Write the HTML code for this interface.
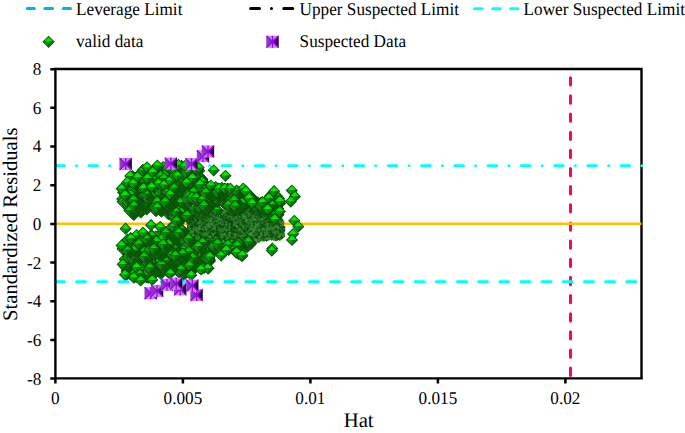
<!DOCTYPE html>
<html><head><meta charset="utf-8"><style>
html,body{margin:0;padding:0;background:#fff;}
svg{display:block;}
</style></head><body>
<svg width="685" height="433" viewBox="0 0 685 433" text-rendering="geometricPrecision">
<defs>
<radialGradient id="gt" gradientUnits="userSpaceOnUse" cx="0" cy="-0.8" r="5.4">
<stop offset="0" stop-color="#00FF00"/><stop offset="0.45" stop-color="#03D803"/><stop offset="1" stop-color="#0A9A0A"/>
</radialGradient>
<radialGradient id="gd" gradientUnits="userSpaceOnUse" cx="0" cy="-0.8" r="5.4">
<stop offset="0" stop-color="#00E400"/><stop offset="0.45" stop-color="#05BC05"/><stop offset="1" stop-color="#0A860A"/>
</radialGradient>
<g id="g">
<path d="M0-6.1L6.1 0L0 6.1L-6.1 0Z" fill="#0A4A0A"/>
<path d="M0-5L5 0H-5Z" fill="url(#gd)"/>
<path d="M-5 0H0V5Z" fill="#0C8A0C"/>
<path d="M5 0H0V5Z" fill="#0A6A0A"/>
<path d="M-5.1 0.3L-0.3 5.1" stroke="#4A884A" stroke-width="0.8"/>
</g>
<g id="gL">
<path d="M0-6.1L6.1 0L0 6.1L-6.1 0Z" fill="#0A4C0A"/>
<path d="M0-5L5 0H-5Z" fill="url(#gt)"/>
<path d="M-5 0H0V5Z" fill="#0E9A0E"/>
<path d="M5 0H0V5Z" fill="#0A760A"/>
</g>
<pattern id="hatch" patternUnits="userSpaceOnUse" width="3" height="3" patternTransform="rotate(60)">
<rect width="3" height="3" fill="#317431"/><rect width="1.5" height="3" fill="#0C4A0C"/>
</pattern>
<linearGradient id="pr" gradientUnits="userSpaceOnUse" x1="6" y1="0" x2="0" y2="0">
<stop offset="0" stop-color="#1A0424"/><stop offset="0.5" stop-color="#3A0E50"/><stop offset="1" stop-color="#7A2AA8"/>
</linearGradient>
<linearGradient id="pl" gradientUnits="userSpaceOnUse" x1="-6" y1="0" x2="0" y2="0">
<stop offset="0" stop-color="#8A48C0"/><stop offset="1" stop-color="#7030A8"/>
</linearGradient>
<g id="p">
<rect x="-6.1" y="-6" width="12.2" height="12" fill="#CC80FA"/>
<path d="M-6.1-6L0 0L-6.1 6Z" fill="url(#pl)"/>
<path d="M6.1-6L0 0L6.1 6Z" fill="url(#pr)"/>
<path d="M-6.1-6L6.1 6M6.1-6L-6.1 6M0-6V6" stroke="#A000F0" stroke-width="1.3"/>
</g>
</defs>
<g stroke-linecap="round" fill="none" stroke-width="3">
<path d="M27.3 8.4H34.3M44.9 8.4H52.6M63.3 8.4H70.5" stroke="#00B0F0"/>
<path d="M250.6 8.4H259.5M271.5 8.4H271.5M283.8 8.4H292.8" stroke="#000"/>
<path d="M474.5 8.8H482.2M492.6 8.8H500.3M510.6 8.8H518" stroke="#00FFFF"/>
</g>
<g font-family="Liberation Serif" font-size="17.2" fill="#000">
<text transform="translate(76 14.9) scale(1 1.04)" text-anchor="start">Leverage Limit</text>
<text transform="translate(299.6 14.9) scale(1 1.04)" text-anchor="start">Upper Suspected Limit</text>
<text transform="translate(523.6 14.9) scale(1 1.04)" text-anchor="start">Lower Suspected Limit</text>
<text transform="translate(76 47.4) scale(1 1.04)" text-anchor="start">valid data</text>
<text transform="translate(299.6 47.4) scale(1 1.04)" text-anchor="start">Suspected Data</text>
</g>
<g font-family="Liberation Serif" font-size="17.2" fill="#000" text-anchor="end">
<text transform="translate(41.3 384.5) scale(1 1.04)" text-anchor="end">-8</text>
<text transform="translate(41.3 345.8) scale(1 1.04)" text-anchor="end">-6</text>
<text transform="translate(41.3 307.2) scale(1 1.04)" text-anchor="end">-4</text>
<text transform="translate(41.3 268.5) scale(1 1.04)" text-anchor="end">-2</text>
<text transform="translate(41.3 229.8) scale(1 1.04)" text-anchor="end">0</text>
<text transform="translate(41.3 191.1) scale(1 1.04)" text-anchor="end">2</text>
<text transform="translate(41.3 152.4) scale(1 1.04)" text-anchor="end">4</text>
<text transform="translate(41.3 113.8) scale(1 1.04)" text-anchor="end">6</text>
<text transform="translate(41.3 75.1) scale(1 1.04)" text-anchor="end">8</text>
</g>
<g font-family="Liberation Serif" font-size="17.2" fill="#000" text-anchor="middle">
<text transform="translate(55.4 403.9) scale(1 1.04)" text-anchor="middle">0</text>
<text transform="translate(182.9 403.9) scale(1 1.04)" text-anchor="middle">0.005</text>
<text transform="translate(310.4 403.9) scale(1 1.04)" text-anchor="middle">0.01</text>
<text transform="translate(437.9 403.9) scale(1 1.04)" text-anchor="middle">0.015</text>
<text transform="translate(565.4 403.9) scale(1 1.04)" text-anchor="middle">0.02</text>
</g>
<text font-family="Liberation Serif" font-size="20.7" x="358.7" y="426.8" text-anchor="middle">Hat</text>
<text font-family="Liberation Serif" font-size="20.7" transform="translate(17.4,224.2) rotate(-90)" text-anchor="middle">Standardized Residuals</text>
<path d="M55.4 69.0H641.5V378.4" fill="none" stroke="#000" stroke-width="2.4"/>
<line x1="570.5" x2="570.5" y1="77.7" y2="378.4" stroke="#FF0066" stroke-width="3" stroke-linecap="round" stroke-dasharray="7.3 10.85"/>
<line x1="55.4" x2="641.5" y1="223.70" y2="223.70" stroke="#FFC000" stroke-width="2.5"/>
<line x1="55.74" x2="642.6" y1="165.68" y2="165.68" stroke="#00FFFF" stroke-width="3" stroke-linecap="round" stroke-dasharray="8.5 12.3 0 12.46"/>
<line x1="55.44" x2="641.5" y1="281.72" y2="281.72" stroke="#00FFFF" stroke-width="3" stroke-linecap="round" stroke-dasharray="8.9 12.26"/>
<use href="#gL" x="48.6" y="41.8"/><use href="#p" transform="translate(272.5 41.8)"/><path d="M192 213L205 211L240 210L262 211L276 213L283 219L285 236L281 240L270 240L255 242L240 244L228 246L215 245L195 242L187 234L187 220Z" fill="url(#hatch)"/><path d="M193.6 236.5l1.4 1.4l-1.4 1.4l-1.4 -1.4z" fill="#3A843A"/><path d="M239.8 226.6l1.0 1.0l-1.0 1.0l-1.0 -1.0z" fill="#0E520E"/><path d="M212.8 225.8l1.6 1.6l-1.6 1.6l-1.6 -1.6z" fill="#3F8A3F"/><path d="M266.4 222.1l1.0 1.0l-1.0 1.0l-1.0 -1.0z" fill="#0B480B"/><path d="M214.8 241.5l1.1 1.1l-1.1 1.1l-1.1 -1.1z" fill="#0E520E"/><path d="M231.2 242.5l0.9 0.9l-0.9 0.9l-0.9 -0.9z" fill="#1E8A1E"/><path d="M209.0 227.4l1.9 1.9l-1.9 1.9l-1.9 -1.9z" fill="#0E520E"/><path d="M199.3 226.6l1.7 1.7l-1.7 1.7l-1.7 -1.7z" fill="#3A843A"/><path d="M252.9 225.2l1.1 1.1l-1.1 1.1l-1.1 -1.1z" fill="#0B480B"/><path d="M235.1 221.4l1.4 1.4l-1.4 1.4l-1.4 -1.4z" fill="#1E8A1E"/><path d="M222.6 238.3l1.7 1.7l-1.7 1.7l-1.7 -1.7z" fill="#1A5E1A"/><path d="M217.4 229.0l1.2 1.2l-1.2 1.2l-1.2 -1.2z" fill="#0B480B"/><path d="M231.3 220.4l1.6 1.6l-1.6 1.6l-1.6 -1.6z" fill="#0E520E"/><path d="M223.0 224.3l1.7 1.7l-1.7 1.7l-1.7 -1.7z" fill="#3F8A3F"/><path d="M227.3 241.4l1.1 1.1l-1.1 1.1l-1.1 -1.1z" fill="#3F8A3F"/><path d="M260.1 223.3l1.4 1.4l-1.4 1.4l-1.4 -1.4z" fill="#0E520E"/><path d="M249.4 227.0l1.4 1.4l-1.4 1.4l-1.4 -1.4z" fill="#1A5E1A"/><path d="M256.9 226.7l1.7 1.7l-1.7 1.7l-1.7 -1.7z" fill="#0E520E"/><path d="M281.5 233.3l1.0 1.0l-1.0 1.0l-1.0 -1.0z" fill="#1E8A1E"/><path d="M216.9 229.8l1.2 1.2l-1.2 1.2l-1.2 -1.2z" fill="#3F8A3F"/><path d="M270.8 224.7l1.8 1.8l-1.8 1.8l-1.8 -1.8z" fill="#0B480B"/><path d="M199.1 219.0l1.4 1.4l-1.4 1.4l-1.4 -1.4z" fill="#0E520E"/><path d="M260.2 225.9l1.1 1.1l-1.1 1.1l-1.1 -1.1z" fill="#1A5E1A"/><path d="M220.4 219.8l1.2 1.2l-1.2 1.2l-1.2 -1.2z" fill="#0B480B"/><path d="M202.6 223.0l1.4 1.4l-1.4 1.4l-1.4 -1.4z" fill="#3F8A3F"/><path d="M263.5 237.0l1.5 1.5l-1.5 1.5l-1.5 -1.5z" fill="#0B480B"/><path d="M232.1 235.9l1.9 1.9l-1.9 1.9l-1.9 -1.9z" fill="#1A5E1A"/><path d="M253.5 236.7l1.9 1.9l-1.9 1.9l-1.9 -1.9z" fill="#0B480B"/><path d="M213.7 224.8l1.8 1.8l-1.8 1.8l-1.8 -1.8z" fill="#1E8A1E"/><path d="M257.7 212.8l1.6 1.6l-1.6 1.6l-1.6 -1.6z" fill="#0E520E"/><path d="M192.9 220.4l1.8 1.8l-1.8 1.8l-1.8 -1.8z" fill="#2A702A"/><path d="M228.8 229.5l1.7 1.7l-1.7 1.7l-1.7 -1.7z" fill="#3F8A3F"/><path d="M268.1 236.2l0.9 0.9l-0.9 0.9l-0.9 -0.9z" fill="#0E520E"/><path d="M228.0 225.2l1.0 1.0l-1.0 1.0l-1.0 -1.0z" fill="#1E8A1E"/><path d="M240.1 229.7l1.8 1.8l-1.8 1.8l-1.8 -1.8z" fill="#0E520E"/><path d="M209.0 232.3l1.0 1.0l-1.0 1.0l-1.0 -1.0z" fill="#2A702A"/><path d="M208.4 229.2l1.1 1.1l-1.1 1.1l-1.1 -1.1z" fill="#1E8A1E"/><path d="M264.2 239.8l0.9 0.9l-0.9 0.9l-0.9 -0.9z" fill="#0E520E"/><path d="M239.3 236.5l2.0 2.0l-2.0 2.0l-2.0 -2.0z" fill="#0E520E"/><path d="M213.4 213.4l1.9 1.9l-1.9 1.9l-1.9 -1.9z" fill="#1A5E1A"/><path d="M276.9 214.9l1.4 1.4l-1.4 1.4l-1.4 -1.4z" fill="#3A843A"/><path d="M257.9 239.2l1.1 1.1l-1.1 1.1l-1.1 -1.1z" fill="#0E520E"/><path d="M252.5 237.4l1.5 1.5l-1.5 1.5l-1.5 -1.5z" fill="#1E8A1E"/><path d="M214.2 237.9l0.9 0.9l-0.9 0.9l-0.9 -0.9z" fill="#0E520E"/><path d="M192.4 213.6l0.9 0.9l-0.9 0.9l-0.9 -0.9z" fill="#0B480B"/><path d="M238.5 233.4l1.4 1.4l-1.4 1.4l-1.4 -1.4z" fill="#1A5E1A"/><path d="M199.5 219.7l1.5 1.5l-1.5 1.5l-1.5 -1.5z" fill="#347E34"/><path d="M231.9 235.7l1.9 1.9l-1.9 1.9l-1.9 -1.9z" fill="#1E8A1E"/><path d="M247.0 240.4l0.9 0.9l-0.9 0.9l-0.9 -0.9z" fill="#3F8A3F"/><path d="M213.2 218.2l1.0 1.0l-1.0 1.0l-1.0 -1.0z" fill="#3A843A"/><path d="M253.3 210.3l1.3 1.3l-1.3 1.3l-1.3 -1.3z" fill="#347E34"/><path d="M227.8 214.2l1.5 1.5l-1.5 1.5l-1.5 -1.5z" fill="#347E34"/><path d="M239.5 219.0l1.7 1.7l-1.7 1.7l-1.7 -1.7z" fill="#3A843A"/><path d="M202.0 214.8l1.3 1.3l-1.3 1.3l-1.3 -1.3z" fill="#2A702A"/><path d="M223.8 214.7l1.9 1.9l-1.9 1.9l-1.9 -1.9z" fill="#1A5E1A"/><path d="M268.8 211.6l1.3 1.3l-1.3 1.3l-1.3 -1.3z" fill="#0E520E"/><path d="M209.3 224.5l1.2 1.2l-1.2 1.2l-1.2 -1.2z" fill="#1A5E1A"/><path d="M236.2 241.8l1.3 1.3l-1.3 1.3l-1.3 -1.3z" fill="#0E520E"/><path d="M251.0 229.3l1.7 1.7l-1.7 1.7l-1.7 -1.7z" fill="#2A702A"/><path d="M192.2 234.6l1.9 1.9l-1.9 1.9l-1.9 -1.9z" fill="#1E8A1E"/><path d="M246.4 218.0l1.6 1.6l-1.6 1.6l-1.6 -1.6z" fill="#347E34"/><path d="M257.2 232.2l1.1 1.1l-1.1 1.1l-1.1 -1.1z" fill="#3A843A"/><path d="M228.5 230.0l0.9 0.9l-0.9 0.9l-0.9 -0.9z" fill="#347E34"/><path d="M249.7 236.1l1.1 1.1l-1.1 1.1l-1.1 -1.1z" fill="#2A702A"/><path d="M216.8 216.6l1.6 1.6l-1.6 1.6l-1.6 -1.6z" fill="#0E520E"/><path d="M232.2 224.4l1.0 1.0l-1.0 1.0l-1.0 -1.0z" fill="#0E520E"/><path d="M254.5 237.6l1.6 1.6l-1.6 1.6l-1.6 -1.6z" fill="#1E8A1E"/><path d="M210.2 237.0l1.1 1.1l-1.1 1.1l-1.1 -1.1z" fill="#3F8A3F"/><path d="M268.7 229.3l1.2 1.2l-1.2 1.2l-1.2 -1.2z" fill="#0E520E"/><path d="M237.3 231.1l1.2 1.2l-1.2 1.2l-1.2 -1.2z" fill="#3A843A"/><path d="M270.7 222.7l1.9 1.9l-1.9 1.9l-1.9 -1.9z" fill="#0E520E"/><path d="M269.5 211.1l1.6 1.6l-1.6 1.6l-1.6 -1.6z" fill="#347E34"/><path d="M217.0 235.4l1.5 1.5l-1.5 1.5l-1.5 -1.5z" fill="#3F8A3F"/><path d="M231.8 241.2l1.0 1.0l-1.0 1.0l-1.0 -1.0z" fill="#0B480B"/><path d="M241.7 220.2l0.9 0.9l-0.9 0.9l-0.9 -0.9z" fill="#0E520E"/><path d="M261.4 227.9l1.9 1.9l-1.9 1.9l-1.9 -1.9z" fill="#1E8A1E"/><path d="M245.8 219.5l2.0 2.0l-2.0 2.0l-2.0 -2.0z" fill="#3A843A"/><path d="M259.3 221.4l1.3 1.3l-1.3 1.3l-1.3 -1.3z" fill="#3A843A"/><path d="M273.7 219.2l1.9 1.9l-1.9 1.9l-1.9 -1.9z" fill="#3A843A"/><path d="M250.4 220.2l1.0 1.0l-1.0 1.0l-1.0 -1.0z" fill="#347E34"/><path d="M226.5 213.7l1.2 1.2l-1.2 1.2l-1.2 -1.2z" fill="#347E34"/><path d="M276.0 213.3l1.8 1.8l-1.8 1.8l-1.8 -1.8z" fill="#0E520E"/><path d="M239.0 208.7l1.9 1.9l-1.9 1.9l-1.9 -1.9z" fill="#0E520E"/><path d="M221.8 234.6l1.5 1.5l-1.5 1.5l-1.5 -1.5z" fill="#2A702A"/><path d="M195.3 211.9l1.1 1.1l-1.1 1.1l-1.1 -1.1z" fill="#347E34"/><path d="M195.1 226.8l1.0 1.0l-1.0 1.0l-1.0 -1.0z" fill="#0E520E"/><path d="M207.5 235.3l1.9 1.9l-1.9 1.9l-1.9 -1.9z" fill="#0B480B"/><path d="M224.9 227.1l1.9 1.9l-1.9 1.9l-1.9 -1.9z" fill="#2A702A"/><path d="M268.3 230.2l1.3 1.3l-1.3 1.3l-1.3 -1.3z" fill="#347E34"/><path d="M273.2 234.5l1.0 1.0l-1.0 1.0l-1.0 -1.0z" fill="#2A702A"/><path d="M215.9 225.5l1.5 1.5l-1.5 1.5l-1.5 -1.5z" fill="#3F8A3F"/><path d="M269.3 216.2l1.6 1.6l-1.6 1.6l-1.6 -1.6z" fill="#3A843A"/><path d="M223.4 236.6l1.1 1.1l-1.1 1.1l-1.1 -1.1z" fill="#0B480B"/><path d="M233.7 211.7l1.1 1.1l-1.1 1.1l-1.1 -1.1z" fill="#347E34"/><path d="M279.5 218.8l1.9 1.9l-1.9 1.9l-1.9 -1.9z" fill="#3A843A"/><path d="M238.4 208.7l1.8 1.8l-1.8 1.8l-1.8 -1.8z" fill="#0E520E"/><path d="M202.6 219.7l1.9 1.9l-1.9 1.9l-1.9 -1.9z" fill="#0E520E"/><path d="M234.6 231.6l1.7 1.7l-1.7 1.7l-1.7 -1.7z" fill="#347E34"/><path d="M197.0 238.1l1.9 1.9l-1.9 1.9l-1.9 -1.9z" fill="#0B480B"/><path d="M201.5 228.0l1.2 1.2l-1.2 1.2l-1.2 -1.2z" fill="#1A5E1A"/><path d="M237.3 236.6l1.7 1.7l-1.7 1.7l-1.7 -1.7z" fill="#2A702A"/><path d="M196.8 238.7l1.2 1.2l-1.2 1.2l-1.2 -1.2z" fill="#0E520E"/><path d="M266.8 226.3l1.1 1.1l-1.1 1.1l-1.1 -1.1z" fill="#1A5E1A"/><path d="M259.4 237.2l1.7 1.7l-1.7 1.7l-1.7 -1.7z" fill="#3F8A3F"/><path d="M209.6 213.0l1.5 1.5l-1.5 1.5l-1.5 -1.5z" fill="#3F8A3F"/><path d="M225.9 220.8l1.4 1.4l-1.4 1.4l-1.4 -1.4z" fill="#347E34"/><path d="M233.2 217.8l1.4 1.4l-1.4 1.4l-1.4 -1.4z" fill="#0E520E"/><path d="M278.9 214.0l1.6 1.6l-1.6 1.6l-1.6 -1.6z" fill="#0E520E"/><path d="M250.4 218.0l1.4 1.4l-1.4 1.4l-1.4 -1.4z" fill="#347E34"/><path d="M283.0 220.0l1.7 1.7l-1.7 1.7l-1.7 -1.7z" fill="#3F8A3F"/><path d="M270.0 220.4l2.0 2.0l-2.0 2.0l-2.0 -2.0z" fill="#1E8A1E"/><path d="M248.6 225.9l1.7 1.7l-1.7 1.7l-1.7 -1.7z" fill="#2A702A"/><path d="M228.4 234.2l1.2 1.2l-1.2 1.2l-1.2 -1.2z" fill="#0E520E"/><path d="M278.7 227.9l1.2 1.2l-1.2 1.2l-1.2 -1.2z" fill="#3F8A3F"/><path d="M229.7 240.3l1.8 1.8l-1.8 1.8l-1.8 -1.8z" fill="#1E8A1E"/><path d="M234.4 220.7l1.3 1.3l-1.3 1.3l-1.3 -1.3z" fill="#2A702A"/><path d="M208.4 220.4l1.5 1.5l-1.5 1.5l-1.5 -1.5z" fill="#3F8A3F"/><path d="M205.2 225.5l1.5 1.5l-1.5 1.5l-1.5 -1.5z" fill="#3A843A"/><path d="M251.7 211.4l1.6 1.6l-1.6 1.6l-1.6 -1.6z" fill="#3F8A3F"/><path d="M277.6 217.8l1.3 1.3l-1.3 1.3l-1.3 -1.3z" fill="#1A5E1A"/><path d="M231.9 242.8l1.6 1.6l-1.6 1.6l-1.6 -1.6z" fill="#0E520E"/><path d="M221.3 220.9l1.9 1.9l-1.9 1.9l-1.9 -1.9z" fill="#0E520E"/><path d="M268.2 212.9l1.2 1.2l-1.2 1.2l-1.2 -1.2z" fill="#0E520E"/><path d="M223.2 215.5l1.5 1.5l-1.5 1.5l-1.5 -1.5z" fill="#0E520E"/><path d="M208.4 228.3l1.9 1.9l-1.9 1.9l-1.9 -1.9z" fill="#1A5E1A"/><path d="M270.9 211.5l1.1 1.1l-1.1 1.1l-1.1 -1.1z" fill="#1A5E1A"/><path d="M227.3 231.6l1.3 1.3l-1.3 1.3l-1.3 -1.3z" fill="#0B480B"/><path d="M211.2 220.6l1.1 1.1l-1.1 1.1l-1.1 -1.1z" fill="#347E34"/><path d="M272.2 233.4l1.4 1.4l-1.4 1.4l-1.4 -1.4z" fill="#0E520E"/><path d="M256.0 226.8l1.5 1.5l-1.5 1.5l-1.5 -1.5z" fill="#2A702A"/><path d="M222.7 225.1l2.0 2.0l-2.0 2.0l-2.0 -2.0z" fill="#2A702A"/><path d="M264.4 238.6l1.0 1.0l-1.0 1.0l-1.0 -1.0z" fill="#0B480B"/><path d="M236.4 221.6l1.0 1.0l-1.0 1.0l-1.0 -1.0z" fill="#0E520E"/><path d="M225.5 210.6l1.2 1.2l-1.2 1.2l-1.2 -1.2z" fill="#3F8A3F"/><path d="M265.9 232.7l1.7 1.7l-1.7 1.7l-1.7 -1.7z" fill="#1E8A1E"/><path d="M193.9 214.1l0.9 0.9l-0.9 0.9l-0.9 -0.9z" fill="#3A843A"/><path d="M195.8 210.8l2.0 2.0l-2.0 2.0l-2.0 -2.0z" fill="#3A843A"/><path d="M275.4 215.4l1.2 1.2l-1.2 1.2l-1.2 -1.2z" fill="#0E520E"/><path d="M282.1 228.8l1.3 1.3l-1.3 1.3l-1.3 -1.3z" fill="#1E8A1E"/><path d="M232.7 217.5l1.5 1.5l-1.5 1.5l-1.5 -1.5z" fill="#0B480B"/><path d="M258.5 226.3l1.8 1.8l-1.8 1.8l-1.8 -1.8z" fill="#347E34"/><path d="M197.3 229.3l2.0 2.0l-2.0 2.0l-2.0 -2.0z" fill="#1E8A1E"/><path d="M200.9 225.7l1.6 1.6l-1.6 1.6l-1.6 -1.6z" fill="#3F8A3F"/><path d="M219.8 243.3l1.4 1.4l-1.4 1.4l-1.4 -1.4z" fill="#3F8A3F"/><path d="M233.9 241.5l0.9 0.9l-0.9 0.9l-0.9 -0.9z" fill="#3F8A3F"/><path d="M272.9 212.5l1.3 1.3l-1.3 1.3l-1.3 -1.3z" fill="#3F8A3F"/><path d="M234.8 225.7l0.9 0.9l-0.9 0.9l-0.9 -0.9z" fill="#0E520E"/><path d="M217.7 220.2l2.0 2.0l-2.0 2.0l-2.0 -2.0z" fill="#347E34"/><path d="M277.7 228.7l1.9 1.9l-1.9 1.9l-1.9 -1.9z" fill="#3F8A3F"/><path d="M272.4 221.9l1.0 1.0l-1.0 1.0l-1.0 -1.0z" fill="#0B480B"/><path d="M246.7 220.0l0.9 0.9l-0.9 0.9l-0.9 -0.9z" fill="#1A5E1A"/><path d="M239.7 230.2l1.6 1.6l-1.6 1.6l-1.6 -1.6z" fill="#0E520E"/><path d="M278.7 224.8l1.5 1.5l-1.5 1.5l-1.5 -1.5z" fill="#1A5E1A"/><path d="M208.7 216.5l1.5 1.5l-1.5 1.5l-1.5 -1.5z" fill="#347E34"/><path d="M222.8 235.5l1.2 1.2l-1.2 1.2l-1.2 -1.2z" fill="#0E520E"/><path d="M272.3 233.4l1.6 1.6l-1.6 1.6l-1.6 -1.6z" fill="#0E520E"/><path d="M203.9 240.7l1.9 1.9l-1.9 1.9l-1.9 -1.9z" fill="#3A843A"/><path d="M193.8 236.7l0.9 0.9l-0.9 0.9l-0.9 -0.9z" fill="#0B480B"/><path d="M199.5 211.8l1.2 1.2l-1.2 1.2l-1.2 -1.2z" fill="#0E520E"/><path d="M224.8 241.3l1.4 1.4l-1.4 1.4l-1.4 -1.4z" fill="#0B480B"/><path d="M198.4 218.2l0.9 0.9l-0.9 0.9l-0.9 -0.9z" fill="#0E520E"/><path d="M188.8 223.5l1.5 1.5l-1.5 1.5l-1.5 -1.5z" fill="#1E8A1E"/><path d="M211.0 222.0l1.0 1.0l-1.0 1.0l-1.0 -1.0z" fill="#0E520E"/><path d="M251.9 222.4l1.1 1.1l-1.1 1.1l-1.1 -1.1z" fill="#3A843A"/><path d="M235.7 215.5l1.2 1.2l-1.2 1.2l-1.2 -1.2z" fill="#0B480B"/><path d="M198.4 236.7l1.2 1.2l-1.2 1.2l-1.2 -1.2z" fill="#0E520E"/><path d="M281.6 222.9l1.1 1.1l-1.1 1.1l-1.1 -1.1z" fill="#1A5E1A"/><path d="M256.5 234.3l1.9 1.9l-1.9 1.9l-1.9 -1.9z" fill="#3F8A3F"/><path d="M199.2 236.4l1.8 1.8l-1.8 1.8l-1.8 -1.8z" fill="#0E520E"/><path d="M216.5 224.2l1.6 1.6l-1.6 1.6l-1.6 -1.6z" fill="#2A702A"/><path d="M210.6 239.6l1.7 1.7l-1.7 1.7l-1.7 -1.7z" fill="#3A843A"/><path d="M271.7 224.2l1.5 1.5l-1.5 1.5l-1.5 -1.5z" fill="#3A843A"/><path d="M205.4 218.9l1.7 1.7l-1.7 1.7l-1.7 -1.7z" fill="#347E34"/><path d="M229.5 237.2l1.1 1.1l-1.1 1.1l-1.1 -1.1z" fill="#0E520E"/><path d="M233.7 226.2l1.8 1.8l-1.8 1.8l-1.8 -1.8z" fill="#0E520E"/><path d="M236.7 220.9l1.2 1.2l-1.2 1.2l-1.2 -1.2z" fill="#347E34"/><path d="M263.2 233.3l1.0 1.0l-1.0 1.0l-1.0 -1.0z" fill="#347E34"/><path d="M240.8 236.6l1.9 1.9l-1.9 1.9l-1.9 -1.9z" fill="#347E34"/><path d="M190.3 232.7l1.6 1.6l-1.6 1.6l-1.6 -1.6z" fill="#347E34"/><path d="M281.2 231.4l1.0 1.0l-1.0 1.0l-1.0 -1.0z" fill="#2A702A"/><path d="M253.0 216.6l1.8 1.8l-1.8 1.8l-1.8 -1.8z" fill="#0E520E"/><path d="M189.1 219.3l1.6 1.6l-1.6 1.6l-1.6 -1.6z" fill="#0E520E"/><path d="M201.6 231.2l1.7 1.7l-1.7 1.7l-1.7 -1.7z" fill="#0E520E"/><path d="M259.4 240.0l1.4 1.4l-1.4 1.4l-1.4 -1.4z" fill="#3A843A"/><path d="M200.2 217.3l1.3 1.3l-1.3 1.3l-1.3 -1.3z" fill="#2A702A"/><path d="M191.5 234.2l1.0 1.0l-1.0 1.0l-1.0 -1.0z" fill="#347E34"/><path d="M266.6 217.1l1.3 1.3l-1.3 1.3l-1.3 -1.3z" fill="#0E520E"/><path d="M268.6 230.7l1.2 1.2l-1.2 1.2l-1.2 -1.2z" fill="#1E8A1E"/><path d="M230.9 239.8l0.9 0.9l-0.9 0.9l-0.9 -0.9z" fill="#0B480B"/><path d="M204.2 237.6l1.0 1.0l-1.0 1.0l-1.0 -1.0z" fill="#1A5E1A"/><path d="M227.0 229.0l1.2 1.2l-1.2 1.2l-1.2 -1.2z" fill="#1E8A1E"/><path d="M274.5 233.7l1.1 1.1l-1.1 1.1l-1.1 -1.1z" fill="#3A843A"/><path d="M243.1 214.4l1.5 1.5l-1.5 1.5l-1.5 -1.5z" fill="#0E520E"/><path d="M197.6 219.9l1.4 1.4l-1.4 1.4l-1.4 -1.4z" fill="#1E8A1E"/><path d="M224.3 223.1l1.4 1.4l-1.4 1.4l-1.4 -1.4z" fill="#0B480B"/><path d="M261.7 219.0l1.3 1.3l-1.3 1.3l-1.3 -1.3z" fill="#1E8A1E"/><path d="M225.0 213.0l1.6 1.6l-1.6 1.6l-1.6 -1.6z" fill="#2A702A"/><path d="M226.0 241.1l1.8 1.8l-1.8 1.8l-1.8 -1.8z" fill="#0E520E"/><path d="M209.0 216.2l1.8 1.8l-1.8 1.8l-1.8 -1.8z" fill="#2A702A"/><path d="M249.0 221.8l1.8 1.8l-1.8 1.8l-1.8 -1.8z" fill="#1E8A1E"/><path d="M214.5 220.6l1.0 1.0l-1.0 1.0l-1.0 -1.0z" fill="#3A843A"/><path d="M272.7 213.2l1.5 1.5l-1.5 1.5l-1.5 -1.5z" fill="#0E520E"/><path d="M236.9 237.8l1.3 1.3l-1.3 1.3l-1.3 -1.3z" fill="#3A843A"/><path d="M200.3 222.2l1.0 1.0l-1.0 1.0l-1.0 -1.0z" fill="#1A5E1A"/><path d="M216.1 231.3l1.0 1.0l-1.0 1.0l-1.0 -1.0z" fill="#1E8A1E"/><path d="M216.0 238.8l1.1 1.1l-1.1 1.1l-1.1 -1.1z" fill="#1E8A1E"/><path d="M218.2 242.5l1.2 1.2l-1.2 1.2l-1.2 -1.2z" fill="#1E8A1E"/><path d="M259.3 210.5l1.5 1.5l-1.5 1.5l-1.5 -1.5z" fill="#3A843A"/><path d="M251.8 215.5l1.3 1.3l-1.3 1.3l-1.3 -1.3z" fill="#1A5E1A"/><path d="M241.1 229.8l1.1 1.1l-1.1 1.1l-1.1 -1.1z" fill="#1A5E1A"/><path d="M218.2 236.9l1.1 1.1l-1.1 1.1l-1.1 -1.1z" fill="#1A5E1A"/><path d="M232.1 226.6l1.6 1.6l-1.6 1.6l-1.6 -1.6z" fill="#3F8A3F"/><path d="M257.8 236.8l1.7 1.7l-1.7 1.7l-1.7 -1.7z" fill="#1A5E1A"/><path d="M218.6 238.1l1.5 1.5l-1.5 1.5l-1.5 -1.5z" fill="#1A5E1A"/><path d="M211.9 213.7l1.7 1.7l-1.7 1.7l-1.7 -1.7z" fill="#1E8A1E"/><path d="M249.7 210.1l1.5 1.5l-1.5 1.5l-1.5 -1.5z" fill="#347E34"/><path d="M190.5 221.9l1.5 1.5l-1.5 1.5l-1.5 -1.5z" fill="#3A843A"/><path d="M251.0 213.9l0.9 0.9l-0.9 0.9l-0.9 -0.9z" fill="#0B480B"/><path d="M243.6 237.5l1.8 1.8l-1.8 1.8l-1.8 -1.8z" fill="#0B480B"/><path d="M222.0 228.7l1.7 1.7l-1.7 1.7l-1.7 -1.7z" fill="#2A702A"/><path d="M273.3 225.3l1.9 1.9l-1.9 1.9l-1.9 -1.9z" fill="#347E34"/><path d="M217.8 215.9l1.2 1.2l-1.2 1.2l-1.2 -1.2z" fill="#2A702A"/><path d="M233.1 233.7l1.1 1.1l-1.1 1.1l-1.1 -1.1z" fill="#1A5E1A"/><path d="M236.7 223.7l1.4 1.4l-1.4 1.4l-1.4 -1.4z" fill="#3A843A"/><path d="M204.8 230.4l1.6 1.6l-1.6 1.6l-1.6 -1.6z" fill="#347E34"/><path d="M249.6 235.1l1.4 1.4l-1.4 1.4l-1.4 -1.4z" fill="#3A843A"/><path d="M271.3 228.3l1.9 1.9l-1.9 1.9l-1.9 -1.9z" fill="#3A843A"/><path d="M227.0 233.8l1.1 1.1l-1.1 1.1l-1.1 -1.1z" fill="#0E520E"/><path d="M223.1 209.1l1.6 1.6l-1.6 1.6l-1.6 -1.6z" fill="#1A5E1A"/><path d="M279.3 235.5l2.0 2.0l-2.0 2.0l-2.0 -2.0z" fill="#0E520E"/><path d="M279.5 224.7l1.2 1.2l-1.2 1.2l-1.2 -1.2z" fill="#1A5E1A"/><path d="M192.5 217.5l1.6 1.6l-1.6 1.6l-1.6 -1.6z" fill="#347E34"/><path d="M267.7 235.6l1.7 1.7l-1.7 1.7l-1.7 -1.7z" fill="#1A5E1A"/><path d="M259.7 231.4l1.3 1.3l-1.3 1.3l-1.3 -1.3z" fill="#3A843A"/><path d="M231.9 239.2l1.1 1.1l-1.1 1.1l-1.1 -1.1z" fill="#1A5E1A"/><path d="M253.2 216.4l1.3 1.3l-1.3 1.3l-1.3 -1.3z" fill="#347E34"/><path d="M273.2 222.8l1.9 1.9l-1.9 1.9l-1.9 -1.9z" fill="#0B480B"/><path d="M246.0 218.7l1.2 1.2l-1.2 1.2l-1.2 -1.2z" fill="#347E34"/><path d="M269.9 215.9l1.4 1.4l-1.4 1.4l-1.4 -1.4z" fill="#3A843A"/><path d="M279.8 238.1l1.4 1.4l-1.4 1.4l-1.4 -1.4z" fill="#0E520E"/><path d="M249.5 210.0l1.5 1.5l-1.5 1.5l-1.5 -1.5z" fill="#0E520E"/><path d="M262.0 216.6l1.0 1.0l-1.0 1.0l-1.0 -1.0z" fill="#3F8A3F"/><path d="M209.8 237.4l1.4 1.4l-1.4 1.4l-1.4 -1.4z" fill="#1A5E1A"/><path d="M239.6 219.4l1.2 1.2l-1.2 1.2l-1.2 -1.2z" fill="#347E34"/><path d="M241.3 235.5l1.1 1.1l-1.1 1.1l-1.1 -1.1z" fill="#0E520E"/><path d="M229.5 230.9l2.0 2.0l-2.0 2.0l-2.0 -2.0z" fill="#3F8A3F"/><path d="M212.9 222.0l1.5 1.5l-1.5 1.5l-1.5 -1.5z" fill="#3A843A"/><path d="M200.2 229.7l2.0 2.0l-2.0 2.0l-2.0 -2.0z" fill="#0E520E"/><path d="M213.3 225.8l1.0 1.0l-1.0 1.0l-1.0 -1.0z" fill="#3F8A3F"/><path d="M240.2 215.7l1.2 1.2l-1.2 1.2l-1.2 -1.2z" fill="#347E34"/><path d="M248.6 239.3l1.4 1.4l-1.4 1.4l-1.4 -1.4z" fill="#3F8A3F"/><path d="M235.0 237.9l1.0 1.0l-1.0 1.0l-1.0 -1.0z" fill="#0E520E"/><path d="M281.1 224.9l1.3 1.3l-1.3 1.3l-1.3 -1.3z" fill="#0E520E"/><path d="M263.9 217.4l1.1 1.1l-1.1 1.1l-1.1 -1.1z" fill="#0E520E"/><path d="M211.8 232.9l1.0 1.0l-1.0 1.0l-1.0 -1.0z" fill="#0E520E"/><path d="M231.1 216.2l1.5 1.5l-1.5 1.5l-1.5 -1.5z" fill="#0B480B"/><path d="M199.8 235.7l1.9 1.9l-1.9 1.9l-1.9 -1.9z" fill="#0E520E"/><path d="M217.9 220.6l1.6 1.6l-1.6 1.6l-1.6 -1.6z" fill="#347E34"/><path d="M259.9 209.5l1.6 1.6l-1.6 1.6l-1.6 -1.6z" fill="#0E520E"/><path d="M267.4 236.9l1.4 1.4l-1.4 1.4l-1.4 -1.4z" fill="#347E34"/><path d="M268.3 228.1l1.1 1.1l-1.1 1.1l-1.1 -1.1z" fill="#3A843A"/><path d="M214.6 229.4l1.5 1.5l-1.5 1.5l-1.5 -1.5z" fill="#0E520E"/><path d="M266.2 234.3l1.1 1.1l-1.1 1.1l-1.1 -1.1z" fill="#1E8A1E"/><path d="M225.7 236.4l1.4 1.4l-1.4 1.4l-1.4 -1.4z" fill="#1E8A1E"/><path d="M208.5 242.3l1.4 1.4l-1.4 1.4l-1.4 -1.4z" fill="#0E520E"/><path d="M216.9 226.7l1.2 1.2l-1.2 1.2l-1.2 -1.2z" fill="#0B480B"/><path d="M213.0 231.7l1.8 1.8l-1.8 1.8l-1.8 -1.8z" fill="#0B480B"/><path d="M226.9 213.5l1.4 1.4l-1.4 1.4l-1.4 -1.4z" fill="#0E520E"/><path d="M226.2 224.0l1.2 1.2l-1.2 1.2l-1.2 -1.2z" fill="#1E8A1E"/><path d="M263.0 215.5l0.9 0.9l-0.9 0.9l-0.9 -0.9z" fill="#0E520E"/><path d="M256.0 235.3l1.2 1.2l-1.2 1.2l-1.2 -1.2z" fill="#3F8A3F"/><path d="M203.3 228.6l1.9 1.9l-1.9 1.9l-1.9 -1.9z" fill="#1A5E1A"/><path d="M211.4 227.8l1.2 1.2l-1.2 1.2l-1.2 -1.2z" fill="#1A5E1A"/><path d="M260.2 225.0l1.3 1.3l-1.3 1.3l-1.3 -1.3z" fill="#0B480B"/><path d="M251.6 227.5l1.1 1.1l-1.1 1.1l-1.1 -1.1z" fill="#2A702A"/><path d="M227.6 242.6l1.8 1.8l-1.8 1.8l-1.8 -1.8z" fill="#1A5E1A"/><path d="M237.2 232.4l1.1 1.1l-1.1 1.1l-1.1 -1.1z" fill="#2A702A"/><path d="M227.3 241.0l1.1 1.1l-1.1 1.1l-1.1 -1.1z" fill="#1E8A1E"/><path d="M254.6 221.8l1.0 1.0l-1.0 1.0l-1.0 -1.0z" fill="#1A5E1A"/><path d="M215.5 235.1l1.4 1.4l-1.4 1.4l-1.4 -1.4z" fill="#3A843A"/><path d="M266.3 215.2l1.8 1.8l-1.8 1.8l-1.8 -1.8z" fill="#2A702A"/><path d="M272.0 234.6l1.1 1.1l-1.1 1.1l-1.1 -1.1z" fill="#1E8A1E"/><path d="M208.3 210.4l1.0 1.0l-1.0 1.0l-1.0 -1.0z" fill="#3F8A3F"/><path d="M259.9 225.4l1.7 1.7l-1.7 1.7l-1.7 -1.7z" fill="#0E520E"/><path d="M214.3 219.9l1.9 1.9l-1.9 1.9l-1.9 -1.9z" fill="#0B480B"/><path d="M263.9 228.7l0.9 0.9l-0.9 0.9l-0.9 -0.9z" fill="#3A843A"/><path d="M247.7 218.1l1.3 1.3l-1.3 1.3l-1.3 -1.3z" fill="#347E34"/><path d="M282.9 235.5l1.0 1.0l-1.0 1.0l-1.0 -1.0z" fill="#1E8A1E"/><path d="M274.6 229.5l1.6 1.6l-1.6 1.6l-1.6 -1.6z" fill="#3F8A3F"/><path d="M238.6 221.3l1.8 1.8l-1.8 1.8l-1.8 -1.8z" fill="#1E8A1E"/><path d="M214.4 222.8l1.0 1.0l-1.0 1.0l-1.0 -1.0z" fill="#0E520E"/><path d="M236.3 243.1l1.2 1.2l-1.2 1.2l-1.2 -1.2z" fill="#1E8A1E"/><path d="M265.1 213.2l1.9 1.9l-1.9 1.9l-1.9 -1.9z" fill="#0E520E"/><path d="M237.3 211.9l1.8 1.8l-1.8 1.8l-1.8 -1.8z" fill="#1E8A1E"/><path d="M274.8 213.3l1.0 1.0l-1.0 1.0l-1.0 -1.0z" fill="#1E8A1E"/><path d="M211.1 226.1l1.9 1.9l-1.9 1.9l-1.9 -1.9z" fill="#0B480B"/><path d="M272.1 220.1l0.9 0.9l-0.9 0.9l-0.9 -0.9z" fill="#347E34"/><path d="M245.6 229.1l1.2 1.2l-1.2 1.2l-1.2 -1.2z" fill="#0E520E"/><path d="M200.4 218.8l1.8 1.8l-1.8 1.8l-1.8 -1.8z" fill="#0B480B"/><path d="M201.9 212.7l1.1 1.1l-1.1 1.1l-1.1 -1.1z" fill="#0E520E"/><path d="M263.0 212.7l1.0 1.0l-1.0 1.0l-1.0 -1.0z" fill="#0E520E"/><path d="M248.7 235.6l1.7 1.7l-1.7 1.7l-1.7 -1.7z" fill="#0E520E"/><path d="M229.3 241.8l1.1 1.1l-1.1 1.1l-1.1 -1.1z" fill="#347E34"/><path d="M230.2 221.2l1.5 1.5l-1.5 1.5l-1.5 -1.5z" fill="#0E520E"/><path d="M205.3 212.5l2.0 2.0l-2.0 2.0l-2.0 -2.0z" fill="#1E8A1E"/><path d="M216.2 225.6l1.9 1.9l-1.9 1.9l-1.9 -1.9z" fill="#0B480B"/><path d="M216.3 221.0l1.5 1.5l-1.5 1.5l-1.5 -1.5z" fill="#3A843A"/><path d="M249.3 221.7l1.0 1.0l-1.0 1.0l-1.0 -1.0z" fill="#1E8A1E"/><path d="M214.7 232.9l1.7 1.7l-1.7 1.7l-1.7 -1.7z" fill="#1E8A1E"/><path d="M236.5 215.3l1.8 1.8l-1.8 1.8l-1.8 -1.8z" fill="#1E8A1E"/><path d="M206.8 235.9l1.1 1.1l-1.1 1.1l-1.1 -1.1z" fill="#347E34"/><path d="M279.5 236.2l1.5 1.5l-1.5 1.5l-1.5 -1.5z" fill="#0E520E"/><path d="M229.4 228.6l1.6 1.6l-1.6 1.6l-1.6 -1.6z" fill="#1E8A1E"/><path d="M241.8 233.7l1.0 1.0l-1.0 1.0l-1.0 -1.0z" fill="#0B480B"/><path d="M227.7 235.5l1.4 1.4l-1.4 1.4l-1.4 -1.4z" fill="#1A5E1A"/><path d="M283.1 227.5l1.2 1.2l-1.2 1.2l-1.2 -1.2z" fill="#1A5E1A"/><path d="M275.2 223.1l1.5 1.5l-1.5 1.5l-1.5 -1.5z" fill="#2A702A"/><path d="M250.1 239.5l1.1 1.1l-1.1 1.1l-1.1 -1.1z" fill="#0B480B"/><path d="M273.4 228.9l1.3 1.3l-1.3 1.3l-1.3 -1.3z" fill="#0E520E"/><path d="M219.5 243.4l1.9 1.9l-1.9 1.9l-1.9 -1.9z" fill="#1E8A1E"/><path d="M240.6 219.8l2.0 2.0l-2.0 2.0l-2.0 -2.0z" fill="#347E34"/><path d="M234.7 229.8l0.9 0.9l-0.9 0.9l-0.9 -0.9z" fill="#1E8A1E"/><path d="M204.7 211.0l1.2 1.2l-1.2 1.2l-1.2 -1.2z" fill="#0B480B"/><path d="M204.3 212.6l1.0 1.0l-1.0 1.0l-1.0 -1.0z" fill="#0E520E"/><path d="M223.1 212.0l1.8 1.8l-1.8 1.8l-1.8 -1.8z" fill="#347E34"/><path d="M226.3 211.7l1.6 1.6l-1.6 1.6l-1.6 -1.6z" fill="#3A843A"/><path d="M264.8 221.4l0.9 0.9l-0.9 0.9l-0.9 -0.9z" fill="#1E8A1E"/><path d="M251.0 235.0l1.9 1.9l-1.9 1.9l-1.9 -1.9z" fill="#1E8A1E"/><path d="M257.3 229.8l1.3 1.3l-1.3 1.3l-1.3 -1.3z" fill="#1A5E1A"/><path d="M210.4 209.6l1.8 1.8l-1.8 1.8l-1.8 -1.8z" fill="#2A702A"/><path d="M242.0 218.6l1.0 1.0l-1.0 1.0l-1.0 -1.0z" fill="#347E34"/><path d="M214.8 235.9l1.1 1.1l-1.1 1.1l-1.1 -1.1z" fill="#1E8A1E"/><path d="M191.2 221.8l1.3 1.3l-1.3 1.3l-1.3 -1.3z" fill="#1E8A1E"/><path d="M255.7 228.2l1.4 1.4l-1.4 1.4l-1.4 -1.4z" fill="#347E34"/><path d="M198.8 216.8l1.4 1.4l-1.4 1.4l-1.4 -1.4z" fill="#1E8A1E"/><path d="M193.2 235.3l1.7 1.7l-1.7 1.7l-1.7 -1.7z" fill="#1A5E1A"/><path d="M215.2 241.0l1.5 1.5l-1.5 1.5l-1.5 -1.5z" fill="#1E8A1E"/><path d="M208.4 230.4l1.6 1.6l-1.6 1.6l-1.6 -1.6z" fill="#2A702A"/><path d="M277.4 222.9l1.4 1.4l-1.4 1.4l-1.4 -1.4z" fill="#1E8A1E"/><path d="M188.3 223.4l1.1 1.1l-1.1 1.1l-1.1 -1.1z" fill="#1A5E1A"/><path d="M198.0 238.3l0.9 0.9l-0.9 0.9l-0.9 -0.9z" fill="#347E34"/><path d="M198.9 232.1l1.5 1.5l-1.5 1.5l-1.5 -1.5z" fill="#0E520E"/><path d="M228.9 237.7l1.2 1.2l-1.2 1.2l-1.2 -1.2z" fill="#3F8A3F"/><path d="M206.7 227.0l1.0 1.0l-1.0 1.0l-1.0 -1.0z" fill="#0E520E"/><path d="M193.3 222.8l1.9 1.9l-1.9 1.9l-1.9 -1.9z" fill="#3F8A3F"/><path d="M270.1 229.4l1.6 1.6l-1.6 1.6l-1.6 -1.6z" fill="#347E34"/><path d="M212.6 217.8l1.0 1.0l-1.0 1.0l-1.0 -1.0z" fill="#3A843A"/><path d="M276.2 217.7l2.0 2.0l-2.0 2.0l-2.0 -2.0z" fill="#0E520E"/><path d="M238.6 208.9l1.6 1.6l-1.6 1.6l-1.6 -1.6z" fill="#1A5E1A"/><path d="M256.2 233.2l1.7 1.7l-1.7 1.7l-1.7 -1.7z" fill="#3F8A3F"/><path d="M253.8 236.1l1.3 1.3l-1.3 1.3l-1.3 -1.3z" fill="#0E520E"/><path d="M281.8 225.7l1.2 1.2l-1.2 1.2l-1.2 -1.2z" fill="#1A5E1A"/><path d="M230.1 233.0l1.8 1.8l-1.8 1.8l-1.8 -1.8z" fill="#2A702A"/><path d="M243.8 229.2l1.7 1.7l-1.7 1.7l-1.7 -1.7z" fill="#0E520E"/><path d="M212.1 237.6l1.8 1.8l-1.8 1.8l-1.8 -1.8z" fill="#0E520E"/><path d="M272.2 235.3l1.6 1.6l-1.6 1.6l-1.6 -1.6z" fill="#3A843A"/><path d="M241.4 239.6l1.1 1.1l-1.1 1.1l-1.1 -1.1z" fill="#0E520E"/><path d="M252.5 236.6l1.8 1.8l-1.8 1.8l-1.8 -1.8z" fill="#2A702A"/><path d="M199.0 218.7l1.9 1.9l-1.9 1.9l-1.9 -1.9z" fill="#0E520E"/><path d="M263.5 213.3l1.4 1.4l-1.4 1.4l-1.4 -1.4z" fill="#347E34"/><path d="M238.0 211.6l1.1 1.1l-1.1 1.1l-1.1 -1.1z" fill="#1A5E1A"/><path d="M192.1 233.2l1.7 1.7l-1.7 1.7l-1.7 -1.7z" fill="#0E520E"/><path d="M230.3 240.5l1.1 1.1l-1.1 1.1l-1.1 -1.1z" fill="#3F8A3F"/><path d="M205.4 230.1l1.5 1.5l-1.5 1.5l-1.5 -1.5z" fill="#347E34"/><path d="M248.2 230.2l1.3 1.3l-1.3 1.3l-1.3 -1.3z" fill="#0E520E"/><path d="M246.6 210.4l1.2 1.2l-1.2 1.2l-1.2 -1.2z" fill="#1A5E1A"/><path d="M249.3 229.7l1.5 1.5l-1.5 1.5l-1.5 -1.5z" fill="#0E520E"/><path d="M191.3 218.9l2.0 2.0l-2.0 2.0l-2.0 -2.0z" fill="#3F8A3F"/><path d="M280.3 238.4l1.0 1.0l-1.0 1.0l-1.0 -1.0z" fill="#1E8A1E"/><path d="M193.3 215.1l1.8 1.8l-1.8 1.8l-1.8 -1.8z" fill="#3F8A3F"/><path d="M206.4 216.1l1.2 1.2l-1.2 1.2l-1.2 -1.2z" fill="#3A843A"/><path d="M259.3 226.7l1.8 1.8l-1.8 1.8l-1.8 -1.8z" fill="#3F8A3F"/><path d="M270.6 211.3l1.7 1.7l-1.7 1.7l-1.7 -1.7z" fill="#1A5E1A"/><path d="M246.5 215.5l1.2 1.2l-1.2 1.2l-1.2 -1.2z" fill="#3A843A"/><path d="M202.2 231.7l1.0 1.0l-1.0 1.0l-1.0 -1.0z" fill="#3A843A"/><path d="M192.9 213.6l1.5 1.5l-1.5 1.5l-1.5 -1.5z" fill="#0E520E"/><path d="M273.0 217.2l1.3 1.3l-1.3 1.3l-1.3 -1.3z" fill="#3A843A"/><path d="M242.9 231.4l1.7 1.7l-1.7 1.7l-1.7 -1.7z" fill="#0B480B"/><path d="M218.5 220.9l1.9 1.9l-1.9 1.9l-1.9 -1.9z" fill="#3A843A"/><path d="M276.6 222.4l2.0 2.0l-2.0 2.0l-2.0 -2.0z" fill="#1E8A1E"/><path d="M203.5 237.6l1.9 1.9l-1.9 1.9l-1.9 -1.9z" fill="#347E34"/><path d="M242.5 233.6l1.0 1.0l-1.0 1.0l-1.0 -1.0z" fill="#347E34"/><path d="M270.3 232.7l1.5 1.5l-1.5 1.5l-1.5 -1.5z" fill="#0B480B"/><path d="M244.1 213.1l1.8 1.8l-1.8 1.8l-1.8 -1.8z" fill="#3F8A3F"/><path d="M238.9 230.4l1.1 1.1l-1.1 1.1l-1.1 -1.1z" fill="#3A843A"/><path d="M248.8 216.1l1.7 1.7l-1.7 1.7l-1.7 -1.7z" fill="#1E8A1E"/><path d="M207.1 222.0l1.9 1.9l-1.9 1.9l-1.9 -1.9z" fill="#2A702A"/><path d="M189.6 221.8l1.2 1.2l-1.2 1.2l-1.2 -1.2z" fill="#1E8A1E"/><path d="M202.4 225.5l1.3 1.3l-1.3 1.3l-1.3 -1.3z" fill="#0E520E"/><path d="M212.2 230.5l1.2 1.2l-1.2 1.2l-1.2 -1.2z" fill="#0E520E"/><path d="M256.7 216.4l1.2 1.2l-1.2 1.2l-1.2 -1.2z" fill="#1A5E1A"/><path d="M240.0 222.7l1.1 1.1l-1.1 1.1l-1.1 -1.1z" fill="#0E520E"/><path d="M277.2 221.1l1.2 1.2l-1.2 1.2l-1.2 -1.2z" fill="#0E520E"/><path d="M255.5 239.5l1.2 1.2l-1.2 1.2l-1.2 -1.2z" fill="#2A702A"/><path d="M228.7 227.4l1.4 1.4l-1.4 1.4l-1.4 -1.4z" fill="#2A702A"/><path d="M268.8 223.1l1.7 1.7l-1.7 1.7l-1.7 -1.7z" fill="#0B480B"/><path d="M238.3 210.5l1.5 1.5l-1.5 1.5l-1.5 -1.5z" fill="#0E520E"/><path d="M271.6 227.3l1.3 1.3l-1.3 1.3l-1.3 -1.3z" fill="#2A702A"/><path d="M188.6 233.6l1.3 1.3l-1.3 1.3l-1.3 -1.3z" fill="#0E520E"/><path d="M218.3 221.3l1.4 1.4l-1.4 1.4l-1.4 -1.4z" fill="#3F8A3F"/><path d="M219.6 218.4l1.4 1.4l-1.4 1.4l-1.4 -1.4z" fill="#2A702A"/><path d="M190.7 216.0l1.4 1.4l-1.4 1.4l-1.4 -1.4z" fill="#3F8A3F"/><path d="M274.5 223.3l1.5 1.5l-1.5 1.5l-1.5 -1.5z" fill="#0E520E"/><path d="M275.4 237.1l1.7 1.7l-1.7 1.7l-1.7 -1.7z" fill="#1E8A1E"/><path d="M247.9 229.9l1.1 1.1l-1.1 1.1l-1.1 -1.1z" fill="#1E8A1E"/><path d="M195.4 230.2l1.6 1.6l-1.6 1.6l-1.6 -1.6z" fill="#347E34"/><path d="M230.2 227.9l1.0 1.0l-1.0 1.0l-1.0 -1.0z" fill="#3A843A"/><path d="M207.1 224.8l1.4 1.4l-1.4 1.4l-1.4 -1.4z" fill="#0E520E"/><path d="M239.3 242.7l0.9 0.9l-0.9 0.9l-0.9 -0.9z" fill="#2A702A"/><path d="M253.6 223.1l1.8 1.8l-1.8 1.8l-1.8 -1.8z" fill="#0B480B"/><path d="M252.8 237.2l1.8 1.8l-1.8 1.8l-1.8 -1.8z" fill="#0E520E"/><path d="M264.0 212.4l1.5 1.5l-1.5 1.5l-1.5 -1.5z" fill="#3F8A3F"/><path d="M263.3 235.7l1.9 1.9l-1.9 1.9l-1.9 -1.9z" fill="#0E520E"/><path d="M258.7 217.7l1.6 1.6l-1.6 1.6l-1.6 -1.6z" fill="#2A702A"/><path d="M190.9 220.6l1.6 1.6l-1.6 1.6l-1.6 -1.6z" fill="#0B480B"/><path d="M198.6 219.7l1.1 1.1l-1.1 1.1l-1.1 -1.1z" fill="#0E520E"/><path d="M275.1 236.0l1.6 1.6l-1.6 1.6l-1.6 -1.6z" fill="#2A702A"/><path d="M211.9 234.1l1.0 1.0l-1.0 1.0l-1.0 -1.0z" fill="#0E520E"/><path d="M248.2 215.3l0.9 0.9l-0.9 0.9l-0.9 -0.9z" fill="#1A5E1A"/><path d="M276.9 217.3l2.0 2.0l-2.0 2.0l-2.0 -2.0z" fill="#0E520E"/><path d="M254.0 232.2l1.6 1.6l-1.6 1.6l-1.6 -1.6z" fill="#2A702A"/><path d="M195.7 224.8l1.8 1.8l-1.8 1.8l-1.8 -1.8z" fill="#0E520E"/><path d="M213.7 234.0l1.6 1.6l-1.6 1.6l-1.6 -1.6z" fill="#347E34"/><path d="M255.1 212.9l1.7 1.7l-1.7 1.7l-1.7 -1.7z" fill="#0B480B"/><path d="M270.0 212.3l2.0 2.0l-2.0 2.0l-2.0 -2.0z" fill="#3A843A"/><path d="M281.2 218.8l2.0 2.0l-2.0 2.0l-2.0 -2.0z" fill="#1E8A1E"/><path d="M268.4 212.6l1.3 1.3l-1.3 1.3l-1.3 -1.3z" fill="#3F8A3F"/><path d="M242.4 221.4l1.3 1.3l-1.3 1.3l-1.3 -1.3z" fill="#2A702A"/><path d="M216.6 223.1l1.5 1.5l-1.5 1.5l-1.5 -1.5z" fill="#0E520E"/><path d="M220.7 239.4l1.8 1.8l-1.8 1.8l-1.8 -1.8z" fill="#0B480B"/><path d="M197.2 233.0l1.0 1.0l-1.0 1.0l-1.0 -1.0z" fill="#1E8A1E"/><path d="M280.6 217.1l1.6 1.6l-1.6 1.6l-1.6 -1.6z" fill="#1A5E1A"/><path d="M233.1 226.8l1.1 1.1l-1.1 1.1l-1.1 -1.1z" fill="#0E520E"/><path d="M221.9 217.9l1.6 1.6l-1.6 1.6l-1.6 -1.6z" fill="#0E520E"/><path d="M228.2 229.4l1.5 1.5l-1.5 1.5l-1.5 -1.5z" fill="#2A702A"/><path d="M239.4 227.6l1.6 1.6l-1.6 1.6l-1.6 -1.6z" fill="#0B480B"/><path d="M240.7 223.0l1.2 1.2l-1.2 1.2l-1.2 -1.2z" fill="#0E520E"/><path d="M239.6 216.5l1.6 1.6l-1.6 1.6l-1.6 -1.6z" fill="#1A5E1A"/><path d="M274.6 236.8l1.8 1.8l-1.8 1.8l-1.8 -1.8z" fill="#2A702A"/><path d="M206.4 229.1l1.0 1.0l-1.0 1.0l-1.0 -1.0z" fill="#2A702A"/><path d="M221.4 209.9l1.5 1.5l-1.5 1.5l-1.5 -1.5z" fill="#1E8A1E"/><path d="M255.7 225.0l1.0 1.0l-1.0 1.0l-1.0 -1.0z" fill="#1A5E1A"/><path d="M237.5 209.9l1.7 1.7l-1.7 1.7l-1.7 -1.7z" fill="#2A702A"/><path d="M243.1 238.1l1.6 1.6l-1.6 1.6l-1.6 -1.6z" fill="#347E34"/><path d="M231.7 209.0l1.8 1.8l-1.8 1.8l-1.8 -1.8z" fill="#1E8A1E"/><path d="M237.6 219.0l1.7 1.7l-1.7 1.7l-1.7 -1.7z" fill="#0E520E"/><path d="M207.5 226.6l1.5 1.5l-1.5 1.5l-1.5 -1.5z" fill="#2A702A"/><path d="M196.4 237.0l1.7 1.7l-1.7 1.7l-1.7 -1.7z" fill="#3A843A"/><path d="M205.9 223.7l1.2 1.2l-1.2 1.2l-1.2 -1.2z" fill="#0B480B"/><path d="M279.7 231.8l1.9 1.9l-1.9 1.9l-1.9 -1.9z" fill="#2A702A"/><path d="M262.7 237.0l1.2 1.2l-1.2 1.2l-1.2 -1.2z" fill="#0B480B"/><path d="M270.9 219.6l1.8 1.8l-1.8 1.8l-1.8 -1.8z" fill="#0B480B"/><path d="M257.0 226.8l1.1 1.1l-1.1 1.1l-1.1 -1.1z" fill="#0B480B"/><path d="M246.1 230.5l1.7 1.7l-1.7 1.7l-1.7 -1.7z" fill="#1E8A1E"/><path d="M192.6 216.7l1.5 1.5l-1.5 1.5l-1.5 -1.5z" fill="#1E8A1E"/><path d="M271.2 215.7l1.9 1.9l-1.9 1.9l-1.9 -1.9z" fill="#1A5E1A"/><path d="M258.4 222.7l1.1 1.1l-1.1 1.1l-1.1 -1.1z" fill="#1E8A1E"/><path d="M208.3 221.5l0.9 0.9l-0.9 0.9l-0.9 -0.9z" fill="#347E34"/><path d="M255.5 224.5l1.3 1.3l-1.3 1.3l-1.3 -1.3z" fill="#1A5E1A"/><path d="M231.8 218.9l1.6 1.6l-1.6 1.6l-1.6 -1.6z" fill="#347E34"/><path d="M226.6 240.8l1.2 1.2l-1.2 1.2l-1.2 -1.2z" fill="#0E520E"/><path d="M203.0 210.6l1.9 1.9l-1.9 1.9l-1.9 -1.9z" fill="#3F8A3F"/><path d="M254.0 228.6l1.9 1.9l-1.9 1.9l-1.9 -1.9z" fill="#347E34"/><path d="M247.8 234.1l1.1 1.1l-1.1 1.1l-1.1 -1.1z" fill="#1E8A1E"/><path d="M214.8 230.0l1.8 1.8l-1.8 1.8l-1.8 -1.8z" fill="#3F8A3F"/><path d="M214.2 224.6l1.2 1.2l-1.2 1.2l-1.2 -1.2z" fill="#1E8A1E"/><path d="M214.9 228.4l1.9 1.9l-1.9 1.9l-1.9 -1.9z" fill="#2A702A"/><path d="M283.6 229.0l0.9 0.9l-0.9 0.9l-0.9 -0.9z" fill="#1A5E1A"/><path d="M213.6 231.3l1.9 1.9l-1.9 1.9l-1.9 -1.9z" fill="#1A5E1A"/><path d="M200.6 237.8l1.9 1.9l-1.9 1.9l-1.9 -1.9z" fill="#3A843A"/><path d="M245.5 238.7l1.6 1.6l-1.6 1.6l-1.6 -1.6z" fill="#1A5E1A"/><path d="M253.9 239.6l1.7 1.7l-1.7 1.7l-1.7 -1.7z" fill="#0E520E"/><path d="M226.9 221.2l2.0 2.0l-2.0 2.0l-2.0 -2.0z" fill="#3F8A3F"/><path d="M212.4 221.9l1.1 1.1l-1.1 1.1l-1.1 -1.1z" fill="#3A843A"/><path d="M219.9 229.5l1.1 1.1l-1.1 1.1l-1.1 -1.1z" fill="#0B480B"/><path d="M228.6 230.2l1.3 1.3l-1.3 1.3l-1.3 -1.3z" fill="#0E520E"/><path d="M261.5 226.8l1.3 1.3l-1.3 1.3l-1.3 -1.3z" fill="#0B480B"/><path d="M258.5 228.1l1.4 1.4l-1.4 1.4l-1.4 -1.4z" fill="#0E520E"/><path d="M203.4 221.7l1.5 1.5l-1.5 1.5l-1.5 -1.5z" fill="#2A702A"/><path d="M279.3 219.1l1.0 1.0l-1.0 1.0l-1.0 -1.0z" fill="#3F8A3F"/><path d="M218.2 240.7l0.9 0.9l-0.9 0.9l-0.9 -0.9z" fill="#0E520E"/><path d="M254.0 240.5l1.2 1.2l-1.2 1.2l-1.2 -1.2z" fill="#0B480B"/><path d="M270.8 229.9l1.3 1.3l-1.3 1.3l-1.3 -1.3z" fill="#0E520E"/><path d="M190.3 232.2l1.3 1.3l-1.3 1.3l-1.3 -1.3z" fill="#3F8A3F"/><path d="M240.4 215.4l0.9 0.9l-0.9 0.9l-0.9 -0.9z" fill="#1E8A1E"/><path d="M195.7 231.7l1.0 1.0l-1.0 1.0l-1.0 -1.0z" fill="#2A702A"/><path d="M215.8 229.7l1.2 1.2l-1.2 1.2l-1.2 -1.2z" fill="#1A5E1A"/><path d="M233.3 222.5l1.8 1.8l-1.8 1.8l-1.8 -1.8z" fill="#2A702A"/><path d="M226.3 217.5l2.0 2.0l-2.0 2.0l-2.0 -2.0z" fill="#0B480B"/><path d="M203.3 231.1l1.6 1.6l-1.6 1.6l-1.6 -1.6z" fill="#347E34"/><path d="M221.0 234.8l1.7 1.7l-1.7 1.7l-1.7 -1.7z" fill="#0E520E"/><path d="M233.6 219.9l1.0 1.0l-1.0 1.0l-1.0 -1.0z" fill="#0E520E"/><path d="M214.0 219.2l1.6 1.6l-1.6 1.6l-1.6 -1.6z" fill="#2A702A"/><path d="M263.9 238.5l1.7 1.7l-1.7 1.7l-1.7 -1.7z" fill="#347E34"/><path d="M254.0 231.1l0.9 0.9l-0.9 0.9l-0.9 -0.9z" fill="#0B480B"/><path d="M235.0 234.0l1.2 1.2l-1.2 1.2l-1.2 -1.2z" fill="#2A702A"/><path d="M210.7 222.8l1.5 1.5l-1.5 1.5l-1.5 -1.5z" fill="#3A843A"/><path d="M256.9 216.1l1.2 1.2l-1.2 1.2l-1.2 -1.2z" fill="#3A843A"/><path d="M203.4 222.3l2.0 2.0l-2.0 2.0l-2.0 -2.0z" fill="#1E8A1E"/><path d="M225.1 242.2l1.1 1.1l-1.1 1.1l-1.1 -1.1z" fill="#3A843A"/><path d="M209.9 226.7l1.1 1.1l-1.1 1.1l-1.1 -1.1z" fill="#1A5E1A"/><path d="M197.3 232.5l1.3 1.3l-1.3 1.3l-1.3 -1.3z" fill="#0B480B"/><path d="M255.9 216.2l1.2 1.2l-1.2 1.2l-1.2 -1.2z" fill="#2A702A"/><path d="M275.3 229.4l1.0 1.0l-1.0 1.0l-1.0 -1.0z" fill="#1A5E1A"/><path d="M228.1 211.7l1.0 1.0l-1.0 1.0l-1.0 -1.0z" fill="#3A843A"/><path d="M242.4 212.0l1.1 1.1l-1.1 1.1l-1.1 -1.1z" fill="#0E520E"/><path d="M193.3 211.7l1.4 1.4l-1.4 1.4l-1.4 -1.4z" fill="#0B480B"/><path d="M202.6 219.3l1.4 1.4l-1.4 1.4l-1.4 -1.4z" fill="#3A843A"/><path d="M205.4 212.9l1.1 1.1l-1.1 1.1l-1.1 -1.1z" fill="#3F8A3F"/><path d="M280.1 220.5l1.4 1.4l-1.4 1.4l-1.4 -1.4z" fill="#0E520E"/><path d="M261.3 236.5l1.7 1.7l-1.7 1.7l-1.7 -1.7z" fill="#347E34"/><path d="M275.2 227.6l1.1 1.1l-1.1 1.1l-1.1 -1.1z" fill="#2A702A"/><path d="M247.2 223.9l1.8 1.8l-1.8 1.8l-1.8 -1.8z" fill="#1E8A1E"/><path d="M210.3 233.1l0.9 0.9l-0.9 0.9l-0.9 -0.9z" fill="#1A5E1A"/><path d="M224.3 220.8l1.0 1.0l-1.0 1.0l-1.0 -1.0z" fill="#1A5E1A"/><path d="M268.1 238.4l1.2 1.2l-1.2 1.2l-1.2 -1.2z" fill="#1E8A1E"/><path d="M244.0 221.0l1.7 1.7l-1.7 1.7l-1.7 -1.7z" fill="#0B480B"/><path d="M225.5 228.5l1.6 1.6l-1.6 1.6l-1.6 -1.6z" fill="#0E520E"/><path d="M215.3 232.0l1.5 1.5l-1.5 1.5l-1.5 -1.5z" fill="#2A702A"/><path d="M245.3 218.0l1.7 1.7l-1.7 1.7l-1.7 -1.7z" fill="#0E520E"/><path d="M200.9 225.3l1.5 1.5l-1.5 1.5l-1.5 -1.5z" fill="#0E520E"/><path d="M241.4 210.1l1.8 1.8l-1.8 1.8l-1.8 -1.8z" fill="#3F8A3F"/><path d="M254.2 225.9l1.8 1.8l-1.8 1.8l-1.8 -1.8z" fill="#0B480B"/><path d="M221.8 223.8l1.3 1.3l-1.3 1.3l-1.3 -1.3z" fill="#3F8A3F"/><path d="M218.6 242.4l1.5 1.5l-1.5 1.5l-1.5 -1.5z" fill="#0B480B"/><path d="M236.7 221.7l1.3 1.3l-1.3 1.3l-1.3 -1.3z" fill="#2A702A"/><path d="M259.3 225.2l1.6 1.6l-1.6 1.6l-1.6 -1.6z" fill="#2A702A"/><path d="M269.9 221.5l1.2 1.2l-1.2 1.2l-1.2 -1.2z" fill="#1A5E1A"/><path d="M233.7 224.2l1.8 1.8l-1.8 1.8l-1.8 -1.8z" fill="#0E520E"/><path d="M255.4 227.4l1.1 1.1l-1.1 1.1l-1.1 -1.1z" fill="#1E8A1E"/><path d="M238.6 235.0l1.9 1.9l-1.9 1.9l-1.9 -1.9z" fill="#0E520E"/><path d="M216.5 228.3l2.0 2.0l-2.0 2.0l-2.0 -2.0z" fill="#3F8A3F"/><path d="M208.3 212.6l1.9 1.9l-1.9 1.9l-1.9 -1.9z" fill="#3A843A"/><path d="M244.0 231.2l1.7 1.7l-1.7 1.7l-1.7 -1.7z" fill="#347E34"/><path d="M247.6 228.2l1.6 1.6l-1.6 1.6l-1.6 -1.6z" fill="#0E520E"/><path d="M248.0 211.3l1.1 1.1l-1.1 1.1l-1.1 -1.1z" fill="#2A702A"/><path d="M214.6 241.9l1.4 1.4l-1.4 1.4l-1.4 -1.4z" fill="#0E520E"/><path d="M196.0 214.9l1.2 1.2l-1.2 1.2l-1.2 -1.2z" fill="#0B480B"/><path d="M277.9 234.5l1.0 1.0l-1.0 1.0l-1.0 -1.0z" fill="#1E8A1E"/><path d="M193.1 213.4l1.9 1.9l-1.9 1.9l-1.9 -1.9z" fill="#3F8A3F"/><path d="M228.1 239.3l1.8 1.8l-1.8 1.8l-1.8 -1.8z" fill="#1E8A1E"/><path d="M282.6 227.9l1.2 1.2l-1.2 1.2l-1.2 -1.2z" fill="#0E520E"/><path d="M237.4 240.1l1.9 1.9l-1.9 1.9l-1.9 -1.9z" fill="#1E8A1E"/><path d="M225.8 225.2l1.8 1.8l-1.8 1.8l-1.8 -1.8z" fill="#1E8A1E"/><path d="M225.7 216.7l1.2 1.2l-1.2 1.2l-1.2 -1.2z" fill="#0B480B"/><path d="M234.0 216.1l1.7 1.7l-1.7 1.7l-1.7 -1.7z" fill="#1A5E1A"/><path d="M260.7 224.7l1.1 1.1l-1.1 1.1l-1.1 -1.1z" fill="#0E520E"/><path d="M209.5 240.2l1.6 1.6l-1.6 1.6l-1.6 -1.6z" fill="#0B480B"/><path d="M196.7 225.8l1.7 1.7l-1.7 1.7l-1.7 -1.7z" fill="#0B480B"/><path d="M266.5 238.2l1.9 1.9l-1.9 1.9l-1.9 -1.9z" fill="#0E520E"/><path d="M234.2 232.7l1.0 1.0l-1.0 1.0l-1.0 -1.0z" fill="#3A843A"/><path d="M252.2 226.9l1.1 1.1l-1.1 1.1l-1.1 -1.1z" fill="#0E520E"/><path d="M211.3 234.0l1.1 1.1l-1.1 1.1l-1.1 -1.1z" fill="#3F8A3F"/><path d="M220.3 221.2l1.7 1.7l-1.7 1.7l-1.7 -1.7z" fill="#347E34"/><path d="M205.3 210.8l1.1 1.1l-1.1 1.1l-1.1 -1.1z" fill="#1E8A1E"/><path d="M257.3 209.4l1.5 1.5l-1.5 1.5l-1.5 -1.5z" fill="#0B480B"/><path d="M236.4 221.6l1.3 1.3l-1.3 1.3l-1.3 -1.3z" fill="#0B480B"/><path d="M239.9 210.0l1.3 1.3l-1.3 1.3l-1.3 -1.3z" fill="#1E8A1E"/><path d="M227.6 212.8l1.5 1.5l-1.5 1.5l-1.5 -1.5z" fill="#1A5E1A"/><path d="M216.9 210.4l1.0 1.0l-1.0 1.0l-1.0 -1.0z" fill="#347E34"/><path d="M218.8 231.7l1.8 1.8l-1.8 1.8l-1.8 -1.8z" fill="#2A702A"/><path d="M234.6 209.2l1.6 1.6l-1.6 1.6l-1.6 -1.6z" fill="#0B480B"/><path d="M243.7 210.9l1.9 1.9l-1.9 1.9l-1.9 -1.9z" fill="#347E34"/><path d="M226.7 230.7l1.3 1.3l-1.3 1.3l-1.3 -1.3z" fill="#0E520E"/><path d="M272.7 217.8l1.2 1.2l-1.2 1.2l-1.2 -1.2z" fill="#1E8A1E"/><path d="M222.0 214.6l1.2 1.2l-1.2 1.2l-1.2 -1.2z" fill="#1E8A1E"/><path d="M273.6 217.6l1.8 1.8l-1.8 1.8l-1.8 -1.8z" fill="#0E520E"/><path d="M189.8 228.2l1.8 1.8l-1.8 1.8l-1.8 -1.8z" fill="#1E8A1E"/><path d="M207.7 213.2l1.8 1.8l-1.8 1.8l-1.8 -1.8z" fill="#0E520E"/><path d="M201.9 213.5l1.0 1.0l-1.0 1.0l-1.0 -1.0z" fill="#347E34"/><path d="M218.4 209.2l1.6 1.6l-1.6 1.6l-1.6 -1.6z" fill="#2A702A"/><path d="M194.6 224.3l1.5 1.5l-1.5 1.5l-1.5 -1.5z" fill="#0E520E"/><path d="M194.6 232.6l2.0 2.0l-2.0 2.0l-2.0 -2.0z" fill="#2A702A"/><path d="M224.9 226.8l1.3 1.3l-1.3 1.3l-1.3 -1.3z" fill="#1A5E1A"/><path d="M282.9 222.0l1.2 1.2l-1.2 1.2l-1.2 -1.2z" fill="#1A5E1A"/><path d="M281.6 229.2l1.4 1.4l-1.4 1.4l-1.4 -1.4z" fill="#1A5E1A"/><path d="M189.9 231.4l1.6 1.6l-1.6 1.6l-1.6 -1.6z" fill="#347E34"/><path d="M259.1 234.9l1.6 1.6l-1.6 1.6l-1.6 -1.6z" fill="#347E34"/><path d="M241.3 223.3l1.8 1.8l-1.8 1.8l-1.8 -1.8z" fill="#3F8A3F"/><path d="M199.3 217.7l1.8 1.8l-1.8 1.8l-1.8 -1.8z" fill="#0E520E"/><path d="M274.9 232.5l1.0 1.0l-1.0 1.0l-1.0 -1.0z" fill="#347E34"/><path d="M232.0 222.2l1.3 1.3l-1.3 1.3l-1.3 -1.3z" fill="#2A702A"/><path d="M246.7 214.2l1.0 1.0l-1.0 1.0l-1.0 -1.0z" fill="#0B480B"/><path d="M237.5 219.2l0.9 0.9l-0.9 0.9l-0.9 -0.9z" fill="#1A5E1A"/><path d="M256.3 235.9l1.9 1.9l-1.9 1.9l-1.9 -1.9z" fill="#0E520E"/><path d="M187.5 233.1l1.2 1.2l-1.2 1.2l-1.2 -1.2z" fill="#0E520E"/><path d="M278.3 225.7l1.4 1.4l-1.4 1.4l-1.4 -1.4z" fill="#3A843A"/><path d="M228.1 218.8l1.5 1.5l-1.5 1.5l-1.5 -1.5z" fill="#2A702A"/><path d="M280.6 232.4l1.9 1.9l-1.9 1.9l-1.9 -1.9z" fill="#2A702A"/><path d="M259.8 225.6l0.9 0.9l-0.9 0.9l-0.9 -0.9z" fill="#0E520E"/><path d="M237.5 227.3l1.7 1.7l-1.7 1.7l-1.7 -1.7z" fill="#0B480B"/><path d="M272.9 231.3l1.0 1.0l-1.0 1.0l-1.0 -1.0z" fill="#347E34"/><path d="M195.2 239.4l1.9 1.9l-1.9 1.9l-1.9 -1.9z" fill="#0B480B"/><path d="M226.1 210.5l1.0 1.0l-1.0 1.0l-1.0 -1.0z" fill="#347E34"/><path d="M226.6 224.4l1.8 1.8l-1.8 1.8l-1.8 -1.8z" fill="#2A702A"/><path d="M210.3 227.2l1.5 1.5l-1.5 1.5l-1.5 -1.5z" fill="#0E520E"/><path d="M227.5 212.1l1.4 1.4l-1.4 1.4l-1.4 -1.4z" fill="#1A5E1A"/><path d="M197.2 219.4l1.3 1.3l-1.3 1.3l-1.3 -1.3z" fill="#347E34"/><path d="M279.2 218.6l1.1 1.1l-1.1 1.1l-1.1 -1.1z" fill="#2A702A"/><path d="M253.7 239.8l1.3 1.3l-1.3 1.3l-1.3 -1.3z" fill="#1E8A1E"/><path d="M245.2 218.9l1.1 1.1l-1.1 1.1l-1.1 -1.1z" fill="#2A702A"/><path d="M189.4 216.5l1.2 1.2l-1.2 1.2l-1.2 -1.2z" fill="#347E34"/><path d="M260.7 226.4l1.8 1.8l-1.8 1.8l-1.8 -1.8z" fill="#347E34"/><path d="M214.6 215.3l1.5 1.5l-1.5 1.5l-1.5 -1.5z" fill="#347E34"/><path d="M213.1 235.6l1.3 1.3l-1.3 1.3l-1.3 -1.3z" fill="#0E520E"/><path d="M214.1 235.8l1.1 1.1l-1.1 1.1l-1.1 -1.1z" fill="#1E8A1E"/><path d="M258.5 222.4l1.0 1.0l-1.0 1.0l-1.0 -1.0z" fill="#1A5E1A"/><path d="M248.8 230.5l1.0 1.0l-1.0 1.0l-1.0 -1.0z" fill="#2A702A"/><path d="M232.0 224.4l1.7 1.7l-1.7 1.7l-1.7 -1.7z" fill="#0E520E"/><path d="M205.7 227.7l2.0 2.0l-2.0 2.0l-2.0 -2.0z" fill="#347E34"/><path d="M221.0 225.7l1.2 1.2l-1.2 1.2l-1.2 -1.2z" fill="#0B480B"/><path d="M232.0 225.4l1.9 1.9l-1.9 1.9l-1.9 -1.9z" fill="#2A702A"/><path d="M282.8 221.8l1.8 1.8l-1.8 1.8l-1.8 -1.8z" fill="#347E34"/><path d="M275.0 211.6l1.7 1.7l-1.7 1.7l-1.7 -1.7z" fill="#0E520E"/><path d="M243.7 214.8l1.6 1.6l-1.6 1.6l-1.6 -1.6z" fill="#1E8A1E"/><path d="M254.8 232.3l0.9 0.9l-0.9 0.9l-0.9 -0.9z" fill="#347E34"/><path d="M278.5 220.2l1.8 1.8l-1.8 1.8l-1.8 -1.8z" fill="#2A702A"/><path d="M201.4 230.3l1.0 1.0l-1.0 1.0l-1.0 -1.0z" fill="#3F8A3F"/><path d="M241.7 231.6l1.3 1.3l-1.3 1.3l-1.3 -1.3z" fill="#1A5E1A"/><path d="M257.8 225.6l1.0 1.0l-1.0 1.0l-1.0 -1.0z" fill="#1A5E1A"/><path d="M219.9 242.1l1.3 1.3l-1.3 1.3l-1.3 -1.3z" fill="#0E520E"/><path d="M267.5 231.2l1.7 1.7l-1.7 1.7l-1.7 -1.7z" fill="#0E520E"/><path d="M251.6 214.6l1.9 1.9l-1.9 1.9l-1.9 -1.9z" fill="#0E520E"/><path d="M227.8 242.7l0.9 0.9l-0.9 0.9l-0.9 -0.9z" fill="#1E8A1E"/><path d="M197.5 212.3l1.7 1.7l-1.7 1.7l-1.7 -1.7z" fill="#2A702A"/><path d="M196.7 223.5l1.5 1.5l-1.5 1.5l-1.5 -1.5z" fill="#3A843A"/><path d="M237.4 218.0l1.9 1.9l-1.9 1.9l-1.9 -1.9z" fill="#0E520E"/><path d="M231.2 214.0l1.5 1.5l-1.5 1.5l-1.5 -1.5z" fill="#1E8A1E"/><path d="M197.3 232.7l1.1 1.1l-1.1 1.1l-1.1 -1.1z" fill="#2A702A"/><path d="M217.0 215.5l1.5 1.5l-1.5 1.5l-1.5 -1.5z" fill="#0E520E"/><path d="M226.5 224.3l1.4 1.4l-1.4 1.4l-1.4 -1.4z" fill="#3A843A"/><path d="M247.2 217.4l1.3 1.3l-1.3 1.3l-1.3 -1.3z" fill="#1A5E1A"/><path d="M211.8 212.8l1.6 1.6l-1.6 1.6l-1.6 -1.6z" fill="#347E34"/><path d="M257.7 210.0l1.8 1.8l-1.8 1.8l-1.8 -1.8z" fill="#347E34"/><path d="M270.4 224.7l2.0 2.0l-2.0 2.0l-2.0 -2.0z" fill="#3F8A3F"/><path d="M232.3 227.8l1.3 1.3l-1.3 1.3l-1.3 -1.3z" fill="#0B480B"/><path d="M267.9 228.4l1.5 1.5l-1.5 1.5l-1.5 -1.5z" fill="#0E520E"/><path d="M228.5 235.9l1.0 1.0l-1.0 1.0l-1.0 -1.0z" fill="#0B480B"/><path d="M249.2 210.6l1.1 1.1l-1.1 1.1l-1.1 -1.1z" fill="#347E34"/><path d="M189.3 226.3l1.9 1.9l-1.9 1.9l-1.9 -1.9z" fill="#347E34"/><path d="M207.3 211.7l1.5 1.5l-1.5 1.5l-1.5 -1.5z" fill="#3F8A3F"/><path d="M188.1 220.6l1.4 1.4l-1.4 1.4l-1.4 -1.4z" fill="#2A702A"/><path d="M224.4 229.7l1.0 1.0l-1.0 1.0l-1.0 -1.0z" fill="#0E520E"/><path d="M232.6 211.2l1.1 1.1l-1.1 1.1l-1.1 -1.1z" fill="#3F8A3F"/><path d="M199.6 222.3l1.0 1.0l-1.0 1.0l-1.0 -1.0z" fill="#3A843A"/><path d="M232.7 228.8l1.1 1.1l-1.1 1.1l-1.1 -1.1z" fill="#3F8A3F"/><path d="M262.8 210.3l1.5 1.5l-1.5 1.5l-1.5 -1.5z" fill="#3A843A"/><path d="M267.0 230.8l0.9 0.9l-0.9 0.9l-0.9 -0.9z" fill="#0E520E"/><path d="M198.9 226.5l2.0 2.0l-2.0 2.0l-2.0 -2.0z" fill="#3A843A"/><path d="M222.9 237.0l1.2 1.2l-1.2 1.2l-1.2 -1.2z" fill="#0B480B"/><path d="M283.3 222.0l1.1 1.1l-1.1 1.1l-1.1 -1.1z" fill="#3A843A"/><path d="M205.1 212.2l1.0 1.0l-1.0 1.0l-1.0 -1.0z" fill="#3A843A"/><path d="M278.7 234.7l1.1 1.1l-1.1 1.1l-1.1 -1.1z" fill="#3F8A3F"/><path d="M246.2 225.2l1.0 1.0l-1.0 1.0l-1.0 -1.0z" fill="#0E520E"/><path d="M243.3 220.9l1.4 1.4l-1.4 1.4l-1.4 -1.4z" fill="#1A5E1A"/><path d="M209.8 233.6l1.4 1.4l-1.4 1.4l-1.4 -1.4z" fill="#0B480B"/><path d="M209.8 228.5l1.2 1.2l-1.2 1.2l-1.2 -1.2z" fill="#2A702A"/><path d="M267.2 218.9l1.0 1.0l-1.0 1.0l-1.0 -1.0z" fill="#2A702A"/><path d="M272.3 213.6l1.7 1.7l-1.7 1.7l-1.7 -1.7z" fill="#3A843A"/><path d="M272.9 234.0l1.9 1.9l-1.9 1.9l-1.9 -1.9z" fill="#0E520E"/><path d="M213.1 221.2l1.6 1.6l-1.6 1.6l-1.6 -1.6z" fill="#3F8A3F"/><path d="M252.0 232.6l1.5 1.5l-1.5 1.5l-1.5 -1.5z" fill="#3F8A3F"/><path d="M236.5 215.2l1.0 1.0l-1.0 1.0l-1.0 -1.0z" fill="#0E520E"/><path d="M248.4 213.8l1.9 1.9l-1.9 1.9l-1.9 -1.9z" fill="#3A843A"/><path d="M196.9 219.0l1.8 1.8l-1.8 1.8l-1.8 -1.8z" fill="#3F8A3F"/><path d="M248.1 222.6l1.7 1.7l-1.7 1.7l-1.7 -1.7z" fill="#2A702A"/><path d="M226.1 212.8l2.0 2.0l-2.0 2.0l-2.0 -2.0z" fill="#0B480B"/><path d="M273.2 235.1l1.2 1.2l-1.2 1.2l-1.2 -1.2z" fill="#2A702A"/><path d="M236.7 211.3l0.9 0.9l-0.9 0.9l-0.9 -0.9z" fill="#0E520E"/><path d="M280.6 223.3l1.1 1.1l-1.1 1.1l-1.1 -1.1z" fill="#0B480B"/><path d="M264.9 226.8l1.6 1.6l-1.6 1.6l-1.6 -1.6z" fill="#2A702A"/><path d="M196.8 224.1l1.3 1.3l-1.3 1.3l-1.3 -1.3z" fill="#0E520E"/><path d="M215.4 213.7l1.9 1.9l-1.9 1.9l-1.9 -1.9z" fill="#1A5E1A"/><path d="M260.2 228.7l1.2 1.2l-1.2 1.2l-1.2 -1.2z" fill="#2A702A"/><path d="M249.4 223.3l0.9 0.9l-0.9 0.9l-0.9 -0.9z" fill="#3F8A3F"/><path d="M248.3 231.7l2.0 2.0l-2.0 2.0l-2.0 -2.0z" fill="#1E8A1E"/><path d="M192.8 225.1l1.1 1.1l-1.1 1.1l-1.1 -1.1z" fill="#3A843A"/><path d="M192.1 230.3l1.9 1.9l-1.9 1.9l-1.9 -1.9z" fill="#1A5E1A"/><path d="M228.1 242.5l1.1 1.1l-1.1 1.1l-1.1 -1.1z" fill="#3A843A"/><path d="M259.1 225.9l1.5 1.5l-1.5 1.5l-1.5 -1.5z" fill="#3F8A3F"/><path d="M269.3 219.3l1.3 1.3l-1.3 1.3l-1.3 -1.3z" fill="#0B480B"/><path d="M259.8 213.2l1.0 1.0l-1.0 1.0l-1.0 -1.0z" fill="#3F8A3F"/><path d="M227.0 222.3l1.2 1.2l-1.2 1.2l-1.2 -1.2z" fill="#1E8A1E"/><path d="M211.4 240.2l1.4 1.4l-1.4 1.4l-1.4 -1.4z" fill="#1E8A1E"/><path d="M216.9 236.3l1.8 1.8l-1.8 1.8l-1.8 -1.8z" fill="#1A5E1A"/><path d="M198.3 223.8l1.8 1.8l-1.8 1.8l-1.8 -1.8z" fill="#0E520E"/><path d="M260.4 215.5l1.3 1.3l-1.3 1.3l-1.3 -1.3z" fill="#0B480B"/><path d="M261.1 236.5l1.0 1.0l-1.0 1.0l-1.0 -1.0z" fill="#3F8A3F"/><path d="M242.9 229.2l1.2 1.2l-1.2 1.2l-1.2 -1.2z" fill="#347E34"/><path d="M231.1 218.0l1.1 1.1l-1.1 1.1l-1.1 -1.1z" fill="#0E520E"/><path d="M214.5 228.2l1.5 1.5l-1.5 1.5l-1.5 -1.5z" fill="#2A702A"/><path d="M238.4 220.3l1.4 1.4l-1.4 1.4l-1.4 -1.4z" fill="#347E34"/><path d="M275.7 216.1l1.6 1.6l-1.6 1.6l-1.6 -1.6z" fill="#0B480B"/><path d="M262.8 219.7l1.4 1.4l-1.4 1.4l-1.4 -1.4z" fill="#1E8A1E"/><path d="M271.6 233.3l1.7 1.7l-1.7 1.7l-1.7 -1.7z" fill="#0E520E"/><path d="M254.9 229.1l1.1 1.1l-1.1 1.1l-1.1 -1.1z" fill="#0E520E"/><path d="M248.3 220.8l1.6 1.6l-1.6 1.6l-1.6 -1.6z" fill="#347E34"/><path d="M201.3 232.0l1.0 1.0l-1.0 1.0l-1.0 -1.0z" fill="#3F8A3F"/><path d="M275.6 217.6l0.9 0.9l-0.9 0.9l-0.9 -0.9z" fill="#3A843A"/><path d="M266.1 219.5l1.4 1.4l-1.4 1.4l-1.4 -1.4z" fill="#2A702A"/><path d="M200.4 215.2l1.3 1.3l-1.3 1.3l-1.3 -1.3z" fill="#2A702A"/><path d="M215.1 226.5l1.2 1.2l-1.2 1.2l-1.2 -1.2z" fill="#2A702A"/><path d="M236.3 229.3l1.9 1.9l-1.9 1.9l-1.9 -1.9z" fill="#2A702A"/><path d="M257.6 210.6l1.3 1.3l-1.3 1.3l-1.3 -1.3z" fill="#3F8A3F"/><path d="M261.9 234.6l1.0 1.0l-1.0 1.0l-1.0 -1.0z" fill="#1A5E1A"/><path d="M188.8 226.0l1.4 1.4l-1.4 1.4l-1.4 -1.4z" fill="#2A702A"/><path d="M199.7 217.5l1.3 1.3l-1.3 1.3l-1.3 -1.3z" fill="#347E34"/><path d="M264.7 216.8l1.8 1.8l-1.8 1.8l-1.8 -1.8z" fill="#1E8A1E"/><path d="M270.0 216.3l1.8 1.8l-1.8 1.8l-1.8 -1.8z" fill="#3F8A3F"/><path d="M194.1 222.1l1.0 1.0l-1.0 1.0l-1.0 -1.0z" fill="#0E520E"/><path d="M218.3 217.7l1.7 1.7l-1.7 1.7l-1.7 -1.7z" fill="#0E520E"/><path d="M269.2 220.1l1.3 1.3l-1.3 1.3l-1.3 -1.3z" fill="#0E520E"/><path d="M233.3 229.3l1.6 1.6l-1.6 1.6l-1.6 -1.6z" fill="#0E520E"/><path d="M201.4 219.7l1.1 1.1l-1.1 1.1l-1.1 -1.1z" fill="#1A5E1A"/><path d="M261.7 234.1l1.8 1.8l-1.8 1.8l-1.8 -1.8z" fill="#1E8A1E"/><path d="M225.5 232.8l1.9 1.9l-1.9 1.9l-1.9 -1.9z" fill="#347E34"/><path d="M240.8 210.4l1.9 1.9l-1.9 1.9l-1.9 -1.9z" fill="#1E8A1E"/><path d="M195.8 215.4l1.1 1.1l-1.1 1.1l-1.1 -1.1z" fill="#1A5E1A"/><path d="M274.6 222.3l1.8 1.8l-1.8 1.8l-1.8 -1.8z" fill="#347E34"/><path d="M241.7 224.9l1.8 1.8l-1.8 1.8l-1.8 -1.8z" fill="#3A843A"/><path d="M207.1 217.1l1.9 1.9l-1.9 1.9l-1.9 -1.9z" fill="#347E34"/><path d="M246.4 221.5l1.6 1.6l-1.6 1.6l-1.6 -1.6z" fill="#3F8A3F"/><path d="M260.9 233.9l1.5 1.5l-1.5 1.5l-1.5 -1.5z" fill="#0E520E"/><path d="M248.4 216.3l1.4 1.4l-1.4 1.4l-1.4 -1.4z" fill="#1E8A1E"/><path d="M188.2 217.2l1.2 1.2l-1.2 1.2l-1.2 -1.2z" fill="#1A5E1A"/><path d="M218.7 219.0l1.2 1.2l-1.2 1.2l-1.2 -1.2z" fill="#1A5E1A"/><path d="M233.3 216.2l1.7 1.7l-1.7 1.7l-1.7 -1.7z" fill="#0E520E"/><path d="M204.8 240.4l1.6 1.6l-1.6 1.6l-1.6 -1.6z" fill="#0E520E"/><path d="M274.4 223.8l1.3 1.3l-1.3 1.3l-1.3 -1.3z" fill="#3A843A"/><path d="M247.0 214.9l1.4 1.4l-1.4 1.4l-1.4 -1.4z" fill="#1E8A1E"/><path d="M240.2 211.8l1.8 1.8l-1.8 1.8l-1.8 -1.8z" fill="#0E520E"/><path d="M231.8 227.0l1.6 1.6l-1.6 1.6l-1.6 -1.6z" fill="#3A843A"/><path d="M275.8 213.0l1.1 1.1l-1.1 1.1l-1.1 -1.1z" fill="#1A5E1A"/><path d="M229.1 234.5l1.1 1.1l-1.1 1.1l-1.1 -1.1z" fill="#3A843A"/><path d="M272.4 221.8l1.6 1.6l-1.6 1.6l-1.6 -1.6z" fill="#2A702A"/><path d="M245.9 215.1l1.4 1.4l-1.4 1.4l-1.4 -1.4z" fill="#1A5E1A"/><path d="M231.5 217.9l1.3 1.3l-1.3 1.3l-1.3 -1.3z" fill="#0B480B"/><path d="M226.8 213.6l1.3 1.3l-1.3 1.3l-1.3 -1.3z" fill="#3F8A3F"/><path d="M253.7 227.7l2.0 2.0l-2.0 2.0l-2.0 -2.0z" fill="#3F8A3F"/><path d="M260.9 238.6l1.1 1.1l-1.1 1.1l-1.1 -1.1z" fill="#3F8A3F"/><path d="M238.0 216.9l1.2 1.2l-1.2 1.2l-1.2 -1.2z" fill="#1E8A1E"/><path d="M218.9 228.7l1.4 1.4l-1.4 1.4l-1.4 -1.4z" fill="#1A5E1A"/><path d="M225.8 220.5l2.0 2.0l-2.0 2.0l-2.0 -2.0z" fill="#3F8A3F"/><path d="M228.2 241.0l2.0 2.0l-2.0 2.0l-2.0 -2.0z" fill="#2A702A"/><path d="M257.5 216.1l1.1 1.1l-1.1 1.1l-1.1 -1.1z" fill="#3A843A"/><path d="M191.3 215.5l1.5 1.5l-1.5 1.5l-1.5 -1.5z" fill="#0B480B"/><path d="M229.7 235.7l1.2 1.2l-1.2 1.2l-1.2 -1.2z" fill="#347E34"/><path d="M248.1 221.2l1.1 1.1l-1.1 1.1l-1.1 -1.1z" fill="#2A702A"/><path d="M263.6 218.4l1.5 1.5l-1.5 1.5l-1.5 -1.5z" fill="#3A843A"/><path d="M211.1 231.9l1.1 1.1l-1.1 1.1l-1.1 -1.1z" fill="#0E520E"/><path d="M192.3 230.7l1.4 1.4l-1.4 1.4l-1.4 -1.4z" fill="#1E8A1E"/><path d="M251.1 210.1l1.8 1.8l-1.8 1.8l-1.8 -1.8z" fill="#1E8A1E"/><path d="M279.9 237.4l1.2 1.2l-1.2 1.2l-1.2 -1.2z" fill="#1A5E1A"/><path d="M257.7 232.5l0.9 0.9l-0.9 0.9l-0.9 -0.9z" fill="#0E520E"/><path d="M189.6 230.8l1.4 1.4l-1.4 1.4l-1.4 -1.4z" fill="#2A702A"/><path d="M235.0 214.9l1.2 1.2l-1.2 1.2l-1.2 -1.2z" fill="#1A5E1A"/><path d="M275.0 220.5l2.0 2.0l-2.0 2.0l-2.0 -2.0z" fill="#3F8A3F"/><path d="M202.7 227.1l1.6 1.6l-1.6 1.6l-1.6 -1.6z" fill="#3F8A3F"/><path d="M254.6 237.1l1.7 1.7l-1.7 1.7l-1.7 -1.7z" fill="#347E34"/><path d="M194.1 212.8l1.1 1.1l-1.1 1.1l-1.1 -1.1z" fill="#3F8A3F"/><path d="M257.8 227.2l1.7 1.7l-1.7 1.7l-1.7 -1.7z" fill="#2A702A"/><path d="M245.9 228.6l1.1 1.1l-1.1 1.1l-1.1 -1.1z" fill="#0B480B"/><path d="M272.0 235.9l1.7 1.7l-1.7 1.7l-1.7 -1.7z" fill="#0E520E"/><path d="M279.2 222.3l1.4 1.4l-1.4 1.4l-1.4 -1.4z" fill="#0B480B"/><path d="M233.1 220.5l1.5 1.5l-1.5 1.5l-1.5 -1.5z" fill="#3F8A3F"/><path d="M248.6 229.6l1.1 1.1l-1.1 1.1l-1.1 -1.1z" fill="#347E34"/><path d="M258.5 210.5l1.1 1.1l-1.1 1.1l-1.1 -1.1z" fill="#347E34"/><path d="M225.7 238.4l1.2 1.2l-1.2 1.2l-1.2 -1.2z" fill="#0B480B"/><path d="M268.7 228.8l1.7 1.7l-1.7 1.7l-1.7 -1.7z" fill="#0E520E"/><path d="M215.6 243.3l1.6 1.6l-1.6 1.6l-1.6 -1.6z" fill="#3F8A3F"/><path d="M194.0 237.4l1.4 1.4l-1.4 1.4l-1.4 -1.4z" fill="#1E8A1E"/><path d="M269.5 233.0l2.0 2.0l-2.0 2.0l-2.0 -2.0z" fill="#347E34"/><path d="M276.9 231.9l1.7 1.7l-1.7 1.7l-1.7 -1.7z" fill="#347E34"/><path d="M192.0 236.7l1.7 1.7l-1.7 1.7l-1.7 -1.7z" fill="#1A5E1A"/><path d="M280.3 235.4l1.6 1.6l-1.6 1.6l-1.6 -1.6z" fill="#0E520E"/><path d="M263.8 229.9l1.4 1.4l-1.4 1.4l-1.4 -1.4z" fill="#1A5E1A"/><path d="M222.9 224.4l1.5 1.5l-1.5 1.5l-1.5 -1.5z" fill="#0E520E"/><path d="M193.0 227.4l2.0 2.0l-2.0 2.0l-2.0 -2.0z" fill="#0E520E"/><path d="M261.2 233.6l1.5 1.5l-1.5 1.5l-1.5 -1.5z" fill="#1E8A1E"/><path d="M263.7 234.1l1.3 1.3l-1.3 1.3l-1.3 -1.3z" fill="#0E520E"/><path d="M235.1 213.7l0.9 0.9l-0.9 0.9l-0.9 -0.9z" fill="#347E34"/><path d="M219.6 220.0l1.5 1.5l-1.5 1.5l-1.5 -1.5z" fill="#0E520E"/><path d="M220.6 240.8l1.1 1.1l-1.1 1.1l-1.1 -1.1z" fill="#1E8A1E"/><path d="M268.4 228.0l1.1 1.1l-1.1 1.1l-1.1 -1.1z" fill="#0B480B"/><path d="M273.6 228.5l1.0 1.0l-1.0 1.0l-1.0 -1.0z" fill="#0B480B"/><path d="M272.7 217.6l1.5 1.5l-1.5 1.5l-1.5 -1.5z" fill="#0E520E"/><path d="M253.9 234.8l1.7 1.7l-1.7 1.7l-1.7 -1.7z" fill="#1A5E1A"/><path d="M269.2 236.4l1.1 1.1l-1.1 1.1l-1.1 -1.1z" fill="#0B480B"/><path d="M241.7 226.2l1.0 1.0l-1.0 1.0l-1.0 -1.0z" fill="#2A702A"/><path d="M229.3 236.3l1.4 1.4l-1.4 1.4l-1.4 -1.4z" fill="#0E520E"/><path d="M225.2 225.1l1.5 1.5l-1.5 1.5l-1.5 -1.5z" fill="#2A702A"/><path d="M262.5 239.4l1.2 1.2l-1.2 1.2l-1.2 -1.2z" fill="#1E8A1E"/><path d="M212.4 218.8l1.9 1.9l-1.9 1.9l-1.9 -1.9z" fill="#3F8A3F"/><path d="M276.1 219.8l1.8 1.8l-1.8 1.8l-1.8 -1.8z" fill="#0E520E"/><path d="M243.0 240.9l1.5 1.5l-1.5 1.5l-1.5 -1.5z" fill="#0E520E"/><path d="M220.9 239.1l1.3 1.3l-1.3 1.3l-1.3 -1.3z" fill="#0E520E"/><path d="M264.9 227.4l1.3 1.3l-1.3 1.3l-1.3 -1.3z" fill="#2A702A"/><path d="M233.6 241.3l1.2 1.2l-1.2 1.2l-1.2 -1.2z" fill="#1E8A1E"/><path d="M197.8 216.1l1.4 1.4l-1.4 1.4l-1.4 -1.4z" fill="#1A5E1A"/><path d="M204.7 215.6l2.0 2.0l-2.0 2.0l-2.0 -2.0z" fill="#3F8A3F"/><path d="M242.3 239.6l1.3 1.3l-1.3 1.3l-1.3 -1.3z" fill="#2A702A"/><path d="M215.0 240.2l1.1 1.1l-1.1 1.1l-1.1 -1.1z" fill="#1A5E1A"/><path d="M212.5 221.4l1.3 1.3l-1.3 1.3l-1.3 -1.3z" fill="#0B480B"/><path d="M202.6 218.6l1.1 1.1l-1.1 1.1l-1.1 -1.1z" fill="#0B480B"/><path d="M239.3 233.2l1.5 1.5l-1.5 1.5l-1.5 -1.5z" fill="#1E8A1E"/><path d="M193.1 229.2l1.7 1.7l-1.7 1.7l-1.7 -1.7z" fill="#2A702A"/><path d="M203.7 225.0l2.0 2.0l-2.0 2.0l-2.0 -2.0z" fill="#347E34"/><path d="M268.7 224.7l1.2 1.2l-1.2 1.2l-1.2 -1.2z" fill="#2A702A"/><path d="M209.4 225.6l1.4 1.4l-1.4 1.4l-1.4 -1.4z" fill="#3A843A"/><path d="M203.3 224.4l1.4 1.4l-1.4 1.4l-1.4 -1.4z" fill="#1A5E1A"/><path d="M281.7 225.2l1.8 1.8l-1.8 1.8l-1.8 -1.8z" fill="#347E34"/><path d="M248.0 211.8l1.0 1.0l-1.0 1.0l-1.0 -1.0z" fill="#1E8A1E"/><path d="M246.5 232.6l1.6 1.6l-1.6 1.6l-1.6 -1.6z" fill="#1A5E1A"/><path d="M234.4 229.3l1.6 1.6l-1.6 1.6l-1.6 -1.6z" fill="#1E8A1E"/><path d="M256.4 212.9l1.4 1.4l-1.4 1.4l-1.4 -1.4z" fill="#1A5E1A"/><path d="M219.1 225.6l1.3 1.3l-1.3 1.3l-1.3 -1.3z" fill="#0B480B"/><path d="M193.3 236.8l1.5 1.5l-1.5 1.5l-1.5 -1.5z" fill="#3F8A3F"/><path d="M195.6 211.8l1.9 1.9l-1.9 1.9l-1.9 -1.9z" fill="#2A702A"/><path d="M236.7 235.8l1.0 1.0l-1.0 1.0l-1.0 -1.0z" fill="#0B480B"/><path d="M260.6 210.0l1.9 1.9l-1.9 1.9l-1.9 -1.9z" fill="#0B480B"/><path d="M249.5 230.2l1.1 1.1l-1.1 1.1l-1.1 -1.1z" fill="#1A5E1A"/><path d="M249.2 235.3l1.6 1.6l-1.6 1.6l-1.6 -1.6z" fill="#347E34"/><path d="M254.9 240.0l1.7 1.7l-1.7 1.7l-1.7 -1.7z" fill="#3F8A3F"/><path d="M250.3 227.1l1.4 1.4l-1.4 1.4l-1.4 -1.4z" fill="#0E520E"/><path d="M257.3 237.9l1.7 1.7l-1.7 1.7l-1.7 -1.7z" fill="#2A702A"/><path d="M196.0 216.9l1.6 1.6l-1.6 1.6l-1.6 -1.6z" fill="#1A5E1A"/><path d="M242.7 241.0l2.0 2.0l-2.0 2.0l-2.0 -2.0z" fill="#3F8A3F"/><path d="M275.6 229.7l1.7 1.7l-1.7 1.7l-1.7 -1.7z" fill="#3A843A"/><path d="M270.9 213.2l1.2 1.2l-1.2 1.2l-1.2 -1.2z" fill="#1A5E1A"/><path d="M188.5 230.2l1.9 1.9l-1.9 1.9l-1.9 -1.9z" fill="#347E34"/><path d="M206.0 236.5l1.3 1.3l-1.3 1.3l-1.3 -1.3z" fill="#0B480B"/><path d="M205.8 221.6l1.2 1.2l-1.2 1.2l-1.2 -1.2z" fill="#3A843A"/><path d="M211.0 228.3l1.6 1.6l-1.6 1.6l-1.6 -1.6z" fill="#3F8A3F"/><path d="M210.9 228.4l0.9 0.9l-0.9 0.9l-0.9 -0.9z" fill="#3A843A"/><path d="M218.2 217.9l1.7 1.7l-1.7 1.7l-1.7 -1.7z" fill="#3F8A3F"/><path d="M232.6 217.3l1.5 1.5l-1.5 1.5l-1.5 -1.5z" fill="#1A5E1A"/><path d="M268.7 232.6l1.2 1.2l-1.2 1.2l-1.2 -1.2z" fill="#0B480B"/><path d="M205.7 231.7l1.4 1.4l-1.4 1.4l-1.4 -1.4z" fill="#2A702A"/><path d="M252.3 212.9l1.2 1.2l-1.2 1.2l-1.2 -1.2z" fill="#1E8A1E"/><path d="M220.8 238.7l1.3 1.3l-1.3 1.3l-1.3 -1.3z" fill="#0E520E"/><path d="M219.7 235.4l1.1 1.1l-1.1 1.1l-1.1 -1.1z" fill="#1A5E1A"/><path d="M218.0 228.1l1.3 1.3l-1.3 1.3l-1.3 -1.3z" fill="#347E34"/><path d="M245.8 230.2l1.1 1.1l-1.1 1.1l-1.1 -1.1z" fill="#1A5E1A"/><path d="M199.3 236.7l1.4 1.4l-1.4 1.4l-1.4 -1.4z" fill="#2A702A"/><path d="M200.9 210.5l1.4 1.4l-1.4 1.4l-1.4 -1.4z" fill="#1A5E1A"/><path d="M270.2 214.6l2.0 2.0l-2.0 2.0l-2.0 -2.0z" fill="#1A5E1A"/><path d="M188.1 229.3l1.7 1.7l-1.7 1.7l-1.7 -1.7z" fill="#347E34"/><path d="M239.2 217.3l1.2 1.2l-1.2 1.2l-1.2 -1.2z" fill="#1A5E1A"/><path d="M241.4 240.8l1.4 1.4l-1.4 1.4l-1.4 -1.4z" fill="#2A702A"/><path d="M220.5 221.8l2.0 2.0l-2.0 2.0l-2.0 -2.0z" fill="#2A702A"/><path d="M212.6 213.5l1.9 1.9l-1.9 1.9l-1.9 -1.9z" fill="#0E520E"/><path d="M198.5 238.5l1.6 1.6l-1.6 1.6l-1.6 -1.6z" fill="#347E34"/><path d="M281.8 218.9l1.8 1.8l-1.8 1.8l-1.8 -1.8z" fill="#0E520E"/><path d="M194.7 236.7l1.3 1.3l-1.3 1.3l-1.3 -1.3z" fill="#1A5E1A"/><path d="M232.1 236.9l1.6 1.6l-1.6 1.6l-1.6 -1.6z" fill="#347E34"/><path d="M231.8 218.1l1.7 1.7l-1.7 1.7l-1.7 -1.7z" fill="#3F8A3F"/><path d="M232.6 216.7l1.3 1.3l-1.3 1.3l-1.3 -1.3z" fill="#0B480B"/><path d="M218.2 234.3l1.6 1.6l-1.6 1.6l-1.6 -1.6z" fill="#0E520E"/><path d="M229.9 213.8l1.0 1.0l-1.0 1.0l-1.0 -1.0z" fill="#3F8A3F"/><path d="M226.1 233.3l1.2 1.2l-1.2 1.2l-1.2 -1.2z" fill="#0B480B"/><path d="M276.2 230.5l1.4 1.4l-1.4 1.4l-1.4 -1.4z" fill="#1A5E1A"/><path d="M261.5 218.2l1.9 1.9l-1.9 1.9l-1.9 -1.9z" fill="#0B480B"/><path d="M283.9 225.5l1.9 1.9l-1.9 1.9l-1.9 -1.9z" fill="#0E520E"/><path d="M196.9 215.0l1.4 1.4l-1.4 1.4l-1.4 -1.4z" fill="#3F8A3F"/><path d="M239.8 235.7l1.3 1.3l-1.3 1.3l-1.3 -1.3z" fill="#0B480B"/><path d="M230.5 242.1l1.5 1.5l-1.5 1.5l-1.5 -1.5z" fill="#0B480B"/><path d="M255.0 232.0l1.9 1.9l-1.9 1.9l-1.9 -1.9z" fill="#0E520E"/><path d="M220.1 228.1l1.1 1.1l-1.1 1.1l-1.1 -1.1z" fill="#3F8A3F"/><path d="M219.3 237.4l2.0 2.0l-2.0 2.0l-2.0 -2.0z" fill="#347E34"/><path d="M218.8 235.7l1.5 1.5l-1.5 1.5l-1.5 -1.5z" fill="#3A843A"/><path d="M255.3 221.3l1.3 1.3l-1.3 1.3l-1.3 -1.3z" fill="#0E520E"/><path d="M206.6 226.6l1.0 1.0l-1.0 1.0l-1.0 -1.0z" fill="#0E520E"/><path d="M272.0 216.4l1.6 1.6l-1.6 1.6l-1.6 -1.6z" fill="#0E520E"/><path d="M236.6 219.9l1.9 1.9l-1.9 1.9l-1.9 -1.9z" fill="#3A843A"/><path d="M270.9 235.2l1.0 1.0l-1.0 1.0l-1.0 -1.0z" fill="#1A5E1A"/><path d="M232.2 232.1l1.0 1.0l-1.0 1.0l-1.0 -1.0z" fill="#0E520E"/><path d="M255.6 237.3l1.9 1.9l-1.9 1.9l-1.9 -1.9z" fill="#1E8A1E"/><path d="M206.8 237.7l1.1 1.1l-1.1 1.1l-1.1 -1.1z" fill="#347E34"/><path d="M248.2 231.8l1.4 1.4l-1.4 1.4l-1.4 -1.4z" fill="#0B480B"/><path d="M264.5 212.0l1.6 1.6l-1.6 1.6l-1.6 -1.6z" fill="#2A702A"/><path d="M224.0 239.4l1.3 1.3l-1.3 1.3l-1.3 -1.3z" fill="#3F8A3F"/><path d="M204.9 220.3l1.5 1.5l-1.5 1.5l-1.5 -1.5z" fill="#3A843A"/><path d="M194.0 239.3l1.6 1.6l-1.6 1.6l-1.6 -1.6z" fill="#3A843A"/><path d="M217.3 229.5l2.0 2.0l-2.0 2.0l-2.0 -2.0z" fill="#347E34"/><path d="M246.3 222.4l1.6 1.6l-1.6 1.6l-1.6 -1.6z" fill="#0E520E"/><path d="M261.6 233.3l1.1 1.1l-1.1 1.1l-1.1 -1.1z" fill="#0E520E"/><path d="M188.1 219.3l1.4 1.4l-1.4 1.4l-1.4 -1.4z" fill="#0B480B"/><path d="M269.1 210.4l1.8 1.8l-1.8 1.8l-1.8 -1.8z" fill="#0E520E"/><path d="M191.9 219.3l1.3 1.3l-1.3 1.3l-1.3 -1.3z" fill="#2A702A"/><path d="M190.1 214.9l1.4 1.4l-1.4 1.4l-1.4 -1.4z" fill="#0E520E"/><path d="M213.2 242.7l1.6 1.6l-1.6 1.6l-1.6 -1.6z" fill="#3A843A"/><path d="M218.7 229.5l1.6 1.6l-1.6 1.6l-1.6 -1.6z" fill="#3F8A3F"/><path d="M228.1 235.1l2.0 2.0l-2.0 2.0l-2.0 -2.0z" fill="#0E520E"/><path d="M239.4 234.6l1.4 1.4l-1.4 1.4l-1.4 -1.4z" fill="#1E8A1E"/><path d="M224.3 215.5l1.0 1.0l-1.0 1.0l-1.0 -1.0z" fill="#1A5E1A"/><path d="M218.4 220.6l1.5 1.5l-1.5 1.5l-1.5 -1.5z" fill="#3F8A3F"/><path d="M253.1 233.6l1.7 1.7l-1.7 1.7l-1.7 -1.7z" fill="#3A843A"/><path d="M243.2 226.4l1.6 1.6l-1.6 1.6l-1.6 -1.6z" fill="#2A702A"/><path d="M256.3 239.1l1.2 1.2l-1.2 1.2l-1.2 -1.2z" fill="#3F8A3F"/><path d="M271.9 215.4l0.9 0.9l-0.9 0.9l-0.9 -0.9z" fill="#0E520E"/><path d="M265.7 215.7l1.8 1.8l-1.8 1.8l-1.8 -1.8z" fill="#0B480B"/><path d="M221.7 220.2l1.9 1.9l-1.9 1.9l-1.9 -1.9z" fill="#347E34"/><path d="M261.9 209.2l1.9 1.9l-1.9 1.9l-1.9 -1.9z" fill="#1A5E1A"/><path d="M206.8 231.7l1.9 1.9l-1.9 1.9l-1.9 -1.9z" fill="#3A843A"/><path d="M270.2 225.1l1.9 1.9l-1.9 1.9l-1.9 -1.9z" fill="#1E8A1E"/><path d="M254.6 216.3l2.0 2.0l-2.0 2.0l-2.0 -2.0z" fill="#347E34"/><path d="M242.7 219.5l1.4 1.4l-1.4 1.4l-1.4 -1.4z" fill="#1A5E1A"/><path d="M205.4 228.7l1.5 1.5l-1.5 1.5l-1.5 -1.5z" fill="#3A843A"/><path d="M202.0 223.2l1.2 1.2l-1.2 1.2l-1.2 -1.2z" fill="#3A843A"/><path d="M275.6 214.6l1.6 1.6l-1.6 1.6l-1.6 -1.6z" fill="#347E34"/><path d="M250.0 230.0l1.3 1.3l-1.3 1.3l-1.3 -1.3z" fill="#0B480B"/><path d="M206.5 237.9l1.2 1.2l-1.2 1.2l-1.2 -1.2z" fill="#3F8A3F"/><path d="M239.4 219.0l1.0 1.0l-1.0 1.0l-1.0 -1.0z" fill="#1A5E1A"/><path d="M228.1 244.4l1.3 1.3l-1.3 1.3l-1.3 -1.3z" fill="#3F8A3F"/><path d="M219.4 228.9l1.3 1.3l-1.3 1.3l-1.3 -1.3z" fill="#0B480B"/><path d="M209.6 221.2l1.9 1.9l-1.9 1.9l-1.9 -1.9z" fill="#3F8A3F"/><path d="M200.3 212.1l1.7 1.7l-1.7 1.7l-1.7 -1.7z" fill="#0B480B"/><path d="M204.8 212.7l1.2 1.2l-1.2 1.2l-1.2 -1.2z" fill="#347E34"/><path d="M279.3 218.7l1.9 1.9l-1.9 1.9l-1.9 -1.9z" fill="#0E520E"/><path d="M192.3 225.3l1.5 1.5l-1.5 1.5l-1.5 -1.5z" fill="#0B480B"/><path d="M230.9 243.5l1.7 1.7l-1.7 1.7l-1.7 -1.7z" fill="#2A702A"/><path d="M233.7 234.4l1.7 1.7l-1.7 1.7l-1.7 -1.7z" fill="#1A5E1A"/><path d="M197.2 219.7l1.3 1.3l-1.3 1.3l-1.3 -1.3z" fill="#0E520E"/><path d="M193.3 220.2l1.1 1.1l-1.1 1.1l-1.1 -1.1z" fill="#3A843A"/><path d="M238.1 240.7l1.8 1.8l-1.8 1.8l-1.8 -1.8z" fill="#3A843A"/><path d="M189.7 216.4l1.8 1.8l-1.8 1.8l-1.8 -1.8z" fill="#2A702A"/><path d="M214.0 237.7l1.6 1.6l-1.6 1.6l-1.6 -1.6z" fill="#3A843A"/><path d="M255.7 233.9l1.5 1.5l-1.5 1.5l-1.5 -1.5z" fill="#0B480B"/><path d="M204.4 237.5l1.5 1.5l-1.5 1.5l-1.5 -1.5z" fill="#2A702A"/><path d="M204.2 228.1l1.8 1.8l-1.8 1.8l-1.8 -1.8z" fill="#3A843A"/><path d="M222.1 235.9l0.9 0.9l-0.9 0.9l-0.9 -0.9z" fill="#2A702A"/><path d="M190.5 232.5l2.0 2.0l-2.0 2.0l-2.0 -2.0z" fill="#2A702A"/><path d="M217.6 220.2l1.3 1.3l-1.3 1.3l-1.3 -1.3z" fill="#0B480B"/><path d="M244.0 222.3l1.3 1.3l-1.3 1.3l-1.3 -1.3z" fill="#0E520E"/><path d="M273.1 234.5l2.0 2.0l-2.0 2.0l-2.0 -2.0z" fill="#0B480B"/><path d="M270.1 237.1l1.2 1.2l-1.2 1.2l-1.2 -1.2z" fill="#1A5E1A"/><path d="M264.1 229.8l1.3 1.3l-1.3 1.3l-1.3 -1.3z" fill="#0E520E"/><path d="M267.0 225.1l2.0 2.0l-2.0 2.0l-2.0 -2.0z" fill="#347E34"/><path d="M258.2 239.7l1.9 1.9l-1.9 1.9l-1.9 -1.9z" fill="#347E34"/><path d="M244.5 240.5l1.6 1.6l-1.6 1.6l-1.6 -1.6z" fill="#3F8A3F"/><path d="M255.6 232.6l2.0 2.0l-2.0 2.0l-2.0 -2.0z" fill="#2A702A"/><path d="M253.6 230.6l1.7 1.7l-1.7 1.7l-1.7 -1.7z" fill="#3F8A3F"/><path d="M283.5 234.3l2.0 2.0l-2.0 2.0l-2.0 -2.0z" fill="#347E34"/><path d="M229.5 216.6l1.5 1.5l-1.5 1.5l-1.5 -1.5z" fill="#0E520E"/><path d="M253.0 222.7l1.2 1.2l-1.2 1.2l-1.2 -1.2z" fill="#347E34"/><path d="M188.5 223.0l1.5 1.5l-1.5 1.5l-1.5 -1.5z" fill="#0E520E"/><path d="M284.2 228.5l1.5 1.5l-1.5 1.5l-1.5 -1.5z" fill="#0B480B"/><path d="M214.7 231.6l1.7 1.7l-1.7 1.7l-1.7 -1.7z" fill="#2A702A"/><path d="M281.0 225.2l1.7 1.7l-1.7 1.7l-1.7 -1.7z" fill="#0E520E"/><path d="M265.7 236.0l1.0 1.0l-1.0 1.0l-1.0 -1.0z" fill="#1A5E1A"/><path d="M275.0 235.2l1.6 1.6l-1.6 1.6l-1.6 -1.6z" fill="#3A843A"/><path d="M254.0 214.5l1.5 1.5l-1.5 1.5l-1.5 -1.5z" fill="#3A843A"/><path d="M257.2 234.8l1.5 1.5l-1.5 1.5l-1.5 -1.5z" fill="#347E34"/><path d="M201.0 220.1l1.0 1.0l-1.0 1.0l-1.0 -1.0z" fill="#3A843A"/><path d="M208.7 209.8l1.6 1.6l-1.6 1.6l-1.6 -1.6z" fill="#0E520E"/><path d="M263.8 226.5l1.6 1.6l-1.6 1.6l-1.6 -1.6z" fill="#1E8A1E"/><path d="M201.0 241.0l1.6 1.6l-1.6 1.6l-1.6 -1.6z" fill="#1A5E1A"/><path d="M198.5 227.4l1.4 1.4l-1.4 1.4l-1.4 -1.4z" fill="#3F8A3F"/><path d="M272.8 235.7l1.0 1.0l-1.0 1.0l-1.0 -1.0z" fill="#0E520E"/><path d="M250.8 209.5l1.4 1.4l-1.4 1.4l-1.4 -1.4z" fill="#1A5E1A"/><path d="M269.6 214.4l1.6 1.6l-1.6 1.6l-1.6 -1.6z" fill="#3F8A3F"/><path d="M226.6 211.4l1.9 1.9l-1.9 1.9l-1.9 -1.9z" fill="#0E520E"/><path d="M258.0 217.8l1.1 1.1l-1.1 1.1l-1.1 -1.1z" fill="#0B480B"/><path d="M221.7 233.5l1.9 1.9l-1.9 1.9l-1.9 -1.9z" fill="#347E34"/><path d="M264.3 213.7l1.5 1.5l-1.5 1.5l-1.5 -1.5z" fill="#1E8A1E"/><path d="M188.9 219.3l1.6 1.6l-1.6 1.6l-1.6 -1.6z" fill="#1E8A1E"/><path d="M203.6 216.4l1.2 1.2l-1.2 1.2l-1.2 -1.2z" fill="#3A843A"/><path d="M221.9 237.1l1.0 1.0l-1.0 1.0l-1.0 -1.0z" fill="#0E520E"/><path d="M209.0 225.2l1.8 1.8l-1.8 1.8l-1.8 -1.8z" fill="#3F8A3F"/><path d="M263.1 211.5l1.5 1.5l-1.5 1.5l-1.5 -1.5z" fill="#0E520E"/><path d="M250.9 223.3l1.8 1.8l-1.8 1.8l-1.8 -1.8z" fill="#0E520E"/><path d="M197.0 228.1l1.7 1.7l-1.7 1.7l-1.7 -1.7z" fill="#2A702A"/><path d="M258.4 219.9l1.7 1.7l-1.7 1.7l-1.7 -1.7z" fill="#0E520E"/><path d="M238.7 236.8l1.1 1.1l-1.1 1.1l-1.1 -1.1z" fill="#1A5E1A"/><path d="M277.5 221.6l1.8 1.8l-1.8 1.8l-1.8 -1.8z" fill="#0E520E"/><path d="M215.3 212.7l1.3 1.3l-1.3 1.3l-1.3 -1.3z" fill="#3F8A3F"/><path d="M235.7 219.4l1.9 1.9l-1.9 1.9l-1.9 -1.9z" fill="#347E34"/><path d="M260.0 224.1l1.6 1.6l-1.6 1.6l-1.6 -1.6z" fill="#347E34"/><path d="M211.5 226.1l1.3 1.3l-1.3 1.3l-1.3 -1.3z" fill="#0E520E"/><path d="M210.6 211.1l1.2 1.2l-1.2 1.2l-1.2 -1.2z" fill="#1A5E1A"/><path d="M265.9 235.7l1.4 1.4l-1.4 1.4l-1.4 -1.4z" fill="#0E520E"/><path d="M274.1 213.1l1.7 1.7l-1.7 1.7l-1.7 -1.7z" fill="#3F8A3F"/><path d="M262.3 209.6l1.9 1.9l-1.9 1.9l-1.9 -1.9z" fill="#347E34"/><path d="M263.4 224.7l1.4 1.4l-1.4 1.4l-1.4 -1.4z" fill="#1A5E1A"/><path d="M244.4 225.7l1.0 1.0l-1.0 1.0l-1.0 -1.0z" fill="#1E8A1E"/><path d="M229.1 239.5l1.5 1.5l-1.5 1.5l-1.5 -1.5z" fill="#0E520E"/><path d="M210.5 241.2l1.4 1.4l-1.4 1.4l-1.4 -1.4z" fill="#2A702A"/><path d="M204.4 229.9l1.1 1.1l-1.1 1.1l-1.1 -1.1z" fill="#2A702A"/><path d="M248.4 233.0l1.1 1.1l-1.1 1.1l-1.1 -1.1z" fill="#2A702A"/><path d="M217.5 229.6l1.1 1.1l-1.1 1.1l-1.1 -1.1z" fill="#2A702A"/><path d="M268.2 235.0l1.1 1.1l-1.1 1.1l-1.1 -1.1z" fill="#3A843A"/><path d="M244.9 228.9l1.3 1.3l-1.3 1.3l-1.3 -1.3z" fill="#2A702A"/><path d="M251.7 223.5l1.4 1.4l-1.4 1.4l-1.4 -1.4z" fill="#2A702A"/><path d="M225.4 229.3l0.9 0.9l-0.9 0.9l-0.9 -0.9z" fill="#1A5E1A"/><path d="M246.1 212.3l1.1 1.1l-1.1 1.1l-1.1 -1.1z" fill="#347E34"/><path d="M267.3 215.8l1.6 1.6l-1.6 1.6l-1.6 -1.6z" fill="#1A5E1A"/><path d="M206.4 221.8l1.1 1.1l-1.1 1.1l-1.1 -1.1z" fill="#0E520E"/><path d="M208.9 227.0l1.5 1.5l-1.5 1.5l-1.5 -1.5z" fill="#1A5E1A"/><path d="M231.2 214.9l1.5 1.5l-1.5 1.5l-1.5 -1.5z" fill="#1A5E1A"/><path d="M280.7 220.7l1.7 1.7l-1.7 1.7l-1.7 -1.7z" fill="#0E520E"/><path d="M209.1 235.3l1.5 1.5l-1.5 1.5l-1.5 -1.5z" fill="#2A702A"/><path d="M251.7 223.3l1.3 1.3l-1.3 1.3l-1.3 -1.3z" fill="#1A5E1A"/><path d="M219.3 241.2l1.2 1.2l-1.2 1.2l-1.2 -1.2z" fill="#3A843A"/><path d="M255.0 226.9l1.3 1.3l-1.3 1.3l-1.3 -1.3z" fill="#0E520E"/><path d="M229.6 231.9l1.5 1.5l-1.5 1.5l-1.5 -1.5z" fill="#3F8A3F"/><path d="M275.4 219.2l1.8 1.8l-1.8 1.8l-1.8 -1.8z" fill="#2A702A"/><path d="M216.1 213.3l1.0 1.0l-1.0 1.0l-1.0 -1.0z" fill="#1A5E1A"/><path d="M212.6 241.2l1.8 1.8l-1.8 1.8l-1.8 -1.8z" fill="#1E8A1E"/><path d="M259.5 219.2l1.1 1.1l-1.1 1.1l-1.1 -1.1z" fill="#1E8A1E"/><path d="M222.2 232.6l1.1 1.1l-1.1 1.1l-1.1 -1.1z" fill="#1A5E1A"/><path d="M238.8 220.9l1.7 1.7l-1.7 1.7l-1.7 -1.7z" fill="#0E520E"/><path d="M250.4 213.3l1.2 1.2l-1.2 1.2l-1.2 -1.2z" fill="#347E34"/><path d="M237.1 238.5l1.1 1.1l-1.1 1.1l-1.1 -1.1z" fill="#0B480B"/><path d="M226.6 231.9l0.9 0.9l-0.9 0.9l-0.9 -0.9z" fill="#0E520E"/><path d="M239.0 239.4l1.1 1.1l-1.1 1.1l-1.1 -1.1z" fill="#0B480B"/><path d="M187.2 231.3l1.6 1.6l-1.6 1.6l-1.6 -1.6z" fill="#347E34"/><path d="M210.3 219.8l1.3 1.3l-1.3 1.3l-1.3 -1.3z" fill="#1A5E1A"/><path d="M194.3 235.4l1.1 1.1l-1.1 1.1l-1.1 -1.1z" fill="#347E34"/><path d="M263.2 232.1l1.0 1.0l-1.0 1.0l-1.0 -1.0z" fill="#3A843A"/><path d="M260.8 212.7l1.6 1.6l-1.6 1.6l-1.6 -1.6z" fill="#0B480B"/><path d="M193.8 229.1l1.4 1.4l-1.4 1.4l-1.4 -1.4z" fill="#2A702A"/><path d="M238.4 235.0l1.7 1.7l-1.7 1.7l-1.7 -1.7z" fill="#1A5E1A"/><path d="M190.5 213.1l2.0 2.0l-2.0 2.0l-2.0 -2.0z" fill="#0E520E"/><path d="M229.9 237.9l1.5 1.5l-1.5 1.5l-1.5 -1.5z" fill="#0B480B"/><path d="M263.3 210.2l1.5 1.5l-1.5 1.5l-1.5 -1.5z" fill="#1A5E1A"/><path d="M261.2 222.7l1.7 1.7l-1.7 1.7l-1.7 -1.7z" fill="#1A5E1A"/><path d="M269.1 238.0l1.1 1.1l-1.1 1.1l-1.1 -1.1z" fill="#0E520E"/><path d="M276.7 229.4l1.1 1.1l-1.1 1.1l-1.1 -1.1z" fill="#3A843A"/><path d="M265.3 217.1l1.3 1.3l-1.3 1.3l-1.3 -1.3z" fill="#1E8A1E"/><path d="M227.6 226.6l1.1 1.1l-1.1 1.1l-1.1 -1.1z" fill="#0E520E"/><path d="M271.0 238.1l1.2 1.2l-1.2 1.2l-1.2 -1.2z" fill="#347E34"/><path d="M198.2 236.2l1.2 1.2l-1.2 1.2l-1.2 -1.2z" fill="#2A702A"/><path d="M218.9 210.2l1.6 1.6l-1.6 1.6l-1.6 -1.6z" fill="#0B480B"/><path d="M274.6 228.6l1.3 1.3l-1.3 1.3l-1.3 -1.3z" fill="#0E520E"/><path d="M187.8 226.2l1.3 1.3l-1.3 1.3l-1.3 -1.3z" fill="#3A843A"/><path d="M262.9 228.9l1.9 1.9l-1.9 1.9l-1.9 -1.9z" fill="#1A5E1A"/><path d="M281.2 234.5l1.4 1.4l-1.4 1.4l-1.4 -1.4z" fill="#0B480B"/><path d="M239.4 241.3l1.7 1.7l-1.7 1.7l-1.7 -1.7z" fill="#3A843A"/><path d="M223.3 238.0l1.7 1.7l-1.7 1.7l-1.7 -1.7z" fill="#3A843A"/><path d="M224.4 235.9l1.0 1.0l-1.0 1.0l-1.0 -1.0z" fill="#0E520E"/><path d="M225.0 215.5l1.9 1.9l-1.9 1.9l-1.9 -1.9z" fill="#0B480B"/><path d="M212.0 231.1l1.8 1.8l-1.8 1.8l-1.8 -1.8z" fill="#1A5E1A"/><path d="M231.3 243.1l1.3 1.3l-1.3 1.3l-1.3 -1.3z" fill="#2A702A"/><path d="M263.7 215.5l1.4 1.4l-1.4 1.4l-1.4 -1.4z" fill="#0B480B"/><path d="M255.9 216.5l1.8 1.8l-1.8 1.8l-1.8 -1.8z" fill="#1A5E1A"/><path d="M280.0 218.3l1.4 1.4l-1.4 1.4l-1.4 -1.4z" fill="#0B480B"/><path d="M187.7 222.4l1.6 1.6l-1.6 1.6l-1.6 -1.6z" fill="#3A843A"/><path d="M203.5 226.8l0.9 0.9l-0.9 0.9l-0.9 -0.9z" fill="#3F8A3F"/><path d="M215.8 237.4l1.3 1.3l-1.3 1.3l-1.3 -1.3z" fill="#3A843A"/><path d="M271.7 237.9l1.4 1.4l-1.4 1.4l-1.4 -1.4z" fill="#0E520E"/><path d="M201.6 237.0l1.9 1.9l-1.9 1.9l-1.9 -1.9z" fill="#2A702A"/><path d="M210.4 209.9l1.8 1.8l-1.8 1.8l-1.8 -1.8z" fill="#0E520E"/><path d="M246.8 217.5l1.1 1.1l-1.1 1.1l-1.1 -1.1z" fill="#1A5E1A"/><path d="M235.7 242.2l1.1 1.1l-1.1 1.1l-1.1 -1.1z" fill="#0B480B"/><path d="M258.2 216.8l1.6 1.6l-1.6 1.6l-1.6 -1.6z" fill="#347E34"/><path d="M230.5 228.9l1.0 1.0l-1.0 1.0l-1.0 -1.0z" fill="#1E8A1E"/><path d="M235.7 222.1l1.8 1.8l-1.8 1.8l-1.8 -1.8z" fill="#347E34"/><path d="M202.8 209.9l1.7 1.7l-1.7 1.7l-1.7 -1.7z" fill="#0E520E"/><path d="M240.6 231.4l0.9 0.9l-0.9 0.9l-0.9 -0.9z" fill="#3F8A3F"/><path d="M272.3 232.7l1.0 1.0l-1.0 1.0l-1.0 -1.0z" fill="#0E520E"/><path d="M211.7 242.0l2.0 2.0l-2.0 2.0l-2.0 -2.0z" fill="#3F8A3F"/><path d="M270.2 225.7l1.4 1.4l-1.4 1.4l-1.4 -1.4z" fill="#1E8A1E"/><path d="M222.2 237.0l1.1 1.1l-1.1 1.1l-1.1 -1.1z" fill="#0E520E"/><path d="M239.3 227.3l1.9 1.9l-1.9 1.9l-1.9 -1.9z" fill="#1E8A1E"/><path d="M276.9 225.3l1.6 1.6l-1.6 1.6l-1.6 -1.6z" fill="#0E520E"/><path d="M256.7 227.9l1.2 1.2l-1.2 1.2l-1.2 -1.2z" fill="#0E520E"/><path d="M201.9 228.4l1.4 1.4l-1.4 1.4l-1.4 -1.4z" fill="#3F8A3F"/><path d="M213.0 220.8l0.9 0.9l-0.9 0.9l-0.9 -0.9z" fill="#2A702A"/><path d="M241.5 210.8l1.0 1.0l-1.0 1.0l-1.0 -1.0z" fill="#3F8A3F"/><path d="M263.2 211.4l1.7 1.7l-1.7 1.7l-1.7 -1.7z" fill="#2A702A"/><path d="M235.0 216.5l1.5 1.5l-1.5 1.5l-1.5 -1.5z" fill="#2A702A"/><path d="M238.2 240.7l2.0 2.0l-2.0 2.0l-2.0 -2.0z" fill="#3F8A3F"/><path d="M232.5 221.0l1.5 1.5l-1.5 1.5l-1.5 -1.5z" fill="#0B480B"/><path d="M197.2 227.5l1.0 1.0l-1.0 1.0l-1.0 -1.0z" fill="#2A702A"/><path d="M213.5 235.3l1.7 1.7l-1.7 1.7l-1.7 -1.7z" fill="#3A843A"/><path d="M233.7 243.6l1.1 1.1l-1.1 1.1l-1.1 -1.1z" fill="#3F8A3F"/><path d="M217.3 229.5l1.4 1.4l-1.4 1.4l-1.4 -1.4z" fill="#3F8A3F"/><path d="M250.8 210.6l1.7 1.7l-1.7 1.7l-1.7 -1.7z" fill="#0B480B"/><path d="M202.3 217.9l1.1 1.1l-1.1 1.1l-1.1 -1.1z" fill="#3A843A"/><path d="M209.3 219.6l1.4 1.4l-1.4 1.4l-1.4 -1.4z" fill="#1A5E1A"/><path d="M209.0 235.5l1.7 1.7l-1.7 1.7l-1.7 -1.7z" fill="#3F8A3F"/><path d="M248.9 240.8l1.7 1.7l-1.7 1.7l-1.7 -1.7z" fill="#3F8A3F"/><path d="M202.0 217.4l1.4 1.4l-1.4 1.4l-1.4 -1.4z" fill="#1A5E1A"/><path d="M216.9 222.2l1.4 1.4l-1.4 1.4l-1.4 -1.4z" fill="#0B480B"/><path d="M264.4 227.3l1.8 1.8l-1.8 1.8l-1.8 -1.8z" fill="#3F8A3F"/><path d="M238.5 232.9l1.2 1.2l-1.2 1.2l-1.2 -1.2z" fill="#0E520E"/><path d="M280.9 237.0l1.1 1.1l-1.1 1.1l-1.1 -1.1z" fill="#3F8A3F"/><path d="M243.8 216.3l2.0 2.0l-2.0 2.0l-2.0 -2.0z" fill="#0E520E"/><path d="M197.5 237.6l1.3 1.3l-1.3 1.3l-1.3 -1.3z" fill="#0E520E"/><path d="M244.7 216.2l1.3 1.3l-1.3 1.3l-1.3 -1.3z" fill="#3F8A3F"/><path d="M201.0 212.5l1.5 1.5l-1.5 1.5l-1.5 -1.5z" fill="#3A843A"/><path d="M239.9 215.3l1.2 1.2l-1.2 1.2l-1.2 -1.2z" fill="#347E34"/><path d="M234.7 214.0l0.9 0.9l-0.9 0.9l-0.9 -0.9z" fill="#0E520E"/><path d="M247.2 216.2l1.7 1.7l-1.7 1.7l-1.7 -1.7z" fill="#0E520E"/><path d="M209.1 221.0l1.6 1.6l-1.6 1.6l-1.6 -1.6z" fill="#0B480B"/><path d="M255.1 220.0l1.7 1.7l-1.7 1.7l-1.7 -1.7z" fill="#0B480B"/><path d="M242.3 237.4l1.7 1.7l-1.7 1.7l-1.7 -1.7z" fill="#1E8A1E"/><path d="M268.2 217.8l1.0 1.0l-1.0 1.0l-1.0 -1.0z" fill="#0E520E"/><path d="M227.4 217.7l1.1 1.1l-1.1 1.1l-1.1 -1.1z" fill="#3F8A3F"/><path d="M228.7 219.4l0.9 0.9l-0.9 0.9l-0.9 -0.9z" fill="#0E520E"/><path d="M269.7 227.1l1.1 1.1l-1.1 1.1l-1.1 -1.1z" fill="#3A843A"/><path d="M219.0 229.3l1.0 1.0l-1.0 1.0l-1.0 -1.0z" fill="#1E8A1E"/><path d="M238.0 235.2l1.1 1.1l-1.1 1.1l-1.1 -1.1z" fill="#0E520E"/><path d="M236.9 240.5l1.7 1.7l-1.7 1.7l-1.7 -1.7z" fill="#0E520E"/><path d="M264.4 215.9l1.5 1.5l-1.5 1.5l-1.5 -1.5z" fill="#3A843A"/><path d="M266.4 226.7l2.0 2.0l-2.0 2.0l-2.0 -2.0z" fill="#2A702A"/><path d="M206.6 216.8l1.6 1.6l-1.6 1.6l-1.6 -1.6z" fill="#0E520E"/><path d="M235.0 234.5l1.6 1.6l-1.6 1.6l-1.6 -1.6z" fill="#1E8A1E"/><path d="M222.1 241.2l1.2 1.2l-1.2 1.2l-1.2 -1.2z" fill="#0E520E"/><path d="M237.2 222.9l1.7 1.7l-1.7 1.7l-1.7 -1.7z" fill="#0E520E"/><path d="M256.7 224.4l1.3 1.3l-1.3 1.3l-1.3 -1.3z" fill="#0E520E"/><path d="M221.3 243.2l1.6 1.6l-1.6 1.6l-1.6 -1.6z" fill="#3F8A3F"/><path d="M227.4 241.9l2.0 2.0l-2.0 2.0l-2.0 -2.0z" fill="#347E34"/><path d="M263.7 218.4l1.9 1.9l-1.9 1.9l-1.9 -1.9z" fill="#1A5E1A"/><path d="M265.1 231.6l1.4 1.4l-1.4 1.4l-1.4 -1.4z" fill="#2A702A"/><path d="M212.9 218.5l1.5 1.5l-1.5 1.5l-1.5 -1.5z" fill="#0E520E"/><path d="M236.5 224.0l1.8 1.8l-1.8 1.8l-1.8 -1.8z" fill="#0B480B"/><path d="M210.9 212.5l1.1 1.1l-1.1 1.1l-1.1 -1.1z" fill="#347E34"/><path d="M217.2 214.4l0.9 0.9l-0.9 0.9l-0.9 -0.9z" fill="#3A843A"/><path d="M280.3 220.6l1.9 1.9l-1.9 1.9l-1.9 -1.9z" fill="#0B480B"/><path d="M234.2 243.8l1.1 1.1l-1.1 1.1l-1.1 -1.1z" fill="#3F8A3F"/><path d="M223.1 216.5l1.7 1.7l-1.7 1.7l-1.7 -1.7z" fill="#0E520E"/><path d="M210.3 228.6l1.1 1.1l-1.1 1.1l-1.1 -1.1z" fill="#0E520E"/><path d="M263.2 236.4l2.0 2.0l-2.0 2.0l-2.0 -2.0z" fill="#1A5E1A"/><path d="M214.3 222.4l1.9 1.9l-1.9 1.9l-1.9 -1.9z" fill="#3F8A3F"/><path d="M192.6 214.2l1.2 1.2l-1.2 1.2l-1.2 -1.2z" fill="#1A5E1A"/><path d="M230.5 240.6l1.8 1.8l-1.8 1.8l-1.8 -1.8z" fill="#347E34"/><path d="M234.1 219.7l1.9 1.9l-1.9 1.9l-1.9 -1.9z" fill="#0E520E"/><path d="M214.3 237.3l0.9 0.9l-0.9 0.9l-0.9 -0.9z" fill="#1A5E1A"/><path d="M277.5 238.1l1.5 1.5l-1.5 1.5l-1.5 -1.5z" fill="#0B480B"/><path d="M269.2 236.8l1.8 1.8l-1.8 1.8l-1.8 -1.8z" fill="#3F8A3F"/><path d="M243.7 233.4l1.4 1.4l-1.4 1.4l-1.4 -1.4z" fill="#1E8A1E"/><path d="M259.7 216.3l1.6 1.6l-1.6 1.6l-1.6 -1.6z" fill="#0E520E"/><path d="M203.6 220.0l1.7 1.7l-1.7 1.7l-1.7 -1.7z" fill="#3F8A3F"/><path d="M226.9 232.0l1.6 1.6l-1.6 1.6l-1.6 -1.6z" fill="#3A843A"/><path d="M197.4 233.5l1.2 1.2l-1.2 1.2l-1.2 -1.2z" fill="#0E520E"/><path d="M228.5 226.7l1.3 1.3l-1.3 1.3l-1.3 -1.3z" fill="#0E520E"/><path d="M212.4 213.4l1.6 1.6l-1.6 1.6l-1.6 -1.6z" fill="#1A5E1A"/><path d="M261.5 214.5l1.6 1.6l-1.6 1.6l-1.6 -1.6z" fill="#1A5E1A"/><path d="M199.1 231.6l1.2 1.2l-1.2 1.2l-1.2 -1.2z" fill="#0B480B"/><path d="M221.8 232.4l1.4 1.4l-1.4 1.4l-1.4 -1.4z" fill="#1E8A1E"/><path d="M230.9 218.4l1.8 1.8l-1.8 1.8l-1.8 -1.8z" fill="#0B480B"/><path d="M216.4 232.0l1.0 1.0l-1.0 1.0l-1.0 -1.0z" fill="#3A843A"/><path d="M204.3 224.3l1.0 1.0l-1.0 1.0l-1.0 -1.0z" fill="#0E520E"/><path d="M227.4 239.6l1.6 1.6l-1.6 1.6l-1.6 -1.6z" fill="#3F8A3F"/><path d="M241.7 210.4l1.3 1.3l-1.3 1.3l-1.3 -1.3z" fill="#347E34"/><path d="M200.6 240.3l1.3 1.3l-1.3 1.3l-1.3 -1.3z" fill="#1E8A1E"/><path d="M236.0 238.6l1.5 1.5l-1.5 1.5l-1.5 -1.5z" fill="#2A702A"/><path d="M203.4 232.4l1.6 1.6l-1.6 1.6l-1.6 -1.6z" fill="#3F8A3F"/><path d="M221.8 219.6l1.0 1.0l-1.0 1.0l-1.0 -1.0z" fill="#2A702A"/><path d="M193.0 230.7l1.8 1.8l-1.8 1.8l-1.8 -1.8z" fill="#1A5E1A"/><path d="M236.2 233.1l1.4 1.4l-1.4 1.4l-1.4 -1.4z" fill="#3F8A3F"/><path d="M259.4 234.8l1.6 1.6l-1.6 1.6l-1.6 -1.6z" fill="#3F8A3F"/><path d="M206.2 234.6l1.4 1.4l-1.4 1.4l-1.4 -1.4z" fill="#3A843A"/><path d="M280.1 235.1l1.9 1.9l-1.9 1.9l-1.9 -1.9z" fill="#347E34"/><path d="M197.8 211.1l1.4 1.4l-1.4 1.4l-1.4 -1.4z" fill="#1E8A1E"/><path d="M258.0 237.0l1.8 1.8l-1.8 1.8l-1.8 -1.8z" fill="#347E34"/><path d="M199.2 232.8l1.5 1.5l-1.5 1.5l-1.5 -1.5z" fill="#0E520E"/><path d="M202.7 224.8l1.8 1.8l-1.8 1.8l-1.8 -1.8z" fill="#0B480B"/><path d="M202.5 241.0l1.1 1.1l-1.1 1.1l-1.1 -1.1z" fill="#0B480B"/><path d="M194.2 220.7l1.8 1.8l-1.8 1.8l-1.8 -1.8z" fill="#347E34"/><path d="M204.0 215.9l1.1 1.1l-1.1 1.1l-1.1 -1.1z" fill="#347E34"/><path d="M206.7 222.6l2.0 2.0l-2.0 2.0l-2.0 -2.0z" fill="#1A5E1A"/><path d="M253.7 219.6l2.0 2.0l-2.0 2.0l-2.0 -2.0z" fill="#347E34"/><path d="M242.2 209.5l1.0 1.0l-1.0 1.0l-1.0 -1.0z" fill="#347E34"/><path d="M241.4 215.0l1.2 1.2l-1.2 1.2l-1.2 -1.2z" fill="#0E520E"/><path d="M223.3 229.1l1.9 1.9l-1.9 1.9l-1.9 -1.9z" fill="#347E34"/><path d="M229.0 219.3l1.2 1.2l-1.2 1.2l-1.2 -1.2z" fill="#3F8A3F"/><path d="M221.7 223.2l1.3 1.3l-1.3 1.3l-1.3 -1.3z" fill="#0E520E"/><path d="M270.7 220.4l1.2 1.2l-1.2 1.2l-1.2 -1.2z" fill="#0E520E"/><path d="M279.2 236.9l0.9 0.9l-0.9 0.9l-0.9 -0.9z" fill="#0E520E"/><path d="M241.6 231.1l1.1 1.1l-1.1 1.1l-1.1 -1.1z" fill="#3A843A"/><path d="M219.3 214.7l1.0 1.0l-1.0 1.0l-1.0 -1.0z" fill="#3F8A3F"/><path d="M237.2 210.3l1.4 1.4l-1.4 1.4l-1.4 -1.4z" fill="#3A843A"/><path d="M233.8 229.2l1.8 1.8l-1.8 1.8l-1.8 -1.8z" fill="#0E520E"/><path d="M252.8 223.7l1.1 1.1l-1.1 1.1l-1.1 -1.1z" fill="#347E34"/><path d="M205.0 214.0l1.9 1.9l-1.9 1.9l-1.9 -1.9z" fill="#1E8A1E"/><path d="M224.1 228.8l1.5 1.5l-1.5 1.5l-1.5 -1.5z" fill="#1E8A1E"/><path d="M261.5 225.5l1.3 1.3l-1.3 1.3l-1.3 -1.3z" fill="#0B480B"/><path d="M257.4 220.0l1.0 1.0l-1.0 1.0l-1.0 -1.0z" fill="#0B480B"/><path d="M231.7 233.9l1.8 1.8l-1.8 1.8l-1.8 -1.8z" fill="#0E520E"/><path d="M224.1 214.6l1.1 1.1l-1.1 1.1l-1.1 -1.1z" fill="#0E520E"/><path d="M230.9 243.8l1.4 1.4l-1.4 1.4l-1.4 -1.4z" fill="#3A843A"/><path d="M231.3 217.4l1.5 1.5l-1.5 1.5l-1.5 -1.5z" fill="#1E8A1E"/><path d="M225.1 239.1l1.9 1.9l-1.9 1.9l-1.9 -1.9z" fill="#0E520E"/><path d="M257.3 223.9l1.3 1.3l-1.3 1.3l-1.3 -1.3z" fill="#0B480B"/><path d="M283.1 232.6l1.6 1.6l-1.6 1.6l-1.6 -1.6z" fill="#1E8A1E"/><path d="M219.8 226.5l1.1 1.1l-1.1 1.1l-1.1 -1.1z" fill="#3F8A3F"/><path d="M225.6 236.5l2.0 2.0l-2.0 2.0l-2.0 -2.0z" fill="#0E520E"/><path d="M273.1 211.8l1.0 1.0l-1.0 1.0l-1.0 -1.0z" fill="#0B480B"/><path d="M220.5 225.9l1.2 1.2l-1.2 1.2l-1.2 -1.2z" fill="#0E520E"/><path d="M201.8 215.6l2.0 2.0l-2.0 2.0l-2.0 -2.0z" fill="#0E520E"/><path d="M267.0 213.4l1.4 1.4l-1.4 1.4l-1.4 -1.4z" fill="#1A5E1A"/><path d="M270.4 217.6l1.5 1.5l-1.5 1.5l-1.5 -1.5z" fill="#0E520E"/><path d="M214.9 241.9l1.5 1.5l-1.5 1.5l-1.5 -1.5z" fill="#347E34"/><path d="M216.8 235.1l1.2 1.2l-1.2 1.2l-1.2 -1.2z" fill="#2A702A"/><path d="M211.6 241.4l1.9 1.9l-1.9 1.9l-1.9 -1.9z" fill="#0E520E"/><path d="M203.5 210.8l1.9 1.9l-1.9 1.9l-1.9 -1.9z" fill="#1A5E1A"/><path d="M229.2 236.2l1.3 1.3l-1.3 1.3l-1.3 -1.3z" fill="#0E520E"/><path d="M192.2 212.2l1.4 1.4l-1.4 1.4l-1.4 -1.4z" fill="#3A843A"/><path d="M217.1 222.9l1.7 1.7l-1.7 1.7l-1.7 -1.7z" fill="#2A702A"/><path d="M255.1 236.2l1.7 1.7l-1.7 1.7l-1.7 -1.7z" fill="#0E520E"/><path d="M238.8 235.6l1.4 1.4l-1.4 1.4l-1.4 -1.4z" fill="#3A843A"/><path d="M264.0 225.0l1.0 1.0l-1.0 1.0l-1.0 -1.0z" fill="#2A702A"/><path d="M267.0 213.4l1.5 1.5l-1.5 1.5l-1.5 -1.5z" fill="#347E34"/><path d="M259.3 230.8l1.5 1.5l-1.5 1.5l-1.5 -1.5z" fill="#0E520E"/><path d="M236.1 234.5l2.0 2.0l-2.0 2.0l-2.0 -2.0z" fill="#2A702A"/><path d="M266.8 231.5l1.4 1.4l-1.4 1.4l-1.4 -1.4z" fill="#1E8A1E"/><path d="M223.3 223.1l1.5 1.5l-1.5 1.5l-1.5 -1.5z" fill="#347E34"/><path d="M224.6 224.3l1.2 1.2l-1.2 1.2l-1.2 -1.2z" fill="#1A5E1A"/><path d="M269.5 223.6l1.9 1.9l-1.9 1.9l-1.9 -1.9z" fill="#2A702A"/><path d="M268.1 226.3l1.1 1.1l-1.1 1.1l-1.1 -1.1z" fill="#1E8A1E"/><path d="M267.1 227.8l1.7 1.7l-1.7 1.7l-1.7 -1.7z" fill="#1A5E1A"/><path d="M195.9 234.9l2.0 2.0l-2.0 2.0l-2.0 -2.0z" fill="#3A843A"/><path d="M271.4 221.9l1.3 1.3l-1.3 1.3l-1.3 -1.3z" fill="#3A843A"/><path d="M243.9 211.2l1.5 1.5l-1.5 1.5l-1.5 -1.5z" fill="#0B480B"/><path d="M269.8 219.9l1.5 1.5l-1.5 1.5l-1.5 -1.5z" fill="#1A5E1A"/><path d="M252.6 210.4l1.2 1.2l-1.2 1.2l-1.2 -1.2z" fill="#0E520E"/><path d="M222.7 241.2l1.7 1.7l-1.7 1.7l-1.7 -1.7z" fill="#3F8A3F"/><path d="M248.3 216.0l1.8 1.8l-1.8 1.8l-1.8 -1.8z" fill="#0E520E"/><path d="M208.6 236.3l1.2 1.2l-1.2 1.2l-1.2 -1.2z" fill="#2A702A"/><path d="M197.2 241.0l1.1 1.1l-1.1 1.1l-1.1 -1.1z" fill="#3A843A"/><path d="M244.6 220.8l1.5 1.5l-1.5 1.5l-1.5 -1.5z" fill="#3F8A3F"/><path d="M247.4 225.1l1.4 1.4l-1.4 1.4l-1.4 -1.4z" fill="#0E520E"/><path d="M259.7 214.1l1.7 1.7l-1.7 1.7l-1.7 -1.7z" fill="#2A702A"/><path d="M226.6 233.2l1.1 1.1l-1.1 1.1l-1.1 -1.1z" fill="#0E520E"/><path d="M273.6 237.5l1.7 1.7l-1.7 1.7l-1.7 -1.7z" fill="#1E8A1E"/><path d="M188.1 225.2l1.1 1.1l-1.1 1.1l-1.1 -1.1z" fill="#0B480B"/><path d="M193.4 232.8l2.0 2.0l-2.0 2.0l-2.0 -2.0z" fill="#3A843A"/><path d="M283.3 222.4l1.2 1.2l-1.2 1.2l-1.2 -1.2z" fill="#347E34"/><path d="M246.3 212.2l1.8 1.8l-1.8 1.8l-1.8 -1.8z" fill="#1E8A1E"/><path d="M275.6 229.8l1.9 1.9l-1.9 1.9l-1.9 -1.9z" fill="#1E8A1E"/><path d="M206.2 240.2l1.3 1.3l-1.3 1.3l-1.3 -1.3z" fill="#0E520E"/><path d="M237.2 241.7l1.5 1.5l-1.5 1.5l-1.5 -1.5z" fill="#2A702A"/><path d="M266.1 216.0l1.0 1.0l-1.0 1.0l-1.0 -1.0z" fill="#1E8A1E"/><path d="M264.4 226.2l1.2 1.2l-1.2 1.2l-1.2 -1.2z" fill="#3F8A3F"/><path d="M275.6 216.3l1.6 1.6l-1.6 1.6l-1.6 -1.6z" fill="#3A843A"/><path d="M236.5 225.8l1.4 1.4l-1.4 1.4l-1.4 -1.4z" fill="#2A702A"/><path d="M237.3 210.3l1.1 1.1l-1.1 1.1l-1.1 -1.1z" fill="#3F8A3F"/><path d="M209.6 222.5l1.3 1.3l-1.3 1.3l-1.3 -1.3z" fill="#3A843A"/><path d="M255.8 221.2l1.5 1.5l-1.5 1.5l-1.5 -1.5z" fill="#0E520E"/><path d="M233.9 220.8l1.8 1.8l-1.8 1.8l-1.8 -1.8z" fill="#3A843A"/><path d="M263.3 234.1l1.3 1.3l-1.3 1.3l-1.3 -1.3z" fill="#3A843A"/><path d="M226.4 220.7l1.7 1.7l-1.7 1.7l-1.7 -1.7z" fill="#0E520E"/><path d="M259.6 237.4l1.5 1.5l-1.5 1.5l-1.5 -1.5z" fill="#347E34"/><path d="M215.7 237.1l1.6 1.6l-1.6 1.6l-1.6 -1.6z" fill="#1A5E1A"/><path d="M282.3 221.7l1.1 1.1l-1.1 1.1l-1.1 -1.1z" fill="#0E520E"/><path d="M202.0 229.9l1.7 1.7l-1.7 1.7l-1.7 -1.7z" fill="#0B480B"/><path d="M241.4 235.8l2.0 2.0l-2.0 2.0l-2.0 -2.0z" fill="#2A702A"/><path d="M217.0 218.7l1.7 1.7l-1.7 1.7l-1.7 -1.7z" fill="#1E8A1E"/><path d="M264.6 218.6l1.0 1.0l-1.0 1.0l-1.0 -1.0z" fill="#2A702A"/><path d="M211.1 216.8l1.5 1.5l-1.5 1.5l-1.5 -1.5z" fill="#2A702A"/><path d="M205.3 209.8l2.0 2.0l-2.0 2.0l-2.0 -2.0z" fill="#3A843A"/><path d="M257.5 214.4l1.3 1.3l-1.3 1.3l-1.3 -1.3z" fill="#0B480B"/><path d="M240.9 234.1l2.0 2.0l-2.0 2.0l-2.0 -2.0z" fill="#0B480B"/><path d="M206.0 220.1l1.1 1.1l-1.1 1.1l-1.1 -1.1z" fill="#1A5E1A"/><path d="M228.2 222.9l1.9 1.9l-1.9 1.9l-1.9 -1.9z" fill="#0E520E"/><path d="M281.0 223.9l1.3 1.3l-1.3 1.3l-1.3 -1.3z" fill="#2A702A"/><path d="M274.4 233.1l1.9 1.9l-1.9 1.9l-1.9 -1.9z" fill="#3F8A3F"/><path d="M215.9 214.9l1.6 1.6l-1.6 1.6l-1.6 -1.6z" fill="#3F8A3F"/><path d="M245.0 211.3l1.8 1.8l-1.8 1.8l-1.8 -1.8z" fill="#1E8A1E"/><path d="M254.1 222.9l1.4 1.4l-1.4 1.4l-1.4 -1.4z" fill="#3A843A"/><path d="M232.7 232.8l1.4 1.4l-1.4 1.4l-1.4 -1.4z" fill="#0B480B"/><path d="M276.1 230.9l1.3 1.3l-1.3 1.3l-1.3 -1.3z" fill="#0E520E"/><path d="M263.7 229.3l1.1 1.1l-1.1 1.1l-1.1 -1.1z" fill="#347E34"/><path d="M252.4 240.8l1.4 1.4l-1.4 1.4l-1.4 -1.4z" fill="#1A5E1A"/><path d="M243.9 210.8l1.0 1.0l-1.0 1.0l-1.0 -1.0z" fill="#0B480B"/><path d="M211.6 243.1l1.0 1.0l-1.0 1.0l-1.0 -1.0z" fill="#0B480B"/><path d="M217.8 231.5l1.9 1.9l-1.9 1.9l-1.9 -1.9z" fill="#0B480B"/><path d="M281.9 231.8l0.9 0.9l-0.9 0.9l-0.9 -0.9z" fill="#0B480B"/><path d="M230.0 241.0l1.2 1.2l-1.2 1.2l-1.2 -1.2z" fill="#3A843A"/><path d="M275.1 234.9l1.1 1.1l-1.1 1.1l-1.1 -1.1z" fill="#2A702A"/><path d="M257.8 212.5l1.2 1.2l-1.2 1.2l-1.2 -1.2z" fill="#0E520E"/><path d="M274.7 235.0l1.6 1.6l-1.6 1.6l-1.6 -1.6z" fill="#1E8A1E"/><path d="M246.2 216.1l1.0 1.0l-1.0 1.0l-1.0 -1.0z" fill="#3A843A"/><path d="M211.3 239.3l1.5 1.5l-1.5 1.5l-1.5 -1.5z" fill="#1E8A1E"/><path d="M193.0 218.1l1.4 1.4l-1.4 1.4l-1.4 -1.4z" fill="#1A5E1A"/><path d="M203.6 211.5l1.4 1.4l-1.4 1.4l-1.4 -1.4z" fill="#3F8A3F"/><path d="M273.6 216.2l1.4 1.4l-1.4 1.4l-1.4 -1.4z" fill="#2A702A"/><path d="M265.8 228.3l1.6 1.6l-1.6 1.6l-1.6 -1.6z" fill="#0E520E"/><path d="M257.5 238.2l1.0 1.0l-1.0 1.0l-1.0 -1.0z" fill="#1A5E1A"/><path d="M243.1 211.1l1.1 1.1l-1.1 1.1l-1.1 -1.1z" fill="#3A843A"/><path d="M191.1 213.6l1.9 1.9l-1.9 1.9l-1.9 -1.9z" fill="#347E34"/><path d="M211.4 236.0l1.5 1.5l-1.5 1.5l-1.5 -1.5z" fill="#0E520E"/><path d="M240.4 232.2l1.2 1.2l-1.2 1.2l-1.2 -1.2z" fill="#0E520E"/><path d="M264.9 226.0l1.2 1.2l-1.2 1.2l-1.2 -1.2z" fill="#0B480B"/><path d="M264.7 228.1l1.5 1.5l-1.5 1.5l-1.5 -1.5z" fill="#1A5E1A"/><path d="M194.3 231.3l1.6 1.6l-1.6 1.6l-1.6 -1.6z" fill="#0E520E"/><path d="M274.9 230.1l1.7 1.7l-1.7 1.7l-1.7 -1.7z" fill="#347E34"/><path d="M242.5 222.5l1.4 1.4l-1.4 1.4l-1.4 -1.4z" fill="#0E520E"/><path d="M274.3 229.1l1.1 1.1l-1.1 1.1l-1.1 -1.1z" fill="#0E520E"/><path d="M196.3 220.4l1.8 1.8l-1.8 1.8l-1.8 -1.8z" fill="#0E520E"/><path d="M206.6 237.3l1.2 1.2l-1.2 1.2l-1.2 -1.2z" fill="#2A702A"/><path d="M264.5 234.1l1.2 1.2l-1.2 1.2l-1.2 -1.2z" fill="#3F8A3F"/><path d="M219.7 220.9l1.5 1.5l-1.5 1.5l-1.5 -1.5z" fill="#2A702A"/><path d="M276.7 227.9l1.4 1.4l-1.4 1.4l-1.4 -1.4z" fill="#0B480B"/><path d="M225.1 213.9l1.6 1.6l-1.6 1.6l-1.6 -1.6z" fill="#0B480B"/><path d="M235.6 240.7l1.5 1.5l-1.5 1.5l-1.5 -1.5z" fill="#1E8A1E"/><path d="M281.6 223.8l1.5 1.5l-1.5 1.5l-1.5 -1.5z" fill="#3A843A"/><path d="M204.2 237.3l0.9 0.9l-0.9 0.9l-0.9 -0.9z" fill="#347E34"/><path d="M203.9 218.8l1.8 1.8l-1.8 1.8l-1.8 -1.8z" fill="#1E8A1E"/><path d="M247.1 218.5l1.9 1.9l-1.9 1.9l-1.9 -1.9z" fill="#347E34"/><path d="M210.2 232.9l1.9 1.9l-1.9 1.9l-1.9 -1.9z" fill="#1A5E1A"/><path d="M230.1 209.7l1.6 1.6l-1.6 1.6l-1.6 -1.6z" fill="#0E520E"/><path d="M277.6 223.0l1.5 1.5l-1.5 1.5l-1.5 -1.5z" fill="#0B480B"/><path d="M224.8 214.0l1.0 1.0l-1.0 1.0l-1.0 -1.0z" fill="#0B480B"/><path d="M222.5 212.2l1.8 1.8l-1.8 1.8l-1.8 -1.8z" fill="#0B480B"/><path d="M212.2 235.8l1.6 1.6l-1.6 1.6l-1.6 -1.6z" fill="#1E8A1E"/><path d="M217.0 226.6l1.3 1.3l-1.3 1.3l-1.3 -1.3z" fill="#0B480B"/><path d="M198.5 215.8l1.5 1.5l-1.5 1.5l-1.5 -1.5z" fill="#3F8A3F"/><path d="M264.0 211.3l1.1 1.1l-1.1 1.1l-1.1 -1.1z" fill="#0E520E"/><path d="M196.7 222.1l1.0 1.0l-1.0 1.0l-1.0 -1.0z" fill="#1A5E1A"/><path d="M236.1 230.9l1.5 1.5l-1.5 1.5l-1.5 -1.5z" fill="#0E520E"/><path d="M253.8 215.1l1.9 1.9l-1.9 1.9l-1.9 -1.9z" fill="#0B480B"/><path d="M262.8 214.6l1.4 1.4l-1.4 1.4l-1.4 -1.4z" fill="#0E520E"/><path d="M275.6 227.1l1.3 1.3l-1.3 1.3l-1.3 -1.3z" fill="#0B480B"/><path d="M265.9 221.2l1.0 1.0l-1.0 1.0l-1.0 -1.0z" fill="#1E8A1E"/><path d="M252.4 222.0l2.0 2.0l-2.0 2.0l-2.0 -2.0z" fill="#1A5E1A"/><path d="M237.4 211.5l1.8 1.8l-1.8 1.8l-1.8 -1.8z" fill="#0E520E"/><path d="M218.1 225.3l1.7 1.7l-1.7 1.7l-1.7 -1.7z" fill="#3F8A3F"/><path d="M256.3 230.2l1.9 1.9l-1.9 1.9l-1.9 -1.9z" fill="#1A5E1A"/><path d="M253.5 236.2l1.8 1.8l-1.8 1.8l-1.8 -1.8z" fill="#1E8A1E"/><path d="M191.0 231.4l1.1 1.1l-1.1 1.1l-1.1 -1.1z" fill="#1E8A1E"/><path d="M211.8 237.9l1.5 1.5l-1.5 1.5l-1.5 -1.5z" fill="#3F8A3F"/><path d="M216.1 214.7l1.4 1.4l-1.4 1.4l-1.4 -1.4z" fill="#0E520E"/><path d="M196.6 221.4l1.8 1.8l-1.8 1.8l-1.8 -1.8z" fill="#1E8A1E"/><path d="M223.1 226.2l1.9 1.9l-1.9 1.9l-1.9 -1.9z" fill="#2A702A"/><path d="M222.3 217.9l1.4 1.4l-1.4 1.4l-1.4 -1.4z" fill="#0E520E"/><path d="M224.9 243.6l0.9 0.9l-0.9 0.9l-0.9 -0.9z" fill="#2A702A"/><path d="M201.1 237.1l0.9 0.9l-0.9 0.9l-0.9 -0.9z" fill="#0B480B"/><path d="M229.7 233.8l1.0 1.0l-1.0 1.0l-1.0 -1.0z" fill="#347E34"/><path d="M217.8 217.9l1.5 1.5l-1.5 1.5l-1.5 -1.5z" fill="#1E8A1E"/><path d="M248.3 236.2l1.0 1.0l-1.0 1.0l-1.0 -1.0z" fill="#0B480B"/><path d="M210.3 235.2l1.9 1.9l-1.9 1.9l-1.9 -1.9z" fill="#3F8A3F"/><path d="M218.4 210.1l1.1 1.1l-1.1 1.1l-1.1 -1.1z" fill="#3F8A3F"/><path d="M265.1 212.7l1.1 1.1l-1.1 1.1l-1.1 -1.1z" fill="#347E34"/><path d="M205.1 222.7l1.6 1.6l-1.6 1.6l-1.6 -1.6z" fill="#0E520E"/><path d="M199.7 224.5l1.9 1.9l-1.9 1.9l-1.9 -1.9z" fill="#347E34"/><path d="M235.5 225.4l1.7 1.7l-1.7 1.7l-1.7 -1.7z" fill="#0E520E"/><path d="M241.7 223.5l1.8 1.8l-1.8 1.8l-1.8 -1.8z" fill="#1A5E1A"/><path d="M200.1 214.6l2.0 2.0l-2.0 2.0l-2.0 -2.0z" fill="#0E520E"/><path d="M212.4 210.8l1.1 1.1l-1.1 1.1l-1.1 -1.1z" fill="#2A702A"/><path d="M239.2 235.2l0.9 0.9l-0.9 0.9l-0.9 -0.9z" fill="#1A5E1A"/><path d="M214.2 235.0l1.2 1.2l-1.2 1.2l-1.2 -1.2z" fill="#0B480B"/><path d="M221.5 227.9l1.8 1.8l-1.8 1.8l-1.8 -1.8z" fill="#0E520E"/><path d="M217.4 214.1l0.9 0.9l-0.9 0.9l-0.9 -0.9z" fill="#3A843A"/><path d="M213.4 231.8l1.9 1.9l-1.9 1.9l-1.9 -1.9z" fill="#2A702A"/><path d="M236.3 212.9l1.6 1.6l-1.6 1.6l-1.6 -1.6z" fill="#0B480B"/><path d="M195.7 212.8l1.1 1.1l-1.1 1.1l-1.1 -1.1z" fill="#2A702A"/><path d="M278.6 231.0l0.9 0.9l-0.9 0.9l-0.9 -0.9z" fill="#1E8A1E"/><path d="M279.0 222.3l1.1 1.1l-1.1 1.1l-1.1 -1.1z" fill="#3F8A3F"/><path d="M253.7 226.4l1.6 1.6l-1.6 1.6l-1.6 -1.6z" fill="#1E8A1E"/><path d="M230.1 216.3l0.9 0.9l-0.9 0.9l-0.9 -0.9z" fill="#2A702A"/><path d="M252.0 225.5l1.4 1.4l-1.4 1.4l-1.4 -1.4z" fill="#2A702A"/><path d="M247.9 225.6l1.9 1.9l-1.9 1.9l-1.9 -1.9z" fill="#1A5E1A"/><path d="M209.3 230.1l1.9 1.9l-1.9 1.9l-1.9 -1.9z" fill="#0E520E"/><path d="M262.8 221.7l1.7 1.7l-1.7 1.7l-1.7 -1.7z" fill="#1E8A1E"/><path d="M244.4 218.3l1.7 1.7l-1.7 1.7l-1.7 -1.7z" fill="#0B480B"/><path d="M195.9 211.5l1.1 1.1l-1.1 1.1l-1.1 -1.1z" fill="#0E520E"/><path d="M201.1 240.1l1.2 1.2l-1.2 1.2l-1.2 -1.2z" fill="#2A702A"/><path d="M193.4 223.0l1.6 1.6l-1.6 1.6l-1.6 -1.6z" fill="#1A5E1A"/><path d="M249.2 211.7l1.5 1.5l-1.5 1.5l-1.5 -1.5z" fill="#1A5E1A"/><path d="M204.3 216.8l1.2 1.2l-1.2 1.2l-1.2 -1.2z" fill="#0E520E"/><path d="M213.0 239.3l1.8 1.8l-1.8 1.8l-1.8 -1.8z" fill="#3A843A"/><path d="M201.4 233.2l1.2 1.2l-1.2 1.2l-1.2 -1.2z" fill="#1A5E1A"/><path d="M261.2 232.6l1.5 1.5l-1.5 1.5l-1.5 -1.5z" fill="#3F8A3F"/><path d="M199.0 237.2l1.5 1.5l-1.5 1.5l-1.5 -1.5z" fill="#3A843A"/><path d="M243.6 238.0l1.2 1.2l-1.2 1.2l-1.2 -1.2z" fill="#1A5E1A"/><path d="M217.2 211.5l1.3 1.3l-1.3 1.3l-1.3 -1.3z" fill="#3F8A3F"/><path d="M267.4 230.9l1.2 1.2l-1.2 1.2l-1.2 -1.2z" fill="#1E8A1E"/><path d="M213.4 231.2l1.8 1.8l-1.8 1.8l-1.8 -1.8z" fill="#347E34"/><path d="M249.1 209.1l1.4 1.4l-1.4 1.4l-1.4 -1.4z" fill="#347E34"/><path d="M215.4 210.8l1.3 1.3l-1.3 1.3l-1.3 -1.3z" fill="#1E8A1E"/><path d="M236.8 226.6l1.2 1.2l-1.2 1.2l-1.2 -1.2z" fill="#0B480B"/><path d="M210.7 238.1l1.0 1.0l-1.0 1.0l-1.0 -1.0z" fill="#0B480B"/><path d="M238.9 228.5l1.1 1.1l-1.1 1.1l-1.1 -1.1z" fill="#3F8A3F"/><path d="M188.2 226.1l1.5 1.5l-1.5 1.5l-1.5 -1.5z" fill="#1A5E1A"/><path d="M227.7 235.7l1.8 1.8l-1.8 1.8l-1.8 -1.8z" fill="#2A702A"/><path d="M244.3 230.3l1.1 1.1l-1.1 1.1l-1.1 -1.1z" fill="#1A5E1A"/><path d="M236.4 216.1l1.8 1.8l-1.8 1.8l-1.8 -1.8z" fill="#3F8A3F"/><path d="M224.5 230.4l1.7 1.7l-1.7 1.7l-1.7 -1.7z" fill="#0E520E"/><path d="M229.8 242.1l1.5 1.5l-1.5 1.5l-1.5 -1.5z" fill="#0E520E"/><path d="M213.3 239.1l1.6 1.6l-1.6 1.6l-1.6 -1.6z" fill="#0E520E"/><path d="M261.8 232.0l1.4 1.4l-1.4 1.4l-1.4 -1.4z" fill="#0B480B"/><path d="M281.1 219.9l1.7 1.7l-1.7 1.7l-1.7 -1.7z" fill="#0B480B"/><path d="M221.1 217.8l1.1 1.1l-1.1 1.1l-1.1 -1.1z" fill="#0E520E"/><path d="M195.0 212.6l1.1 1.1l-1.1 1.1l-1.1 -1.1z" fill="#0E520E"/><path d="M215.9 243.4l1.1 1.1l-1.1 1.1l-1.1 -1.1z" fill="#0E520E"/><path d="M230.2 214.8l1.4 1.4l-1.4 1.4l-1.4 -1.4z" fill="#3A843A"/><path d="M189.1 217.9l1.2 1.2l-1.2 1.2l-1.2 -1.2z" fill="#0E520E"/><path d="M235.2 210.4l1.9 1.9l-1.9 1.9l-1.9 -1.9z" fill="#0B480B"/><path d="M228.5 235.5l1.8 1.8l-1.8 1.8l-1.8 -1.8z" fill="#0B480B"/><path d="M217.6 237.3l1.5 1.5l-1.5 1.5l-1.5 -1.5z" fill="#0B480B"/><path d="M267.5 237.5l1.1 1.1l-1.1 1.1l-1.1 -1.1z" fill="#0E520E"/><path d="M251.6 223.2l0.9 0.9l-0.9 0.9l-0.9 -0.9z" fill="#0B480B"/><path d="M209.4 215.3l1.5 1.5l-1.5 1.5l-1.5 -1.5z" fill="#0E520E"/><path d="M221.7 213.8l1.8 1.8l-1.8 1.8l-1.8 -1.8z" fill="#0B480B"/><path d="M202.3 234.8l1.7 1.7l-1.7 1.7l-1.7 -1.7z" fill="#0E520E"/><path d="M203.4 233.1l1.7 1.7l-1.7 1.7l-1.7 -1.7z" fill="#3A843A"/><path d="M279.1 224.3l1.2 1.2l-1.2 1.2l-1.2 -1.2z" fill="#1A5E1A"/><path d="M197.3 219.5l1.6 1.6l-1.6 1.6l-1.6 -1.6z" fill="#1E8A1E"/><path d="M269.5 213.0l1.5 1.5l-1.5 1.5l-1.5 -1.5z" fill="#0E520E"/><path d="M201.7 239.4l1.9 1.9l-1.9 1.9l-1.9 -1.9z" fill="#3F8A3F"/><path d="M269.5 223.9l1.3 1.3l-1.3 1.3l-1.3 -1.3z" fill="#0E520E"/><path d="M210.1 216.8l1.9 1.9l-1.9 1.9l-1.9 -1.9z" fill="#1A5E1A"/><path d="M279.1 224.0l1.4 1.4l-1.4 1.4l-1.4 -1.4z" fill="#1A5E1A"/><path d="M264.3 212.6l1.2 1.2l-1.2 1.2l-1.2 -1.2z" fill="#1A5E1A"/><path d="M193.9 213.8l1.1 1.1l-1.1 1.1l-1.1 -1.1z" fill="#0E520E"/><path d="M218.8 235.0l1.9 1.9l-1.9 1.9l-1.9 -1.9z" fill="#0B480B"/><path d="M205.5 214.1l1.5 1.5l-1.5 1.5l-1.5 -1.5z" fill="#0B480B"/><path d="M252.8 236.1l1.5 1.5l-1.5 1.5l-1.5 -1.5z" fill="#0E520E"/><path d="M275.5 213.7l1.4 1.4l-1.4 1.4l-1.4 -1.4z" fill="#2A702A"/><path d="M267.0 228.1l2.0 2.0l-2.0 2.0l-2.0 -2.0z" fill="#347E34"/><path d="M263.2 226.9l1.4 1.4l-1.4 1.4l-1.4 -1.4z" fill="#0E520E"/><path d="M256.0 213.2l1.4 1.4l-1.4 1.4l-1.4 -1.4z" fill="#0E520E"/><path d="M194.4 222.0l1.9 1.9l-1.9 1.9l-1.9 -1.9z" fill="#0E520E"/><path d="M236.5 235.1l1.0 1.0l-1.0 1.0l-1.0 -1.0z" fill="#1A5E1A"/><path d="M190.5 215.1l1.8 1.8l-1.8 1.8l-1.8 -1.8z" fill="#2A702A"/><path d="M207.8 212.7l1.7 1.7l-1.7 1.7l-1.7 -1.7z" fill="#3A843A"/><path d="M243.0 213.6l1.5 1.5l-1.5 1.5l-1.5 -1.5z" fill="#3A843A"/><path d="M209.3 221.6l1.5 1.5l-1.5 1.5l-1.5 -1.5z" fill="#3F8A3F"/><path d="M283.2 222.1l1.1 1.1l-1.1 1.1l-1.1 -1.1z" fill="#2A702A"/><path d="M253.0 238.5l1.8 1.8l-1.8 1.8l-1.8 -1.8z" fill="#0B480B"/><path d="M211.5 241.2l1.0 1.0l-1.0 1.0l-1.0 -1.0z" fill="#3A843A"/><path d="M199.5 235.5l1.7 1.7l-1.7 1.7l-1.7 -1.7z" fill="#2A702A"/><path d="M238.1 233.6l1.2 1.2l-1.2 1.2l-1.2 -1.2z" fill="#2A702A"/><path d="M280.2 222.1l1.7 1.7l-1.7 1.7l-1.7 -1.7z" fill="#0B480B"/><path d="M274.6 227.0l0.9 0.9l-0.9 0.9l-0.9 -0.9z" fill="#3A843A"/><path d="M191.5 234.1l1.9 1.9l-1.9 1.9l-1.9 -1.9z" fill="#3A843A"/><path d="M278.7 234.5l1.8 1.8l-1.8 1.8l-1.8 -1.8z" fill="#1E8A1E"/><path d="M244.6 215.8l1.6 1.6l-1.6 1.6l-1.6 -1.6z" fill="#347E34"/><path d="M258.7 217.8l1.5 1.5l-1.5 1.5l-1.5 -1.5z" fill="#2A702A"/><path d="M266.9 236.4l1.3 1.3l-1.3 1.3l-1.3 -1.3z" fill="#0B480B"/><path d="M256.3 239.8l1.8 1.8l-1.8 1.8l-1.8 -1.8z" fill="#3F8A3F"/><path d="M193.8 219.4l1.2 1.2l-1.2 1.2l-1.2 -1.2z" fill="#0B480B"/><path d="M232.3 215.1l1.1 1.1l-1.1 1.1l-1.1 -1.1z" fill="#3F8A3F"/><path d="M261.8 224.0l1.2 1.2l-1.2 1.2l-1.2 -1.2z" fill="#1E8A1E"/><path d="M200.8 219.9l1.8 1.8l-1.8 1.8l-1.8 -1.8z" fill="#0E520E"/><path d="M247.8 237.5l1.8 1.8l-1.8 1.8l-1.8 -1.8z" fill="#3A843A"/><path d="M256.6 215.2l1.2 1.2l-1.2 1.2l-1.2 -1.2z" fill="#347E34"/><path d="M193.9 236.0l0.9 0.9l-0.9 0.9l-0.9 -0.9z" fill="#0B480B"/><path d="M242.5 214.1l1.7 1.7l-1.7 1.7l-1.7 -1.7z" fill="#1E8A1E"/><path d="M218.4 209.5l1.9 1.9l-1.9 1.9l-1.9 -1.9z" fill="#1A5E1A"/><path d="M209.5 223.3l1.1 1.1l-1.1 1.1l-1.1 -1.1z" fill="#0E520E"/><path d="M206.7 224.9l1.0 1.0l-1.0 1.0l-1.0 -1.0z" fill="#2A702A"/><path d="M222.7 242.3l2.0 2.0l-2.0 2.0l-2.0 -2.0z" fill="#0E520E"/><path d="M212.2 210.1l1.7 1.7l-1.7 1.7l-1.7 -1.7z" fill="#3F8A3F"/><path d="M226.2 217.8l1.4 1.4l-1.4 1.4l-1.4 -1.4z" fill="#0B480B"/><path d="M202.1 232.1l1.3 1.3l-1.3 1.3l-1.3 -1.3z" fill="#1E8A1E"/><path d="M280.8 229.9l1.8 1.8l-1.8 1.8l-1.8 -1.8z" fill="#1A5E1A"/><path d="M264.8 223.1l1.4 1.4l-1.4 1.4l-1.4 -1.4z" fill="#2A702A"/><path d="M243.8 230.0l1.8 1.8l-1.8 1.8l-1.8 -1.8z" fill="#0B480B"/><path d="M205.0 229.9l1.7 1.7l-1.7 1.7l-1.7 -1.7z" fill="#0B480B"/><path d="M222.0 211.7l1.9 1.9l-1.9 1.9l-1.9 -1.9z" fill="#3A843A"/><path d="M191.2 230.5l1.5 1.5l-1.5 1.5l-1.5 -1.5z" fill="#347E34"/><path d="M256.9 237.0l1.4 1.4l-1.4 1.4l-1.4 -1.4z" fill="#0E520E"/><path d="M229.8 222.8l1.7 1.7l-1.7 1.7l-1.7 -1.7z" fill="#347E34"/><path d="M214.4 241.3l1.7 1.7l-1.7 1.7l-1.7 -1.7z" fill="#0E520E"/><path d="M237.4 226.8l0.9 0.9l-0.9 0.9l-0.9 -0.9z" fill="#347E34"/><path d="M194.7 236.7l1.6 1.6l-1.6 1.6l-1.6 -1.6z" fill="#3A843A"/><path d="M260.6 224.0l1.1 1.1l-1.1 1.1l-1.1 -1.1z" fill="#1E8A1E"/><path d="M259.8 213.1l1.2 1.2l-1.2 1.2l-1.2 -1.2z" fill="#2A702A"/><path d="M203.4 219.3l1.6 1.6l-1.6 1.6l-1.6 -1.6z" fill="#0E520E"/><path d="M227.8 238.9l1.0 1.0l-1.0 1.0l-1.0 -1.0z" fill="#2A702A"/><path d="M269.8 232.1l1.2 1.2l-1.2 1.2l-1.2 -1.2z" fill="#1A5E1A"/><path d="M245.9 210.7l1.5 1.5l-1.5 1.5l-1.5 -1.5z" fill="#1A5E1A"/><path d="M230.6 210.1l1.7 1.7l-1.7 1.7l-1.7 -1.7z" fill="#347E34"/><path d="M258.2 238.5l1.5 1.5l-1.5 1.5l-1.5 -1.5z" fill="#0E520E"/><path d="M241.1 229.2l1.9 1.9l-1.9 1.9l-1.9 -1.9z" fill="#0E520E"/><path d="M214.3 234.0l1.7 1.7l-1.7 1.7l-1.7 -1.7z" fill="#0E520E"/><path d="M252.5 232.4l1.2 1.2l-1.2 1.2l-1.2 -1.2z" fill="#347E34"/><path d="M275.7 230.7l1.3 1.3l-1.3 1.3l-1.3 -1.3z" fill="#1E8A1E"/><path d="M205.5 235.0l0.9 0.9l-0.9 0.9l-0.9 -0.9z" fill="#0E520E"/><path d="M239.1 214.7l1.9 1.9l-1.9 1.9l-1.9 -1.9z" fill="#3A843A"/><path d="M257.7 224.0l1.6 1.6l-1.6 1.6l-1.6 -1.6z" fill="#3A843A"/><path d="M234.4 210.1l1.4 1.4l-1.4 1.4l-1.4 -1.4z" fill="#0E520E"/><path d="M247.7 225.8l1.9 1.9l-1.9 1.9l-1.9 -1.9z" fill="#3F8A3F"/><path d="M223.1 227.4l1.3 1.3l-1.3 1.3l-1.3 -1.3z" fill="#3F8A3F"/><path d="M233.4 214.6l1.4 1.4l-1.4 1.4l-1.4 -1.4z" fill="#0E520E"/><path d="M266.5 220.8l1.9 1.9l-1.9 1.9l-1.9 -1.9z" fill="#3F8A3F"/><path d="M266.4 212.4l1.5 1.5l-1.5 1.5l-1.5 -1.5z" fill="#0B480B"/><path d="M197.4 211.3l1.4 1.4l-1.4 1.4l-1.4 -1.4z" fill="#3A843A"/><path d="M237.8 216.6l1.9 1.9l-1.9 1.9l-1.9 -1.9z" fill="#1A5E1A"/><path d="M208.4 233.2l1.7 1.7l-1.7 1.7l-1.7 -1.7z" fill="#2A702A"/><path d="M247.2 212.0l1.1 1.1l-1.1 1.1l-1.1 -1.1z" fill="#2A702A"/><path d="M271.7 224.7l1.3 1.3l-1.3 1.3l-1.3 -1.3z" fill="#3F8A3F"/><path d="M279.0 224.2l1.1 1.1l-1.1 1.1l-1.1 -1.1z" fill="#1E8A1E"/><path d="M229.3 225.3l1.8 1.8l-1.8 1.8l-1.8 -1.8z" fill="#1E8A1E"/><path d="M268.8 215.1l1.4 1.4l-1.4 1.4l-1.4 -1.4z" fill="#0E520E"/><path d="M280.1 215.5l1.1 1.1l-1.1 1.1l-1.1 -1.1z" fill="#3F8A3F"/><path d="M227.5 241.8l1.3 1.3l-1.3 1.3l-1.3 -1.3z" fill="#1A5E1A"/><path d="M240.5 216.2l1.1 1.1l-1.1 1.1l-1.1 -1.1z" fill="#347E34"/><path d="M218.7 224.2l1.7 1.7l-1.7 1.7l-1.7 -1.7z" fill="#0E520E"/><path d="M228.4 236.4l1.9 1.9l-1.9 1.9l-1.9 -1.9z" fill="#1E8A1E"/><path d="M195.4 233.8l1.2 1.2l-1.2 1.2l-1.2 -1.2z" fill="#0B480B"/><path d="M223.2 210.8l1.6 1.6l-1.6 1.6l-1.6 -1.6z" fill="#3A843A"/><path d="M271.6 219.3l1.7 1.7l-1.7 1.7l-1.7 -1.7z" fill="#3A843A"/><path d="M267.4 223.5l1.2 1.2l-1.2 1.2l-1.2 -1.2z" fill="#1E8A1E"/><path d="M217.8 232.4l1.4 1.4l-1.4 1.4l-1.4 -1.4z" fill="#0E520E"/><path d="M270.4 219.3l1.8 1.8l-1.8 1.8l-1.8 -1.8z" fill="#347E34"/><path d="M218.6 218.8l1.4 1.4l-1.4 1.4l-1.4 -1.4z" fill="#1E8A1E"/><path d="M264.4 231.9l1.2 1.2l-1.2 1.2l-1.2 -1.2z" fill="#3A843A"/><path d="M232.6 216.0l1.8 1.8l-1.8 1.8l-1.8 -1.8z" fill="#0E520E"/><path d="M272.7 219.8l1.9 1.9l-1.9 1.9l-1.9 -1.9z" fill="#347E34"/><path d="M236.8 222.7l0.9 0.9l-0.9 0.9l-0.9 -0.9z" fill="#347E34"/><path d="M219.3 238.9l1.7 1.7l-1.7 1.7l-1.7 -1.7z" fill="#2A702A"/><path d="M265.0 226.8l1.9 1.9l-1.9 1.9l-1.9 -1.9z" fill="#1A5E1A"/><path d="M261.5 226.5l1.6 1.6l-1.6 1.6l-1.6 -1.6z" fill="#0E520E"/><path d="M206.5 223.1l1.2 1.2l-1.2 1.2l-1.2 -1.2z" fill="#3A843A"/><path d="M241.7 229.6l1.6 1.6l-1.6 1.6l-1.6 -1.6z" fill="#347E34"/><path d="M205.1 210.5l1.8 1.8l-1.8 1.8l-1.8 -1.8z" fill="#1A5E1A"/><path d="M208.2 217.8l1.2 1.2l-1.2 1.2l-1.2 -1.2z" fill="#1E8A1E"/><path d="M208.6 233.3l1.1 1.1l-1.1 1.1l-1.1 -1.1z" fill="#1A5E1A"/><path d="M273.2 227.5l1.7 1.7l-1.7 1.7l-1.7 -1.7z" fill="#2A702A"/><path d="M247.1 234.0l1.2 1.2l-1.2 1.2l-1.2 -1.2z" fill="#2A702A"/><path d="M219.7 226.2l1.3 1.3l-1.3 1.3l-1.3 -1.3z" fill="#0E520E"/><path d="M234.4 224.1l1.4 1.4l-1.4 1.4l-1.4 -1.4z" fill="#0E520E"/><path d="M226.5 214.9l1.7 1.7l-1.7 1.7l-1.7 -1.7z" fill="#1A5E1A"/><path d="M208.4 214.2l1.2 1.2l-1.2 1.2l-1.2 -1.2z" fill="#3A843A"/><path d="M239.8 208.5l1.6 1.6l-1.6 1.6l-1.6 -1.6z" fill="#1E8A1E"/><path d="M216.4 218.3l1.6 1.6l-1.6 1.6l-1.6 -1.6z" fill="#3A843A"/><path d="M263.8 212.4l1.6 1.6l-1.6 1.6l-1.6 -1.6z" fill="#0E520E"/><path d="M207.1 222.9l1.4 1.4l-1.4 1.4l-1.4 -1.4z" fill="#1A5E1A"/><path d="M216.5 238.3l2.0 2.0l-2.0 2.0l-2.0 -2.0z" fill="#3A843A"/><path d="M203.0 212.2l1.2 1.2l-1.2 1.2l-1.2 -1.2z" fill="#1A5E1A"/><path d="M222.8 229.1l1.1 1.1l-1.1 1.1l-1.1 -1.1z" fill="#2A702A"/><path d="M213.5 223.4l1.4 1.4l-1.4 1.4l-1.4 -1.4z" fill="#0E520E"/><path d="M242.1 212.3l1.5 1.5l-1.5 1.5l-1.5 -1.5z" fill="#0E520E"/><path d="M236.0 243.0l1.4 1.4l-1.4 1.4l-1.4 -1.4z" fill="#0E520E"/><path d="M275.4 234.5l1.3 1.3l-1.3 1.3l-1.3 -1.3z" fill="#1A5E1A"/><path d="M191.6 219.0l1.0 1.0l-1.0 1.0l-1.0 -1.0z" fill="#3F8A3F"/><path d="M224.6 235.4l1.5 1.5l-1.5 1.5l-1.5 -1.5z" fill="#0E520E"/><path d="M240.7 236.6l1.8 1.8l-1.8 1.8l-1.8 -1.8z" fill="#0E520E"/><path d="M262.6 235.0l1.3 1.3l-1.3 1.3l-1.3 -1.3z" fill="#2A702A"/><path d="M215.8 227.1l1.1 1.1l-1.1 1.1l-1.1 -1.1z" fill="#2A702A"/><path d="M192.9 214.1l1.6 1.6l-1.6 1.6l-1.6 -1.6z" fill="#3F8A3F"/><path d="M278.2 231.7l1.7 1.7l-1.7 1.7l-1.7 -1.7z" fill="#2A702A"/><path d="M193.7 220.4l1.6 1.6l-1.6 1.6l-1.6 -1.6z" fill="#1A5E1A"/><path d="M234.1 218.6l1.9 1.9l-1.9 1.9l-1.9 -1.9z" fill="#0E520E"/><path d="M209.7 232.6l1.4 1.4l-1.4 1.4l-1.4 -1.4z" fill="#0E520E"/><path d="M252.9 238.6l1.8 1.8l-1.8 1.8l-1.8 -1.8z" fill="#2A702A"/><path d="M189.2 219.4l1.4 1.4l-1.4 1.4l-1.4 -1.4z" fill="#1A5E1A"/><path d="M227.8 216.2l0.9 0.9l-0.9 0.9l-0.9 -0.9z" fill="#3F8A3F"/><path d="M237.8 218.4l1.1 1.1l-1.1 1.1l-1.1 -1.1z" fill="#347E34"/><path d="M194.4 237.8l1.7 1.7l-1.7 1.7l-1.7 -1.7z" fill="#0B480B"/><path d="M217.0 227.5l1.3 1.3l-1.3 1.3l-1.3 -1.3z" fill="#0B480B"/><path d="M222.3 227.3l1.8 1.8l-1.8 1.8l-1.8 -1.8z" fill="#3F8A3F"/><path d="M217.7 211.5l1.9 1.9l-1.9 1.9l-1.9 -1.9z" fill="#3F8A3F"/><path d="M216.6 215.0l1.8 1.8l-1.8 1.8l-1.8 -1.8z" fill="#1A5E1A"/><path d="M232.0 238.1l2.0 2.0l-2.0 2.0l-2.0 -2.0z" fill="#1E8A1E"/><path d="M202.5 234.3l1.3 1.3l-1.3 1.3l-1.3 -1.3z" fill="#2A702A"/><path d="M225.8 221.1l1.5 1.5l-1.5 1.5l-1.5 -1.5z" fill="#347E34"/><path d="M260.1 213.5l1.3 1.3l-1.3 1.3l-1.3 -1.3z" fill="#0B480B"/><path d="M206.6 213.3l1.0 1.0l-1.0 1.0l-1.0 -1.0z" fill="#0E520E"/><path d="M278.1 220.6l1.4 1.4l-1.4 1.4l-1.4 -1.4z" fill="#2A702A"/><path d="M206.7 225.4l0.9 0.9l-0.9 0.9l-0.9 -0.9z" fill="#3F8A3F"/><path d="M241.3 217.7l1.3 1.3l-1.3 1.3l-1.3 -1.3z" fill="#0B480B"/><path d="M197.8 234.8l0.9 0.9l-0.9 0.9l-0.9 -0.9z" fill="#1A5E1A"/><path d="M251.2 222.9l1.6 1.6l-1.6 1.6l-1.6 -1.6z" fill="#3F8A3F"/><path d="M235.5 219.2l1.0 1.0l-1.0 1.0l-1.0 -1.0z" fill="#3F8A3F"/><path d="M226.2 236.8l1.0 1.0l-1.0 1.0l-1.0 -1.0z" fill="#1A5E1A"/><path d="M247.2 213.5l1.2 1.2l-1.2 1.2l-1.2 -1.2z" fill="#1A5E1A"/><path d="M272.7 220.3l1.8 1.8l-1.8 1.8l-1.8 -1.8z" fill="#0E520E"/><path d="M245.0 212.4l1.2 1.2l-1.2 1.2l-1.2 -1.2z" fill="#0E520E"/><path d="M225.8 214.1l1.9 1.9l-1.9 1.9l-1.9 -1.9z" fill="#347E34"/><path d="M270.6 236.5l1.9 1.9l-1.9 1.9l-1.9 -1.9z" fill="#3F8A3F"/><path d="M222.5 210.2l1.9 1.9l-1.9 1.9l-1.9 -1.9z" fill="#3A843A"/><path d="M268.5 219.0l1.2 1.2l-1.2 1.2l-1.2 -1.2z" fill="#2A702A"/><path d="M271.8 220.0l1.1 1.1l-1.1 1.1l-1.1 -1.1z" fill="#0E520E"/><path d="M212.9 234.1l1.6 1.6l-1.6 1.6l-1.6 -1.6z" fill="#3F8A3F"/><path d="M205.0 213.3l1.4 1.4l-1.4 1.4l-1.4 -1.4z" fill="#1A5E1A"/><path d="M228.4 209.6l1.0 1.0l-1.0 1.0l-1.0 -1.0z" fill="#3F8A3F"/><path d="M268.8 225.2l0.9 0.9l-0.9 0.9l-0.9 -0.9z" fill="#0E520E"/><path d="M263.6 228.8l1.7 1.7l-1.7 1.7l-1.7 -1.7z" fill="#2A702A"/><path d="M261.2 212.7l1.4 1.4l-1.4 1.4l-1.4 -1.4z" fill="#3F8A3F"/><path d="M209.4 225.5l1.1 1.1l-1.1 1.1l-1.1 -1.1z" fill="#347E34"/><path d="M275.3 238.2l1.6 1.6l-1.6 1.6l-1.6 -1.6z" fill="#347E34"/><path d="M253.6 223.3l1.2 1.2l-1.2 1.2l-1.2 -1.2z" fill="#0B480B"/><path d="M249.7 232.4l1.8 1.8l-1.8 1.8l-1.8 -1.8z" fill="#3F8A3F"/><path d="M282.3 232.4l1.9 1.9l-1.9 1.9l-1.9 -1.9z" fill="#1E8A1E"/><path d="M230.1 236.1l1.0 1.0l-1.0 1.0l-1.0 -1.0z" fill="#0E520E"/><path d="M267.6 212.0l1.1 1.1l-1.1 1.1l-1.1 -1.1z" fill="#3A843A"/><path d="M243.8 225.6l1.6 1.6l-1.6 1.6l-1.6 -1.6z" fill="#0B480B"/><path d="M199.8 236.3l1.3 1.3l-1.3 1.3l-1.3 -1.3z" fill="#3F8A3F"/><path d="M200.3 214.8l1.9 1.9l-1.9 1.9l-1.9 -1.9z" fill="#347E34"/><path d="M215.0 220.2l1.3 1.3l-1.3 1.3l-1.3 -1.3z" fill="#0E520E"/><path d="M193.7 218.9l1.1 1.1l-1.1 1.1l-1.1 -1.1z" fill="#0B480B"/><path d="M268.1 230.8l1.0 1.0l-1.0 1.0l-1.0 -1.0z" fill="#2A702A"/><path d="M273.0 231.2l1.2 1.2l-1.2 1.2l-1.2 -1.2z" fill="#1E8A1E"/><path d="M235.7 242.3l0.9 0.9l-0.9 0.9l-0.9 -0.9z" fill="#1A5E1A"/><path d="M210.0 209.9l1.9 1.9l-1.9 1.9l-1.9 -1.9z" fill="#0E520E"/><path d="M216.8 239.1l1.3 1.3l-1.3 1.3l-1.3 -1.3z" fill="#1A5E1A"/><path d="M266.1 222.8l1.4 1.4l-1.4 1.4l-1.4 -1.4z" fill="#1E8A1E"/><path d="M232.6 228.0l1.4 1.4l-1.4 1.4l-1.4 -1.4z" fill="#3A843A"/><path d="M211.9 211.2l1.0 1.0l-1.0 1.0l-1.0 -1.0z" fill="#0E520E"/><path d="M251.2 240.1l1.9 1.9l-1.9 1.9l-1.9 -1.9z" fill="#347E34"/><path d="M242.7 230.0l1.9 1.9l-1.9 1.9l-1.9 -1.9z" fill="#1E8A1E"/><path d="M249.2 214.7l1.6 1.6l-1.6 1.6l-1.6 -1.6z" fill="#1A5E1A"/><path d="M217.1 236.3l1.5 1.5l-1.5 1.5l-1.5 -1.5z" fill="#347E34"/><path d="M279.7 234.2l1.6 1.6l-1.6 1.6l-1.6 -1.6z" fill="#1E8A1E"/><path d="M204.4 236.6l1.8 1.8l-1.8 1.8l-1.8 -1.8z" fill="#0B480B"/><path d="M208.4 210.9l1.0 1.0l-1.0 1.0l-1.0 -1.0z" fill="#3A843A"/><path d="M205.5 214.3l1.1 1.1l-1.1 1.1l-1.1 -1.1z" fill="#1E8A1E"/><path d="M217.0 213.4l1.8 1.8l-1.8 1.8l-1.8 -1.8z" fill="#3A843A"/><path d="M193.4 226.5l1.5 1.5l-1.5 1.5l-1.5 -1.5z" fill="#3F8A3F"/><path d="M218.0 218.4l1.8 1.8l-1.8 1.8l-1.8 -1.8z" fill="#347E34"/><path d="M249.6 241.7l0.9 0.9l-0.9 0.9l-0.9 -0.9z" fill="#1A5E1A"/><path d="M273.1 232.5l1.2 1.2l-1.2 1.2l-1.2 -1.2z" fill="#0E520E"/><path d="M235.0 220.0l1.1 1.1l-1.1 1.1l-1.1 -1.1z" fill="#3F8A3F"/><path d="M251.7 222.3l1.7 1.7l-1.7 1.7l-1.7 -1.7z" fill="#1E8A1E"/><path d="M229.1 238.0l2.0 2.0l-2.0 2.0l-2.0 -2.0z" fill="#0E520E"/><path d="M272.4 222.8l1.9 1.9l-1.9 1.9l-1.9 -1.9z" fill="#3A843A"/><path d="M237.9 231.1l1.0 1.0l-1.0 1.0l-1.0 -1.0z" fill="#0B480B"/><path d="M276.4 233.1l1.8 1.8l-1.8 1.8l-1.8 -1.8z" fill="#2A702A"/><path d="M194.5 213.1l1.0 1.0l-1.0 1.0l-1.0 -1.0z" fill="#2A702A"/><path d="M258.8 239.1l1.6 1.6l-1.6 1.6l-1.6 -1.6z" fill="#3F8A3F"/><path d="M255.6 237.8l1.9 1.9l-1.9 1.9l-1.9 -1.9z" fill="#3F8A3F"/><path d="M226.2 226.0l1.0 1.0l-1.0 1.0l-1.0 -1.0z" fill="#0B480B"/><path d="M231.1 221.1l1.0 1.0l-1.0 1.0l-1.0 -1.0z" fill="#0B480B"/><path d="M199.4 215.1l1.4 1.4l-1.4 1.4l-1.4 -1.4z" fill="#0E520E"/><path d="M254.1 217.4l1.8 1.8l-1.8 1.8l-1.8 -1.8z" fill="#3F8A3F"/><path d="M250.5 231.5l1.8 1.8l-1.8 1.8l-1.8 -1.8z" fill="#3F8A3F"/><path d="M218.9 244.0l1.0 1.0l-1.0 1.0l-1.0 -1.0z" fill="#3A843A"/><path d="M274.8 220.7l1.6 1.6l-1.6 1.6l-1.6 -1.6z" fill="#2A702A"/><path d="M273.3 223.9l1.5 1.5l-1.5 1.5l-1.5 -1.5z" fill="#0E520E"/><path d="M222.2 212.7l1.4 1.4l-1.4 1.4l-1.4 -1.4z" fill="#1A5E1A"/><path d="M226.1 238.4l1.2 1.2l-1.2 1.2l-1.2 -1.2z" fill="#2A702A"/><path d="M239.3 235.4l2.0 2.0l-2.0 2.0l-2.0 -2.0z" fill="#3F8A3F"/><path d="M237.7 222.7l1.4 1.4l-1.4 1.4l-1.4 -1.4z" fill="#1E8A1E"/><path d="M240.1 238.5l1.1 1.1l-1.1 1.1l-1.1 -1.1z" fill="#1A5E1A"/><path d="M196.0 225.7l1.7 1.7l-1.7 1.7l-1.7 -1.7z" fill="#3F8A3F"/><path d="M257.6 221.2l1.5 1.5l-1.5 1.5l-1.5 -1.5z" fill="#347E34"/><path d="M235.5 234.8l1.6 1.6l-1.6 1.6l-1.6 -1.6z" fill="#1A5E1A"/><path d="M240.9 225.1l1.8 1.8l-1.8 1.8l-1.8 -1.8z" fill="#0E520E"/><path d="M252.6 236.8l1.6 1.6l-1.6 1.6l-1.6 -1.6z" fill="#0E520E"/><path d="M191.7 223.0l1.3 1.3l-1.3 1.3l-1.3 -1.3z" fill="#0E520E"/><path d="M189.6 232.9l1.8 1.8l-1.8 1.8l-1.8 -1.8z" fill="#1A5E1A"/><path d="M240.4 234.2l1.3 1.3l-1.3 1.3l-1.3 -1.3z" fill="#347E34"/><path d="M257.5 227.3l0.9 0.9l-0.9 0.9l-0.9 -0.9z" fill="#1E8A1E"/><path d="M257.5 228.0l1.4 1.4l-1.4 1.4l-1.4 -1.4z" fill="#1A5E1A"/><path d="M217.4 242.1l1.2 1.2l-1.2 1.2l-1.2 -1.2z" fill="#0E520E"/><path d="M239.3 211.4l1.1 1.1l-1.1 1.1l-1.1 -1.1z" fill="#3A843A"/><path d="M207.2 240.1l1.2 1.2l-1.2 1.2l-1.2 -1.2z" fill="#3F8A3F"/><path d="M275.8 225.7l1.4 1.4l-1.4 1.4l-1.4 -1.4z" fill="#347E34"/><path d="M208.7 221.2l1.2 1.2l-1.2 1.2l-1.2 -1.2z" fill="#2A702A"/><path d="M255.8 220.1l1.9 1.9l-1.9 1.9l-1.9 -1.9z" fill="#1E8A1E"/><path d="M237.8 236.4l1.0 1.0l-1.0 1.0l-1.0 -1.0z" fill="#0E520E"/><path d="M243.9 239.6l1.7 1.7l-1.7 1.7l-1.7 -1.7z" fill="#347E34"/><path d="M279.3 223.7l1.4 1.4l-1.4 1.4l-1.4 -1.4z" fill="#3A843A"/><path d="M199.0 215.3l1.9 1.9l-1.9 1.9l-1.9 -1.9z" fill="#1A5E1A"/><path d="M250.3 236.4l1.1 1.1l-1.1 1.1l-1.1 -1.1z" fill="#2A702A"/><path d="M215.8 209.8l1.4 1.4l-1.4 1.4l-1.4 -1.4z" fill="#3F8A3F"/><path d="M202.9 221.6l1.6 1.6l-1.6 1.6l-1.6 -1.6z" fill="#2A702A"/><path d="M263.1 226.3l1.3 1.3l-1.3 1.3l-1.3 -1.3z" fill="#3F8A3F"/><path d="M277.4 220.4l1.8 1.8l-1.8 1.8l-1.8 -1.8z" fill="#0E520E"/><path d="M266.3 221.8l1.5 1.5l-1.5 1.5l-1.5 -1.5z" fill="#347E34"/><path d="M255.6 219.9l1.3 1.3l-1.3 1.3l-1.3 -1.3z" fill="#0B480B"/><path d="M257.8 232.6l1.7 1.7l-1.7 1.7l-1.7 -1.7z" fill="#2A702A"/><path d="M224.5 216.4l1.4 1.4l-1.4 1.4l-1.4 -1.4z" fill="#3A843A"/><path d="M283.7 228.2l1.7 1.7l-1.7 1.7l-1.7 -1.7z" fill="#1A5E1A"/><path d="M214.7 236.6l1.9 1.9l-1.9 1.9l-1.9 -1.9z" fill="#2A702A"/><path d="M273.3 221.2l1.1 1.1l-1.1 1.1l-1.1 -1.1z" fill="#3A843A"/><path d="M246.1 229.3l1.1 1.1l-1.1 1.1l-1.1 -1.1z" fill="#347E34"/><path d="M268.0 224.0l1.0 1.0l-1.0 1.0l-1.0 -1.0z" fill="#347E34"/><path d="M239.2 223.6l1.6 1.6l-1.6 1.6l-1.6 -1.6z" fill="#3F8A3F"/><path d="M213.7 220.3l1.6 1.6l-1.6 1.6l-1.6 -1.6z" fill="#0E520E"/><path d="M259.2 215.9l1.3 1.3l-1.3 1.3l-1.3 -1.3z" fill="#3A843A"/><path d="M263.2 230.8l1.1 1.1l-1.1 1.1l-1.1 -1.1z" fill="#0E520E"/><path d="M219.9 233.4l0.9 0.9l-0.9 0.9l-0.9 -0.9z" fill="#2A702A"/><path d="M279.1 235.6l1.3 1.3l-1.3 1.3l-1.3 -1.3z" fill="#3F8A3F"/><path d="M194.6 238.6l1.0 1.0l-1.0 1.0l-1.0 -1.0z" fill="#0B480B"/><path d="M246.0 237.5l1.0 1.0l-1.0 1.0l-1.0 -1.0z" fill="#0E520E"/><path d="M283.2 226.1l1.6 1.6l-1.6 1.6l-1.6 -1.6z" fill="#3A843A"/><path d="M202.7 209.7l1.9 1.9l-1.9 1.9l-1.9 -1.9z" fill="#0E520E"/><path d="M211.4 225.6l1.8 1.8l-1.8 1.8l-1.8 -1.8z" fill="#1E8A1E"/><path d="M267.6 227.2l2.0 2.0l-2.0 2.0l-2.0 -2.0z" fill="#3A843A"/><path d="M280.4 215.3l1.9 1.9l-1.9 1.9l-1.9 -1.9z" fill="#0B480B"/><path d="M241.0 214.3l1.3 1.3l-1.3 1.3l-1.3 -1.3z" fill="#0B480B"/><path d="M220.7 239.0l1.9 1.9l-1.9 1.9l-1.9 -1.9z" fill="#1A5E1A"/><path d="M210.1 221.6l0.9 0.9l-0.9 0.9l-0.9 -0.9z" fill="#0E520E"/><path d="M189.1 219.3l1.0 1.0l-1.0 1.0l-1.0 -1.0z" fill="#2A702A"/><path d="M217.8 210.0l1.1 1.1l-1.1 1.1l-1.1 -1.1z" fill="#2A702A"/><path d="M254.0 220.1l1.6 1.6l-1.6 1.6l-1.6 -1.6z" fill="#0E520E"/><path d="M221.3 221.0l1.2 1.2l-1.2 1.2l-1.2 -1.2z" fill="#0E520E"/><path d="M271.4 220.1l1.0 1.0l-1.0 1.0l-1.0 -1.0z" fill="#1A5E1A"/><path d="M253.8 232.3l1.2 1.2l-1.2 1.2l-1.2 -1.2z" fill="#0E520E"/><path d="M283.8 227.6l1.0 1.0l-1.0 1.0l-1.0 -1.0z" fill="#347E34"/><path d="M219.4 232.1l1.9 1.9l-1.9 1.9l-1.9 -1.9z" fill="#3A843A"/><path d="M241.9 239.0l1.6 1.6l-1.6 1.6l-1.6 -1.6z" fill="#0E520E"/><path d="M245.2 225.7l1.4 1.4l-1.4 1.4l-1.4 -1.4z" fill="#1A5E1A"/><path d="M192.5 229.7l1.9 1.9l-1.9 1.9l-1.9 -1.9z" fill="#3F8A3F"/><path d="M253.4 211.3l1.4 1.4l-1.4 1.4l-1.4 -1.4z" fill="#1E8A1E"/><path d="M216.3 224.9l1.6 1.6l-1.6 1.6l-1.6 -1.6z" fill="#0E520E"/><path d="M211.5 209.2l1.8 1.8l-1.8 1.8l-1.8 -1.8z" fill="#0E520E"/><path d="M214.5 224.8l1.5 1.5l-1.5 1.5l-1.5 -1.5z" fill="#1E8A1E"/><path d="M205.8 234.6l1.8 1.8l-1.8 1.8l-1.8 -1.8z" fill="#2A702A"/><path d="M198.4 232.6l1.4 1.4l-1.4 1.4l-1.4 -1.4z" fill="#1A5E1A"/><path d="M215.3 221.1l1.6 1.6l-1.6 1.6l-1.6 -1.6z" fill="#347E34"/><path d="M216.0 230.3l1.5 1.5l-1.5 1.5l-1.5 -1.5z" fill="#1A5E1A"/><path d="M203.9 221.8l1.0 1.0l-1.0 1.0l-1.0 -1.0z" fill="#1E8A1E"/><path d="M239.1 213.3l1.2 1.2l-1.2 1.2l-1.2 -1.2z" fill="#0E520E"/><path d="M247.7 211.0l1.0 1.0l-1.0 1.0l-1.0 -1.0z" fill="#347E34"/><path d="M225.2 227.6l1.2 1.2l-1.2 1.2l-1.2 -1.2z" fill="#0E520E"/><path d="M253.1 211.6l1.2 1.2l-1.2 1.2l-1.2 -1.2z" fill="#1E8A1E"/><path d="M216.0 216.9l1.9 1.9l-1.9 1.9l-1.9 -1.9z" fill="#0E520E"/><path d="M277.3 229.2l1.0 1.0l-1.0 1.0l-1.0 -1.0z" fill="#2A702A"/><path d="M217.0 240.3l1.5 1.5l-1.5 1.5l-1.5 -1.5z" fill="#3F8A3F"/><path d="M279.0 219.3l1.6 1.6l-1.6 1.6l-1.6 -1.6z" fill="#1A5E1A"/><path d="M203.7 239.6l2.0 2.0l-2.0 2.0l-2.0 -2.0z" fill="#0E520E"/><path d="M249.9 227.7l1.9 1.9l-1.9 1.9l-1.9 -1.9z" fill="#347E34"/><path d="M209.7 240.5l1.0 1.0l-1.0 1.0l-1.0 -1.0z" fill="#347E34"/><path d="M223.9 233.0l1.7 1.7l-1.7 1.7l-1.7 -1.7z" fill="#1E8A1E"/><path d="M223.7 236.9l1.6 1.6l-1.6 1.6l-1.6 -1.6z" fill="#0B480B"/><path d="M234.9 219.2l1.6 1.6l-1.6 1.6l-1.6 -1.6z" fill="#347E34"/><path d="M194.1 212.8l2.0 2.0l-2.0 2.0l-2.0 -2.0z" fill="#347E34"/><path d="M214.1 243.7l1.1 1.1l-1.1 1.1l-1.1 -1.1z" fill="#0E520E"/><path d="M205.8 213.0l1.2 1.2l-1.2 1.2l-1.2 -1.2z" fill="#347E34"/><path d="M204.2 217.2l1.3 1.3l-1.3 1.3l-1.3 -1.3z" fill="#1A5E1A"/><path d="M201.1 219.7l1.8 1.8l-1.8 1.8l-1.8 -1.8z" fill="#347E34"/><path d="M255.7 210.7l1.2 1.2l-1.2 1.2l-1.2 -1.2z" fill="#0E520E"/><path d="M223.6 242.3l1.4 1.4l-1.4 1.4l-1.4 -1.4z" fill="#1E8A1E"/><path d="M237.9 216.1l0.9 0.9l-0.9 0.9l-0.9 -0.9z" fill="#0B480B"/><path d="M232.2 222.7l1.8 1.8l-1.8 1.8l-1.8 -1.8z" fill="#0E520E"/><path d="M257.1 225.6l0.9 0.9l-0.9 0.9l-0.9 -0.9z" fill="#3A843A"/><path d="M273.0 215.8l1.4 1.4l-1.4 1.4l-1.4 -1.4z" fill="#347E34"/><path d="M239.2 227.8l1.6 1.6l-1.6 1.6l-1.6 -1.6z" fill="#347E34"/><path d="M272.7 215.2l2.0 2.0l-2.0 2.0l-2.0 -2.0z" fill="#2A702A"/><path d="M229.6 239.0l1.7 1.7l-1.7 1.7l-1.7 -1.7z" fill="#347E34"/><path d="M253.2 214.3l1.9 1.9l-1.9 1.9l-1.9 -1.9z" fill="#3A843A"/><path d="M195.6 219.6l1.0 1.0l-1.0 1.0l-1.0 -1.0z" fill="#3F8A3F"/><path d="M214.5 238.5l1.8 1.8l-1.8 1.8l-1.8 -1.8z" fill="#3F8A3F"/><path d="M268.6 213.5l1.5 1.5l-1.5 1.5l-1.5 -1.5z" fill="#0E520E"/><path d="M231.2 229.9l1.3 1.3l-1.3 1.3l-1.3 -1.3z" fill="#0E520E"/><path d="M194.1 234.7l1.4 1.4l-1.4 1.4l-1.4 -1.4z" fill="#3A843A"/><path d="M277.8 223.5l1.0 1.0l-1.0 1.0l-1.0 -1.0z" fill="#0B480B"/><path d="M241.0 210.8l1.2 1.2l-1.2 1.2l-1.2 -1.2z" fill="#0B480B"/><path d="M256.7 225.6l0.9 0.9l-0.9 0.9l-0.9 -0.9z" fill="#0B480B"/><path d="M219.0 218.0l1.5 1.5l-1.5 1.5l-1.5 -1.5z" fill="#3A843A"/><path d="M239.9 233.1l1.7 1.7l-1.7 1.7l-1.7 -1.7z" fill="#0E520E"/><path d="M247.1 232.0l1.0 1.0l-1.0 1.0l-1.0 -1.0z" fill="#1E8A1E"/><path d="M191.6 219.0l1.6 1.6l-1.6 1.6l-1.6 -1.6z" fill="#347E34"/><path d="M189.7 232.0l1.7 1.7l-1.7 1.7l-1.7 -1.7z" fill="#347E34"/><path d="M269.1 229.0l1.5 1.5l-1.5 1.5l-1.5 -1.5z" fill="#0E520E"/><path d="M222.9 237.2l1.8 1.8l-1.8 1.8l-1.8 -1.8z" fill="#0B480B"/><path d="M239.7 237.1l1.4 1.4l-1.4 1.4l-1.4 -1.4z" fill="#1A5E1A"/><path d="M266.6 236.8l1.9 1.9l-1.9 1.9l-1.9 -1.9z" fill="#3F8A3F"/><path d="M277.9 219.4l1.1 1.1l-1.1 1.1l-1.1 -1.1z" fill="#0E520E"/><path d="M256.9 222.0l1.9 1.9l-1.9 1.9l-1.9 -1.9z" fill="#3A843A"/><path d="M227.7 226.4l1.2 1.2l-1.2 1.2l-1.2 -1.2z" fill="#0E520E"/><path d="M235.9 210.5l2.0 2.0l-2.0 2.0l-2.0 -2.0z" fill="#3A843A"/><path d="M212.5 236.2l1.2 1.2l-1.2 1.2l-1.2 -1.2z" fill="#3A843A"/><path d="M188.9 220.3l1.0 1.0l-1.0 1.0l-1.0 -1.0z" fill="#347E34"/><path d="M211.2 209.2l1.8 1.8l-1.8 1.8l-1.8 -1.8z" fill="#1E8A1E"/><path d="M272.9 226.8l1.1 1.1l-1.1 1.1l-1.1 -1.1z" fill="#1E8A1E"/><path d="M230.5 213.3l1.7 1.7l-1.7 1.7l-1.7 -1.7z" fill="#1A5E1A"/><path d="M251.2 224.1l1.8 1.8l-1.8 1.8l-1.8 -1.8z" fill="#2A702A"/><path d="M253.5 213.9l1.3 1.3l-1.3 1.3l-1.3 -1.3z" fill="#3F8A3F"/><path d="M255.6 224.6l1.8 1.8l-1.8 1.8l-1.8 -1.8z" fill="#3A843A"/><path d="M236.3 222.7l1.5 1.5l-1.5 1.5l-1.5 -1.5z" fill="#3F8A3F"/><path d="M250.4 236.3l2.0 2.0l-2.0 2.0l-2.0 -2.0z" fill="#2A702A"/><path d="M248.8 238.5l1.4 1.4l-1.4 1.4l-1.4 -1.4z" fill="#1E8A1E"/><path d="M232.4 221.9l1.1 1.1l-1.1 1.1l-1.1 -1.1z" fill="#0B480B"/><path d="M215.3 216.2l1.7 1.7l-1.7 1.7l-1.7 -1.7z" fill="#2A702A"/><path d="M247.8 222.6l1.3 1.3l-1.3 1.3l-1.3 -1.3z" fill="#2A702A"/><path d="M202.9 210.9l1.0 1.0l-1.0 1.0l-1.0 -1.0z" fill="#3A843A"/><path d="M215.0 226.5l1.4 1.4l-1.4 1.4l-1.4 -1.4z" fill="#347E34"/><path d="M255.5 240.0l1.5 1.5l-1.5 1.5l-1.5 -1.5z" fill="#3F8A3F"/><path d="M216.9 243.2l1.1 1.1l-1.1 1.1l-1.1 -1.1z" fill="#3A843A"/><path d="M249.4 214.7l1.5 1.5l-1.5 1.5l-1.5 -1.5z" fill="#1E8A1E"/><path d="M274.0 212.8l1.7 1.7l-1.7 1.7l-1.7 -1.7z" fill="#2A702A"/><path d="M224.4 226.5l1.3 1.3l-1.3 1.3l-1.3 -1.3z" fill="#1E8A1E"/><path d="M278.0 226.1l1.6 1.6l-1.6 1.6l-1.6 -1.6z" fill="#3A843A"/><path d="M239.8 224.2l1.2 1.2l-1.2 1.2l-1.2 -1.2z" fill="#1A5E1A"/><path d="M218.7 238.2l1.4 1.4l-1.4 1.4l-1.4 -1.4z" fill="#347E34"/><path d="M232.4 232.3l1.9 1.9l-1.9 1.9l-1.9 -1.9z" fill="#0E520E"/><path d="M209.6 238.7l1.8 1.8l-1.8 1.8l-1.8 -1.8z" fill="#3A843A"/><path d="M210.2 213.2l2.0 2.0l-2.0 2.0l-2.0 -2.0z" fill="#1A5E1A"/><path d="M213.6 210.2l1.1 1.1l-1.1 1.1l-1.1 -1.1z" fill="#3A843A"/><path d="M223.2 228.4l1.8 1.8l-1.8 1.8l-1.8 -1.8z" fill="#2A702A"/><path d="M279.3 222.8l1.8 1.8l-1.8 1.8l-1.8 -1.8z" fill="#0E520E"/><path d="M205.4 215.6l1.1 1.1l-1.1 1.1l-1.1 -1.1z" fill="#0E520E"/><path d="M207.7 219.8l1.1 1.1l-1.1 1.1l-1.1 -1.1z" fill="#0B480B"/><path d="M210.5 215.9l1.6 1.6l-1.6 1.6l-1.6 -1.6z" fill="#3F8A3F"/><path d="M215.2 211.7l1.9 1.9l-1.9 1.9l-1.9 -1.9z" fill="#1E8A1E"/><path d="M226.0 243.6l1.6 1.6l-1.6 1.6l-1.6 -1.6z" fill="#3F8A3F"/><path d="M207.0 211.9l1.8 1.8l-1.8 1.8l-1.8 -1.8z" fill="#1E8A1E"/><path d="M215.1 209.5l1.6 1.6l-1.6 1.6l-1.6 -1.6z" fill="#0B480B"/><path d="M261.7 217.8l1.7 1.7l-1.7 1.7l-1.7 -1.7z" fill="#3F8A3F"/><path d="M244.8 209.5l1.9 1.9l-1.9 1.9l-1.9 -1.9z" fill="#2A702A"/><path d="M218.8 233.7l1.6 1.6l-1.6 1.6l-1.6 -1.6z" fill="#0E520E"/><path d="M224.5 240.4l1.0 1.0l-1.0 1.0l-1.0 -1.0z" fill="#0B480B"/><path d="M216.1 242.0l1.1 1.1l-1.1 1.1l-1.1 -1.1z" fill="#0B480B"/><path d="M228.8 239.2l1.2 1.2l-1.2 1.2l-1.2 -1.2z" fill="#1A5E1A"/><path d="M216.0 215.7l1.7 1.7l-1.7 1.7l-1.7 -1.7z" fill="#347E34"/><path d="M238.0 222.9l1.9 1.9l-1.9 1.9l-1.9 -1.9z" fill="#0B480B"/><path d="M252.7 211.7l2.0 2.0l-2.0 2.0l-2.0 -2.0z" fill="#1E8A1E"/><path d="M252.9 238.1l1.5 1.5l-1.5 1.5l-1.5 -1.5z" fill="#1E8A1E"/><path d="M231.1 227.5l1.3 1.3l-1.3 1.3l-1.3 -1.3z" fill="#3F8A3F"/><path d="M237.9 241.5l1.7 1.7l-1.7 1.7l-1.7 -1.7z" fill="#0E520E"/><path d="M206.2 236.8l1.0 1.0l-1.0 1.0l-1.0 -1.0z" fill="#0E520E"/><path d="M203.0 222.2l1.6 1.6l-1.6 1.6l-1.6 -1.6z" fill="#1A5E1A"/><path d="M201.1 229.2l1.5 1.5l-1.5 1.5l-1.5 -1.5z" fill="#0B480B"/><path d="M280.0 219.4l1.9 1.9l-1.9 1.9l-1.9 -1.9z" fill="#347E34"/><path d="M214.4 238.9l1.6 1.6l-1.6 1.6l-1.6 -1.6z" fill="#0E520E"/><path d="M249.9 223.2l1.0 1.0l-1.0 1.0l-1.0 -1.0z" fill="#0E520E"/><path d="M231.4 224.5l1.6 1.6l-1.6 1.6l-1.6 -1.6z" fill="#0E520E"/><path d="M192.1 225.1l1.9 1.9l-1.9 1.9l-1.9 -1.9z" fill="#0B480B"/><path d="M272.1 224.0l1.5 1.5l-1.5 1.5l-1.5 -1.5z" fill="#3F8A3F"/><path d="M210.6 228.1l1.5 1.5l-1.5 1.5l-1.5 -1.5z" fill="#0E520E"/><path d="M241.3 217.1l1.7 1.7l-1.7 1.7l-1.7 -1.7z" fill="#0B480B"/><path d="M245.2 228.3l1.0 1.0l-1.0 1.0l-1.0 -1.0z" fill="#3A843A"/><path d="M264.5 221.3l1.6 1.6l-1.6 1.6l-1.6 -1.6z" fill="#0E520E"/><path d="M272.1 228.1l1.0 1.0l-1.0 1.0l-1.0 -1.0z" fill="#2A702A"/><path d="M231.5 214.5l1.9 1.9l-1.9 1.9l-1.9 -1.9z" fill="#1E8A1E"/><path d="M233.1 214.4l1.8 1.8l-1.8 1.8l-1.8 -1.8z" fill="#2A702A"/><path d="M252.4 216.4l1.6 1.6l-1.6 1.6l-1.6 -1.6z" fill="#2A702A"/><path d="M205.2 236.3l1.4 1.4l-1.4 1.4l-1.4 -1.4z" fill="#0E520E"/><path d="M267.0 211.1l1.2 1.2l-1.2 1.2l-1.2 -1.2z" fill="#3F8A3F"/><path d="M232.2 240.8l1.0 1.0l-1.0 1.0l-1.0 -1.0z" fill="#0B480B"/><path d="M205.5 226.8l1.5 1.5l-1.5 1.5l-1.5 -1.5z" fill="#3A843A"/><path d="M235.4 212.6l1.7 1.7l-1.7 1.7l-1.7 -1.7z" fill="#0B480B"/><path d="M261.4 232.0l1.9 1.9l-1.9 1.9l-1.9 -1.9z" fill="#3F8A3F"/><path d="M224.7 222.0l1.2 1.2l-1.2 1.2l-1.2 -1.2z" fill="#0B480B"/><path d="M266.9 211.4l1.9 1.9l-1.9 1.9l-1.9 -1.9z" fill="#347E34"/><path d="M280.7 227.1l1.4 1.4l-1.4 1.4l-1.4 -1.4z" fill="#1E8A1E"/><path d="M229.8 237.4l2.0 2.0l-2.0 2.0l-2.0 -2.0z" fill="#0B480B"/><path d="M205.5 236.7l1.8 1.8l-1.8 1.8l-1.8 -1.8z" fill="#0E520E"/><path d="M226.4 223.6l0.9 0.9l-0.9 0.9l-0.9 -0.9z" fill="#3F8A3F"/><path d="M213.0 227.5l1.5 1.5l-1.5 1.5l-1.5 -1.5z" fill="#3F8A3F"/><path d="M257.6 237.4l1.3 1.3l-1.3 1.3l-1.3 -1.3z" fill="#347E34"/><path d="M214.5 215.4l1.4 1.4l-1.4 1.4l-1.4 -1.4z" fill="#0E520E"/><path d="M202.5 232.0l1.0 1.0l-1.0 1.0l-1.0 -1.0z" fill="#0B480B"/><path d="M252.5 210.6l1.8 1.8l-1.8 1.8l-1.8 -1.8z" fill="#3F8A3F"/><path d="M270.1 229.5l2.0 2.0l-2.0 2.0l-2.0 -2.0z" fill="#0E520E"/><path d="M221.4 224.1l1.1 1.1l-1.1 1.1l-1.1 -1.1z" fill="#347E34"/><path d="M243.3 223.0l2.0 2.0l-2.0 2.0l-2.0 -2.0z" fill="#3F8A3F"/><path d="M204.7 232.5l1.8 1.8l-1.8 1.8l-1.8 -1.8z" fill="#1E8A1E"/><path d="M271.2 235.3l1.7 1.7l-1.7 1.7l-1.7 -1.7z" fill="#0E520E"/><path d="M241.1 232.6l1.9 1.9l-1.9 1.9l-1.9 -1.9z" fill="#0E520E"/><path d="M245.6 224.2l1.0 1.0l-1.0 1.0l-1.0 -1.0z" fill="#347E34"/><path d="M229.7 243.4l1.5 1.5l-1.5 1.5l-1.5 -1.5z" fill="#1A5E1A"/><path d="M210.0 217.0l1.7 1.7l-1.7 1.7l-1.7 -1.7z" fill="#0E520E"/><path d="M189.1 219.3l1.8 1.8l-1.8 1.8l-1.8 -1.8z" fill="#0B480B"/><path d="M268.1 214.8l0.9 0.9l-0.9 0.9l-0.9 -0.9z" fill="#3F8A3F"/><path d="M281.9 226.2l1.5 1.5l-1.5 1.5l-1.5 -1.5z" fill="#0B480B"/><path d="M252.7 236.4l1.3 1.3l-1.3 1.3l-1.3 -1.3z" fill="#0B480B"/><path d="M239.7 236.6l1.3 1.3l-1.3 1.3l-1.3 -1.3z" fill="#0E520E"/><path d="M242.1 219.7l1.9 1.9l-1.9 1.9l-1.9 -1.9z" fill="#0E520E"/><path d="M190.8 234.7l1.5 1.5l-1.5 1.5l-1.5 -1.5z" fill="#1A5E1A"/><path d="M250.5 215.2l2.0 2.0l-2.0 2.0l-2.0 -2.0z" fill="#0E520E"/><path d="M234.1 234.3l1.0 1.0l-1.0 1.0l-1.0 -1.0z" fill="#0E520E"/><path d="M215.3 241.6l0.9 0.9l-0.9 0.9l-0.9 -0.9z" fill="#347E34"/><path d="M221.7 215.1l1.3 1.3l-1.3 1.3l-1.3 -1.3z" fill="#0B480B"/><path d="M248.3 239.4l1.5 1.5l-1.5 1.5l-1.5 -1.5z" fill="#2A702A"/><path d="M276.7 233.2l1.9 1.9l-1.9 1.9l-1.9 -1.9z" fill="#1A5E1A"/><path d="M202.4 239.6l1.7 1.7l-1.7 1.7l-1.7 -1.7z" fill="#347E34"/><path d="M243.2 223.1l1.0 1.0l-1.0 1.0l-1.0 -1.0z" fill="#0E520E"/><path d="M262.1 212.3l2.0 2.0l-2.0 2.0l-2.0 -2.0z" fill="#0B480B"/><path d="M217.0 209.7l1.1 1.1l-1.1 1.1l-1.1 -1.1z" fill="#3A843A"/><path d="M189.1 215.8l1.6 1.6l-1.6 1.6l-1.6 -1.6z" fill="#0E520E"/><path d="M219.5 220.5l1.2 1.2l-1.2 1.2l-1.2 -1.2z" fill="#0E520E"/><path d="M260.1 212.6l1.5 1.5l-1.5 1.5l-1.5 -1.5z" fill="#2A702A"/><path d="M188.8 224.4l1.7 1.7l-1.7 1.7l-1.7 -1.7z" fill="#1E8A1E"/><path d="M219.5 211.2l1.5 1.5l-1.5 1.5l-1.5 -1.5z" fill="#347E34"/><path d="M283.9 234.2l1.4 1.4l-1.4 1.4l-1.4 -1.4z" fill="#347E34"/><path d="M244.9 220.5l1.3 1.3l-1.3 1.3l-1.3 -1.3z" fill="#2A702A"/><path d="M239.6 234.9l1.8 1.8l-1.8 1.8l-1.8 -1.8z" fill="#0B480B"/><path d="M246.9 241.5l1.5 1.5l-1.5 1.5l-1.5 -1.5z" fill="#0B480B"/><path d="M240.0 234.5l1.6 1.6l-1.6 1.6l-1.6 -1.6z" fill="#0B480B"/><path d="M275.4 236.6l1.5 1.5l-1.5 1.5l-1.5 -1.5z" fill="#0B480B"/><path d="M228.5 219.6l1.8 1.8l-1.8 1.8l-1.8 -1.8z" fill="#0B480B"/><path d="M195.2 227.4l1.0 1.0l-1.0 1.0l-1.0 -1.0z" fill="#0E520E"/><path d="M282.2 221.0l1.8 1.8l-1.8 1.8l-1.8 -1.8z" fill="#3F8A3F"/><path d="M251.2 216.4l1.0 1.0l-1.0 1.0l-1.0 -1.0z" fill="#2A702A"/><path d="M245.6 219.9l1.9 1.9l-1.9 1.9l-1.9 -1.9z" fill="#2A702A"/><path d="M279.3 228.4l1.6 1.6l-1.6 1.6l-1.6 -1.6z" fill="#0E520E"/><path d="M199.1 219.6l1.8 1.8l-1.8 1.8l-1.8 -1.8z" fill="#347E34"/><path d="M235.8 219.1l1.5 1.5l-1.5 1.5l-1.5 -1.5z" fill="#0B480B"/><path d="M236.3 224.8l1.4 1.4l-1.4 1.4l-1.4 -1.4z" fill="#3A843A"/><path d="M273.5 228.0l0.9 0.9l-0.9 0.9l-0.9 -0.9z" fill="#3A843A"/><path d="M273.2 231.6l1.0 1.0l-1.0 1.0l-1.0 -1.0z" fill="#347E34"/><path d="M273.8 227.1l1.2 1.2l-1.2 1.2l-1.2 -1.2z" fill="#347E34"/><path d="M266.1 217.2l1.8 1.8l-1.8 1.8l-1.8 -1.8z" fill="#0E520E"/><path d="M247.7 219.9l1.2 1.2l-1.2 1.2l-1.2 -1.2z" fill="#0E520E"/><path d="M212.9 213.5l1.2 1.2l-1.2 1.2l-1.2 -1.2z" fill="#0E520E"/><path d="M221.3 217.9l1.4 1.4l-1.4 1.4l-1.4 -1.4z" fill="#3A843A"/><path d="M219.2 238.2l1.5 1.5l-1.5 1.5l-1.5 -1.5z" fill="#0E520E"/><path d="M203.2 228.3l1.2 1.2l-1.2 1.2l-1.2 -1.2z" fill="#3F8A3F"/><path d="M258.8 223.7l1.9 1.9l-1.9 1.9l-1.9 -1.9z" fill="#347E34"/><path d="M194.6 213.4l1.7 1.7l-1.7 1.7l-1.7 -1.7z" fill="#3F8A3F"/><path d="M208.9 209.4l1.5 1.5l-1.5 1.5l-1.5 -1.5z" fill="#347E34"/><path d="M277.0 224.5l1.5 1.5l-1.5 1.5l-1.5 -1.5z" fill="#2A702A"/><path d="M204.6 213.9l1.8 1.8l-1.8 1.8l-1.8 -1.8z" fill="#3A843A"/><path d="M207.5 219.8l1.7 1.7l-1.7 1.7l-1.7 -1.7z" fill="#2A702A"/><path d="M210.7 241.4l1.3 1.3l-1.3 1.3l-1.3 -1.3z" fill="#2A702A"/><path d="M210.3 213.6l2.0 2.0l-2.0 2.0l-2.0 -2.0z" fill="#0B480B"/><path d="M195.9 237.8l1.2 1.2l-1.2 1.2l-1.2 -1.2z" fill="#3A843A"/><path d="M278.7 218.0l1.0 1.0l-1.0 1.0l-1.0 -1.0z" fill="#0B480B"/><path d="M284.0 229.9l1.1 1.1l-1.1 1.1l-1.1 -1.1z" fill="#0E520E"/><path d="M233.9 241.7l1.0 1.0l-1.0 1.0l-1.0 -1.0z" fill="#2A702A"/><path d="M225.0 232.4l1.3 1.3l-1.3 1.3l-1.3 -1.3z" fill="#3F8A3F"/><path d="M260.1 223.3l1.5 1.5l-1.5 1.5l-1.5 -1.5z" fill="#1A5E1A"/><path d="M224.4 225.6l1.4 1.4l-1.4 1.4l-1.4 -1.4z" fill="#3F8A3F"/><path d="M210.4 212.6l1.7 1.7l-1.7 1.7l-1.7 -1.7z" fill="#3F8A3F"/><path d="M196.0 229.4l1.3 1.3l-1.3 1.3l-1.3 -1.3z" fill="#3F8A3F"/><path d="M258.9 228.3l1.5 1.5l-1.5 1.5l-1.5 -1.5z" fill="#1A5E1A"/><path d="M252.6 213.3l1.7 1.7l-1.7 1.7l-1.7 -1.7z" fill="#347E34"/><path d="M226.2 234.2l1.5 1.5l-1.5 1.5l-1.5 -1.5z" fill="#2A702A"/><path d="M196.4 216.3l1.3 1.3l-1.3 1.3l-1.3 -1.3z" fill="#0B480B"/><path d="M194.2 226.2l2.0 2.0l-2.0 2.0l-2.0 -2.0z" fill="#3A843A"/><path d="M277.1 231.9l1.0 1.0l-1.0 1.0l-1.0 -1.0z" fill="#2A702A"/><path d="M228.0 220.0l1.1 1.1l-1.1 1.1l-1.1 -1.1z" fill="#2A702A"/><path d="M271.4 221.1l1.2 1.2l-1.2 1.2l-1.2 -1.2z" fill="#3F8A3F"/><path d="M262.7 214.0l1.7 1.7l-1.7 1.7l-1.7 -1.7z" fill="#0E520E"/><path d="M216.5 229.6l1.4 1.4l-1.4 1.4l-1.4 -1.4z" fill="#0B480B"/><path d="M274.6 215.0l1.9 1.9l-1.9 1.9l-1.9 -1.9z" fill="#2A702A"/><path d="M239.0 211.9l1.9 1.9l-1.9 1.9l-1.9 -1.9z" fill="#0E520E"/><path d="M234.5 236.5l1.6 1.6l-1.6 1.6l-1.6 -1.6z" fill="#0E520E"/><path d="M205.7 231.3l1.2 1.2l-1.2 1.2l-1.2 -1.2z" fill="#2A702A"/><path d="M251.5 227.4l1.0 1.0l-1.0 1.0l-1.0 -1.0z" fill="#1E8A1E"/><path d="M218.6 213.0l1.2 1.2l-1.2 1.2l-1.2 -1.2z" fill="#347E34"/><path d="M207.6 239.3l1.0 1.0l-1.0 1.0l-1.0 -1.0z" fill="#3A843A"/><path d="M214.5 220.3l1.6 1.6l-1.6 1.6l-1.6 -1.6z" fill="#1E8A1E"/><path d="M283.8 225.6l1.5 1.5l-1.5 1.5l-1.5 -1.5z" fill="#0E520E"/><path d="M281.4 233.9l1.3 1.3l-1.3 1.3l-1.3 -1.3z" fill="#1E8A1E"/><path d="M265.9 220.7l1.1 1.1l-1.1 1.1l-1.1 -1.1z" fill="#1E8A1E"/><path d="M213.9 221.5l1.5 1.5l-1.5 1.5l-1.5 -1.5z" fill="#347E34"/><path d="M215.6 236.6l1.3 1.3l-1.3 1.3l-1.3 -1.3z" fill="#3F8A3F"/><path d="M210.2 212.6l1.3 1.3l-1.3 1.3l-1.3 -1.3z" fill="#1A5E1A"/><path d="M245.8 215.9l1.7 1.7l-1.7 1.7l-1.7 -1.7z" fill="#1A5E1A"/><path d="M246.2 214.2l1.1 1.1l-1.1 1.1l-1.1 -1.1z" fill="#2A702A"/><path d="M239.2 240.4l1.0 1.0l-1.0 1.0l-1.0 -1.0z" fill="#0B480B"/><path d="M263.3 227.1l1.9 1.9l-1.9 1.9l-1.9 -1.9z" fill="#3F8A3F"/><path d="M261.5 210.3l2.0 2.0l-2.0 2.0l-2.0 -2.0z" fill="#347E34"/><path d="M241.3 241.8l1.4 1.4l-1.4 1.4l-1.4 -1.4z" fill="#1A5E1A"/><path d="M211.3 217.5l1.9 1.9l-1.9 1.9l-1.9 -1.9z" fill="#2A702A"/><path d="M281.8 235.7l1.8 1.8l-1.8 1.8l-1.8 -1.8z" fill="#0B480B"/><path d="M251.8 227.4l1.1 1.1l-1.1 1.1l-1.1 -1.1z" fill="#3F8A3F"/><path d="M212.7 240.5l1.7 1.7l-1.7 1.7l-1.7 -1.7z" fill="#347E34"/><path d="M225.5 213.4l1.1 1.1l-1.1 1.1l-1.1 -1.1z" fill="#1E8A1E"/><path d="M213.7 211.7l1.3 1.3l-1.3 1.3l-1.3 -1.3z" fill="#0E520E"/><path d="M281.1 222.2l1.3 1.3l-1.3 1.3l-1.3 -1.3z" fill="#1E8A1E"/><path d="M214.7 211.6l1.8 1.8l-1.8 1.8l-1.8 -1.8z" fill="#3A843A"/><path d="M209.4 242.4l1.4 1.4l-1.4 1.4l-1.4 -1.4z" fill="#0E520E"/><path d="M222.1 226.2l1.8 1.8l-1.8 1.8l-1.8 -1.8z" fill="#1A5E1A"/><path d="M244.7 215.3l1.9 1.9l-1.9 1.9l-1.9 -1.9z" fill="#3F8A3F"/><path d="M242.4 213.0l1.7 1.7l-1.7 1.7l-1.7 -1.7z" fill="#1E8A1E"/><path d="M188.6 220.6l1.4 1.4l-1.4 1.4l-1.4 -1.4z" fill="#2A702A"/><path d="M187.4 218.5l1.9 1.9l-1.9 1.9l-1.9 -1.9z" fill="#1E8A1E"/><path d="M246.2 216.9l1.0 1.0l-1.0 1.0l-1.0 -1.0z" fill="#3A843A"/><path d="M258.0 222.8l1.1 1.1l-1.1 1.1l-1.1 -1.1z" fill="#347E34"/><path d="M268.7 232.3l0.9 0.9l-0.9 0.9l-0.9 -0.9z" fill="#1E8A1E"/><path d="M219.7 237.3l1.6 1.6l-1.6 1.6l-1.6 -1.6z" fill="#1A5E1A"/><path d="M197.9 215.6l1.4 1.4l-1.4 1.4l-1.4 -1.4z" fill="#1A5E1A"/><path d="M192.1 218.5l1.6 1.6l-1.6 1.6l-1.6 -1.6z" fill="#1A5E1A"/><path d="M190.0 235.3l1.5 1.5l-1.5 1.5l-1.5 -1.5z" fill="#1A5E1A"/><path d="M267.5 234.6l1.4 1.4l-1.4 1.4l-1.4 -1.4z" fill="#0E520E"/><path d="M209.0 230.8l1.5 1.5l-1.5 1.5l-1.5 -1.5z" fill="#0E520E"/><path d="M206.6 209.4l1.7 1.7l-1.7 1.7l-1.7 -1.7z" fill="#2A702A"/><path d="M258.3 214.7l1.0 1.0l-1.0 1.0l-1.0 -1.0z" fill="#3A843A"/><path d="M259.3 229.6l1.2 1.2l-1.2 1.2l-1.2 -1.2z" fill="#3A843A"/><path d="M236.7 242.6l1.0 1.0l-1.0 1.0l-1.0 -1.0z" fill="#3F8A3F"/><path d="M245.6 241.8l1.3 1.3l-1.3 1.3l-1.3 -1.3z" fill="#1E8A1E"/><path d="M211.8 225.8l1.4 1.4l-1.4 1.4l-1.4 -1.4z" fill="#0E520E"/><path d="M277.2 218.5l1.0 1.0l-1.0 1.0l-1.0 -1.0z" fill="#1A5E1A"/><path d="M232.8 227.1l0.9 0.9l-0.9 0.9l-0.9 -0.9z" fill="#0B480B"/><path d="M220.6 228.0l1.9 1.9l-1.9 1.9l-1.9 -1.9z" fill="#347E34"/><path d="M263.1 229.1l1.0 1.0l-1.0 1.0l-1.0 -1.0z" fill="#3A843A"/><path d="M206.8 221.2l1.6 1.6l-1.6 1.6l-1.6 -1.6z" fill="#0E520E"/><path d="M207.5 210.0l2.0 2.0l-2.0 2.0l-2.0 -2.0z" fill="#3A843A"/><path d="M267.1 231.8l1.7 1.7l-1.7 1.7l-1.7 -1.7z" fill="#347E34"/><path d="M200.7 216.1l2.0 2.0l-2.0 2.0l-2.0 -2.0z" fill="#0E520E"/><path d="M228.8 212.4l1.7 1.7l-1.7 1.7l-1.7 -1.7z" fill="#0E520E"/><path d="M233.4 217.9l1.3 1.3l-1.3 1.3l-1.3 -1.3z" fill="#3A843A"/><path d="M257.3 217.6l1.9 1.9l-1.9 1.9l-1.9 -1.9z" fill="#0B480B"/><path d="M202.5 237.3l1.2 1.2l-1.2 1.2l-1.2 -1.2z" fill="#3A843A"/><path d="M268.2 220.1l1.4 1.4l-1.4 1.4l-1.4 -1.4z" fill="#2A702A"/><path d="M210.8 219.2l1.9 1.9l-1.9 1.9l-1.9 -1.9z" fill="#1E8A1E"/><path d="M256.9 221.6l0.9 0.9l-0.9 0.9l-0.9 -0.9z" fill="#0B480B"/><path d="M196.1 221.4l1.2 1.2l-1.2 1.2l-1.2 -1.2z" fill="#0E520E"/><path d="M251.0 230.1l1.1 1.1l-1.1 1.1l-1.1 -1.1z" fill="#0B480B"/><path d="M235.6 237.0l1.0 1.0l-1.0 1.0l-1.0 -1.0z" fill="#1A5E1A"/><path d="M220.6 217.2l1.8 1.8l-1.8 1.8l-1.8 -1.8z" fill="#347E34"/><path d="M233.5 234.6l1.7 1.7l-1.7 1.7l-1.7 -1.7z" fill="#1A5E1A"/><path d="M269.9 217.2l1.7 1.7l-1.7 1.7l-1.7 -1.7z" fill="#2A702A"/><path d="M233.6 232.0l1.6 1.6l-1.6 1.6l-1.6 -1.6z" fill="#2A702A"/><path d="M276.4 216.4l1.6 1.6l-1.6 1.6l-1.6 -1.6z" fill="#3F8A3F"/><path d="M248.2 226.0l1.7 1.7l-1.7 1.7l-1.7 -1.7z" fill="#0E520E"/><path d="M219.9 232.5l1.4 1.4l-1.4 1.4l-1.4 -1.4z" fill="#347E34"/><path d="M221.5 215.9l1.5 1.5l-1.5 1.5l-1.5 -1.5z" fill="#0E520E"/><path d="M274.7 214.3l1.9 1.9l-1.9 1.9l-1.9 -1.9z" fill="#2A702A"/><path d="M232.8 222.7l1.8 1.8l-1.8 1.8l-1.8 -1.8z" fill="#0B480B"/><path d="M269.8 215.7l1.3 1.3l-1.3 1.3l-1.3 -1.3z" fill="#3A843A"/><path d="M269.5 230.7l1.7 1.7l-1.7 1.7l-1.7 -1.7z" fill="#1A5E1A"/><path d="M261.3 215.2l1.7 1.7l-1.7 1.7l-1.7 -1.7z" fill="#0E520E"/><path d="M237.0 225.0l1.4 1.4l-1.4 1.4l-1.4 -1.4z" fill="#3F8A3F"/><path d="M190.7 234.1l1.9 1.9l-1.9 1.9l-1.9 -1.9z" fill="#0E520E"/><path d="M200.5 238.0l1.1 1.1l-1.1 1.1l-1.1 -1.1z" fill="#0B480B"/><path d="M197.8 218.6l1.8 1.8l-1.8 1.8l-1.8 -1.8z" fill="#0B480B"/><path d="M194.2 213.7l1.8 1.8l-1.8 1.8l-1.8 -1.8z" fill="#0B480B"/><path d="M194.1 238.7l1.9 1.9l-1.9 1.9l-1.9 -1.9z" fill="#1E8A1E"/><path d="M246.6 219.0l1.6 1.6l-1.6 1.6l-1.6 -1.6z" fill="#3A843A"/><path d="M257.6 213.3l1.0 1.0l-1.0 1.0l-1.0 -1.0z" fill="#347E34"/><path d="M226.5 228.1l1.9 1.9l-1.9 1.9l-1.9 -1.9z" fill="#347E34"/><path d="M270.7 232.2l1.8 1.8l-1.8 1.8l-1.8 -1.8z" fill="#0E520E"/><path d="M223.4 240.6l1.8 1.8l-1.8 1.8l-1.8 -1.8z" fill="#3F8A3F"/><path d="M218.5 230.4l1.3 1.3l-1.3 1.3l-1.3 -1.3z" fill="#0E520E"/><path d="M220.3 242.3l1.7 1.7l-1.7 1.7l-1.7 -1.7z" fill="#0E520E"/><path d="M242.2 240.8l1.9 1.9l-1.9 1.9l-1.9 -1.9z" fill="#2A702A"/><path d="M196.6 210.8l2.0 2.0l-2.0 2.0l-2.0 -2.0z" fill="#3A843A"/><path d="M204.1 219.8l1.5 1.5l-1.5 1.5l-1.5 -1.5z" fill="#1A5E1A"/><path d="M234.0 230.1l1.9 1.9l-1.9 1.9l-1.9 -1.9z" fill="#0E520E"/><path d="M227.3 236.5l2.0 2.0l-2.0 2.0l-2.0 -2.0z" fill="#1E8A1E"/><path d="M263.2 228.6l1.7 1.7l-1.7 1.7l-1.7 -1.7z" fill="#3F8A3F"/><path d="M251.3 209.9l1.4 1.4l-1.4 1.4l-1.4 -1.4z" fill="#0E520E"/><path d="M245.6 217.1l1.1 1.1l-1.1 1.1l-1.1 -1.1z" fill="#347E34"/><path d="M233.7 234.2l1.2 1.2l-1.2 1.2l-1.2 -1.2z" fill="#0E520E"/><path d="M251.7 224.6l1.0 1.0l-1.0 1.0l-1.0 -1.0z" fill="#3A843A"/><path d="M277.5 220.0l1.8 1.8l-1.8 1.8l-1.8 -1.8z" fill="#1A5E1A"/><path d="M189.1 221.9l1.8 1.8l-1.8 1.8l-1.8 -1.8z" fill="#1A5E1A"/><path d="M215.8 234.1l1.3 1.3l-1.3 1.3l-1.3 -1.3z" fill="#0E520E"/><path d="M247.0 233.8l1.0 1.0l-1.0 1.0l-1.0 -1.0z" fill="#0B480B"/><path d="M202.3 222.2l1.1 1.1l-1.1 1.1l-1.1 -1.1z" fill="#2A702A"/><path d="M255.8 218.4l1.6 1.6l-1.6 1.6l-1.6 -1.6z" fill="#3A843A"/><path d="M256.8 235.3l1.8 1.8l-1.8 1.8l-1.8 -1.8z" fill="#0B480B"/><path d="M252.2 220.9l0.9 0.9l-0.9 0.9l-0.9 -0.9z" fill="#1E8A1E"/><path d="M216.8 233.2l2.0 2.0l-2.0 2.0l-2.0 -2.0z" fill="#0B480B"/><path d="M198.7 212.7l1.1 1.1l-1.1 1.1l-1.1 -1.1z" fill="#0B480B"/><path d="M235.8 221.1l2.0 2.0l-2.0 2.0l-2.0 -2.0z" fill="#2A702A"/><path d="M243.0 216.3l1.8 1.8l-1.8 1.8l-1.8 -1.8z" fill="#1E8A1E"/><path d="M198.7 222.1l1.0 1.0l-1.0 1.0l-1.0 -1.0z" fill="#347E34"/><path d="M213.1 229.9l1.8 1.8l-1.8 1.8l-1.8 -1.8z" fill="#0B480B"/><path d="M209.5 238.9l1.9 1.9l-1.9 1.9l-1.9 -1.9z" fill="#0E520E"/><path d="M218.1 233.9l1.1 1.1l-1.1 1.1l-1.1 -1.1z" fill="#0E520E"/><path d="M213.0 238.1l1.0 1.0l-1.0 1.0l-1.0 -1.0z" fill="#3A843A"/><path d="M260.8 237.8l0.9 0.9l-0.9 0.9l-0.9 -0.9z" fill="#0B480B"/><path d="M194.6 225.3l1.5 1.5l-1.5 1.5l-1.5 -1.5z" fill="#1A5E1A"/><path d="M260.9 218.1l0.9 0.9l-0.9 0.9l-0.9 -0.9z" fill="#2A702A"/><path d="M227.6 239.7l1.4 1.4l-1.4 1.4l-1.4 -1.4z" fill="#347E34"/><path d="M195.2 230.8l1.6 1.6l-1.6 1.6l-1.6 -1.6z" fill="#0E520E"/><path d="M234.5 241.7l1.9 1.9l-1.9 1.9l-1.9 -1.9z" fill="#347E34"/><path d="M248.6 234.1l1.2 1.2l-1.2 1.2l-1.2 -1.2z" fill="#3A843A"/><path d="M248.9 211.1l1.6 1.6l-1.6 1.6l-1.6 -1.6z" fill="#3A843A"/><path d="M276.2 238.4l1.5 1.5l-1.5 1.5l-1.5 -1.5z" fill="#2A702A"/><path d="M205.3 212.8l1.5 1.5l-1.5 1.5l-1.5 -1.5z" fill="#3F8A3F"/><path d="M196.3 223.6l1.9 1.9l-1.9 1.9l-1.9 -1.9z" fill="#0E520E"/><path d="M240.8 219.0l1.1 1.1l-1.1 1.1l-1.1 -1.1z" fill="#3A843A"/><path d="M259.4 210.8l1.0 1.0l-1.0 1.0l-1.0 -1.0z" fill="#347E34"/><path d="M250.9 210.8l1.8 1.8l-1.8 1.8l-1.8 -1.8z" fill="#3F8A3F"/><path d="M276.7 212.5l1.5 1.5l-1.5 1.5l-1.5 -1.5z" fill="#0E520E"/><path d="M233.8 223.4l1.6 1.6l-1.6 1.6l-1.6 -1.6z" fill="#347E34"/><path d="M252.8 212.9l1.3 1.3l-1.3 1.3l-1.3 -1.3z" fill="#1A5E1A"/><path d="M247.8 234.9l1.6 1.6l-1.6 1.6l-1.6 -1.6z" fill="#0E520E"/><path d="M244.6 229.1l2.0 2.0l-2.0 2.0l-2.0 -2.0z" fill="#0B480B"/><path d="M244.4 210.0l1.7 1.7l-1.7 1.7l-1.7 -1.7z" fill="#347E34"/><path d="M215.5 241.0l1.0 1.0l-1.0 1.0l-1.0 -1.0z" fill="#1A5E1A"/><path d="M263.1 224.3l1.9 1.9l-1.9 1.9l-1.9 -1.9z" fill="#0B480B"/><path d="M207.9 236.3l1.2 1.2l-1.2 1.2l-1.2 -1.2z" fill="#0E520E"/><path d="M260.2 220.7l1.2 1.2l-1.2 1.2l-1.2 -1.2z" fill="#1A5E1A"/><path d="M242.1 228.4l1.1 1.1l-1.1 1.1l-1.1 -1.1z" fill="#0E520E"/><path d="M255.3 226.0l1.3 1.3l-1.3 1.3l-1.3 -1.3z" fill="#3A843A"/><path d="M264.6 212.5l1.9 1.9l-1.9 1.9l-1.9 -1.9z" fill="#0E520E"/><path d="M234.8 235.0l1.6 1.6l-1.6 1.6l-1.6 -1.6z" fill="#347E34"/><path d="M225.2 215.9l1.5 1.5l-1.5 1.5l-1.5 -1.5z" fill="#0E520E"/><path d="M217.7 210.7l1.9 1.9l-1.9 1.9l-1.9 -1.9z" fill="#3F8A3F"/><path d="M243.0 210.6l1.2 1.2l-1.2 1.2l-1.2 -1.2z" fill="#0B480B"/><path d="M229.5 211.1l1.9 1.9l-1.9 1.9l-1.9 -1.9z" fill="#0E520E"/><path d="M244.0 224.3l1.3 1.3l-1.3 1.3l-1.3 -1.3z" fill="#347E34"/><path d="M258.9 228.6l1.3 1.3l-1.3 1.3l-1.3 -1.3z" fill="#3A843A"/><path d="M240.4 228.2l1.2 1.2l-1.2 1.2l-1.2 -1.2z" fill="#3A843A"/><path d="M276.7 236.8l1.4 1.4l-1.4 1.4l-1.4 -1.4z" fill="#1A5E1A"/><path d="M249.3 226.9l1.8 1.8l-1.8 1.8l-1.8 -1.8z" fill="#347E34"/><path d="M220.3 224.2l1.6 1.6l-1.6 1.6l-1.6 -1.6z" fill="#0E520E"/><path d="M223.4 241.7l1.5 1.5l-1.5 1.5l-1.5 -1.5z" fill="#3A843A"/><path d="M224.5 242.3l1.6 1.6l-1.6 1.6l-1.6 -1.6z" fill="#0E520E"/><path d="M212.0 232.5l1.0 1.0l-1.0 1.0l-1.0 -1.0z" fill="#3A843A"/><path d="M272.4 223.3l2.0 2.0l-2.0 2.0l-2.0 -2.0z" fill="#1A5E1A"/><path d="M254.4 212.1l1.3 1.3l-1.3 1.3l-1.3 -1.3z" fill="#0B480B"/><path d="M243.2 219.9l1.1 1.1l-1.1 1.1l-1.1 -1.1z" fill="#0E520E"/><path d="M275.1 225.9l1.6 1.6l-1.6 1.6l-1.6 -1.6z" fill="#347E34"/><path d="M240.9 221.5l1.8 1.8l-1.8 1.8l-1.8 -1.8z" fill="#1E8A1E"/><path d="M208.5 239.9l1.7 1.7l-1.7 1.7l-1.7 -1.7z" fill="#0E520E"/><path d="M191.7 233.9l1.3 1.3l-1.3 1.3l-1.3 -1.3z" fill="#347E34"/><path d="M271.9 220.2l1.8 1.8l-1.8 1.8l-1.8 -1.8z" fill="#0E520E"/><path d="M193.3 229.7l1.0 1.0l-1.0 1.0l-1.0 -1.0z" fill="#2A702A"/><path d="M274.5 217.9l1.8 1.8l-1.8 1.8l-1.8 -1.8z" fill="#3F8A3F"/><path d="M262.1 217.9l1.3 1.3l-1.3 1.3l-1.3 -1.3z" fill="#3F8A3F"/><path d="M283.1 225.8l1.0 1.0l-1.0 1.0l-1.0 -1.0z" fill="#1A5E1A"/><path d="M273.1 234.0l1.7 1.7l-1.7 1.7l-1.7 -1.7z" fill="#0E520E"/><path d="M201.8 226.5l1.2 1.2l-1.2 1.2l-1.2 -1.2z" fill="#0B480B"/><path d="M258.3 214.9l1.9 1.9l-1.9 1.9l-1.9 -1.9z" fill="#2A702A"/><path d="M208.9 231.0l1.4 1.4l-1.4 1.4l-1.4 -1.4z" fill="#2A702A"/><path d="M279.9 233.8l1.4 1.4l-1.4 1.4l-1.4 -1.4z" fill="#3A843A"/><path d="M228.2 218.4l1.8 1.8l-1.8 1.8l-1.8 -1.8z" fill="#0E520E"/><path d="M217.8 236.6l1.1 1.1l-1.1 1.1l-1.1 -1.1z" fill="#2A702A"/><path d="M259.1 239.3l1.7 1.7l-1.7 1.7l-1.7 -1.7z" fill="#347E34"/><path d="M212.5 236.1l1.6 1.6l-1.6 1.6l-1.6 -1.6z" fill="#0E520E"/><path d="M207.4 241.7l1.6 1.6l-1.6 1.6l-1.6 -1.6z" fill="#3A843A"/><path d="M251.7 216.7l1.0 1.0l-1.0 1.0l-1.0 -1.0z" fill="#347E34"/><path d="M229.7 239.1l1.3 1.3l-1.3 1.3l-1.3 -1.3z" fill="#347E34"/><path d="M188.7 229.2l1.5 1.5l-1.5 1.5l-1.5 -1.5z" fill="#0E520E"/><path d="M271.1 221.4l1.3 1.3l-1.3 1.3l-1.3 -1.3z" fill="#0E520E"/><path d="M210.5 212.5l1.4 1.4l-1.4 1.4l-1.4 -1.4z" fill="#1E8A1E"/><path d="M238.3 235.6l1.6 1.6l-1.6 1.6l-1.6 -1.6z" fill="#0B480B"/><path d="M266.3 221.3l1.8 1.8l-1.8 1.8l-1.8 -1.8z" fill="#1A5E1A"/><path d="M195.9 240.5l1.1 1.1l-1.1 1.1l-1.1 -1.1z" fill="#1E8A1E"/><path d="M225.4 209.9l1.7 1.7l-1.7 1.7l-1.7 -1.7z" fill="#347E34"/><path d="M228.4 232.8l1.7 1.7l-1.7 1.7l-1.7 -1.7z" fill="#2A702A"/><path d="M239.1 212.9l1.2 1.2l-1.2 1.2l-1.2 -1.2z" fill="#0E520E"/><path d="M281.3 228.3l1.1 1.1l-1.1 1.1l-1.1 -1.1z" fill="#2A702A"/><path d="M263.1 229.7l1.9 1.9l-1.9 1.9l-1.9 -1.9z" fill="#1A5E1A"/><path d="M210.6 212.3l1.4 1.4l-1.4 1.4l-1.4 -1.4z" fill="#3A843A"/><path d="M241.6 234.4l1.9 1.9l-1.9 1.9l-1.9 -1.9z" fill="#3F8A3F"/><path d="M198.9 230.5l1.7 1.7l-1.7 1.7l-1.7 -1.7z" fill="#2A702A"/><path d="M222.5 215.5l1.8 1.8l-1.8 1.8l-1.8 -1.8z" fill="#1A5E1A"/><path d="M259.2 225.8l1.9 1.9l-1.9 1.9l-1.9 -1.9z" fill="#1A5E1A"/><path d="M211.5 234.5l1.1 1.1l-1.1 1.1l-1.1 -1.1z" fill="#0E520E"/><path d="M228.7 210.3l1.1 1.1l-1.1 1.1l-1.1 -1.1z" fill="#3F8A3F"/><path d="M249.4 239.3l1.3 1.3l-1.3 1.3l-1.3 -1.3z" fill="#2A702A"/><path d="M276.8 225.2l1.4 1.4l-1.4 1.4l-1.4 -1.4z" fill="#3F8A3F"/><path d="M258.9 232.7l1.8 1.8l-1.8 1.8l-1.8 -1.8z" fill="#0E520E"/><path d="M213.0 229.1l1.2 1.2l-1.2 1.2l-1.2 -1.2z" fill="#0B480B"/><path d="M239.6 220.4l1.5 1.5l-1.5 1.5l-1.5 -1.5z" fill="#2A702A"/><path d="M223.4 224.7l1.7 1.7l-1.7 1.7l-1.7 -1.7z" fill="#0E520E"/><path d="M263.4 232.5l1.4 1.4l-1.4 1.4l-1.4 -1.4z" fill="#0B480B"/><path d="M233.4 212.3l1.5 1.5l-1.5 1.5l-1.5 -1.5z" fill="#347E34"/><path d="M243.3 225.6l1.5 1.5l-1.5 1.5l-1.5 -1.5z" fill="#1E8A1E"/><path d="M253.7 236.2l1.1 1.1l-1.1 1.1l-1.1 -1.1z" fill="#3A843A"/><path d="M218.3 243.1l0.9 0.9l-0.9 0.9l-0.9 -0.9z" fill="#1E8A1E"/><path d="M262.0 223.2l1.5 1.5l-1.5 1.5l-1.5 -1.5z" fill="#0E520E"/><path d="M229.9 235.0l1.4 1.4l-1.4 1.4l-1.4 -1.4z" fill="#347E34"/><path d="M267.6 214.6l1.2 1.2l-1.2 1.2l-1.2 -1.2z" fill="#0B480B"/><path d="M273.8 236.5l1.5 1.5l-1.5 1.5l-1.5 -1.5z" fill="#1E8A1E"/><path d="M238.1 213.2l1.4 1.4l-1.4 1.4l-1.4 -1.4z" fill="#2A702A"/><path d="M280.4 229.4l1.5 1.5l-1.5 1.5l-1.5 -1.5z" fill="#0E520E"/><path d="M211.6 222.3l1.8 1.8l-1.8 1.8l-1.8 -1.8z" fill="#3A843A"/><path d="M246.1 218.6l1.4 1.4l-1.4 1.4l-1.4 -1.4z" fill="#3F8A3F"/><path d="M260.5 210.4l1.0 1.0l-1.0 1.0l-1.0 -1.0z" fill="#0B480B"/><path d="M269.4 228.5l1.1 1.1l-1.1 1.1l-1.1 -1.1z" fill="#3F8A3F"/><path d="M263.4 224.3l0.9 0.9l-0.9 0.9l-0.9 -0.9z" fill="#1A5E1A"/><path d="M270.0 226.4l1.6 1.6l-1.6 1.6l-1.6 -1.6z" fill="#2A702A"/><path d="M202.2 219.7l1.4 1.4l-1.4 1.4l-1.4 -1.4z" fill="#0E520E"/><path d="M245.9 241.4l1.3 1.3l-1.3 1.3l-1.3 -1.3z" fill="#0E520E"/><path d="M227.1 231.7l1.5 1.5l-1.5 1.5l-1.5 -1.5z" fill="#0E520E"/><path d="M196.9 236.8l1.8 1.8l-1.8 1.8l-1.8 -1.8z" fill="#1E8A1E"/><path d="M200.9 216.8l1.8 1.8l-1.8 1.8l-1.8 -1.8z" fill="#1A5E1A"/><path d="M268.8 220.1l1.7 1.7l-1.7 1.7l-1.7 -1.7z" fill="#0E520E"/><path d="M219.0 236.7l1.5 1.5l-1.5 1.5l-1.5 -1.5z" fill="#1A5E1A"/><path d="M243.9 221.6l1.9 1.9l-1.9 1.9l-1.9 -1.9z" fill="#0E520E"/><path d="M232.8 211.7l1.0 1.0l-1.0 1.0l-1.0 -1.0z" fill="#0E520E"/><path d="M209.8 218.3l1.6 1.6l-1.6 1.6l-1.6 -1.6z" fill="#347E34"/><path d="M265.2 237.1l1.7 1.7l-1.7 1.7l-1.7 -1.7z" fill="#2A702A"/><path d="M213.8 230.0l1.1 1.1l-1.1 1.1l-1.1 -1.1z" fill="#0E520E"/><path d="M204.2 228.0l1.5 1.5l-1.5 1.5l-1.5 -1.5z" fill="#1A5E1A"/><path d="M215.0 221.3l1.7 1.7l-1.7 1.7l-1.7 -1.7z" fill="#0E520E"/><path d="M265.9 221.1l1.6 1.6l-1.6 1.6l-1.6 -1.6z" fill="#1A5E1A"/><path d="M239.3 234.2l1.5 1.5l-1.5 1.5l-1.5 -1.5z" fill="#2A702A"/><path d="M265.1 212.3l1.2 1.2l-1.2 1.2l-1.2 -1.2z" fill="#1A5E1A"/><path d="M234.1 226.2l1.6 1.6l-1.6 1.6l-1.6 -1.6z" fill="#0B480B"/><path d="M219.1 237.3l1.2 1.2l-1.2 1.2l-1.2 -1.2z" fill="#0E520E"/><path d="M202.8 225.9l0.9 0.9l-0.9 0.9l-0.9 -0.9z" fill="#1E8A1E"/><path d="M220.9 210.0l1.5 1.5l-1.5 1.5l-1.5 -1.5z" fill="#3F8A3F"/><path d="M263.0 235.3l1.5 1.5l-1.5 1.5l-1.5 -1.5z" fill="#0B480B"/><path d="M267.5 222.3l1.7 1.7l-1.7 1.7l-1.7 -1.7z" fill="#1E8A1E"/><path d="M208.4 222.6l2.0 2.0l-2.0 2.0l-2.0 -2.0z" fill="#3A843A"/><path d="M215.8 213.9l1.4 1.4l-1.4 1.4l-1.4 -1.4z" fill="#3A843A"/><path d="M220.8 229.6l1.4 1.4l-1.4 1.4l-1.4 -1.4z" fill="#2A702A"/><path d="M234.8 232.8l1.7 1.7l-1.7 1.7l-1.7 -1.7z" fill="#347E34"/><path d="M278.0 217.6l1.3 1.3l-1.3 1.3l-1.3 -1.3z" fill="#0E520E"/><path d="M217.6 230.8l1.1 1.1l-1.1 1.1l-1.1 -1.1z" fill="#0B480B"/><path d="M255.7 210.2l1.3 1.3l-1.3 1.3l-1.3 -1.3z" fill="#3F8A3F"/><path d="M221.9 235.4l1.9 1.9l-1.9 1.9l-1.9 -1.9z" fill="#347E34"/><path d="M201.0 234.6l1.9 1.9l-1.9 1.9l-1.9 -1.9z" fill="#0E520E"/><path d="M272.0 216.6l1.5 1.5l-1.5 1.5l-1.5 -1.5z" fill="#2A702A"/><path d="M246.1 213.8l1.2 1.2l-1.2 1.2l-1.2 -1.2z" fill="#1A5E1A"/><path d="M219.8 232.2l1.3 1.3l-1.3 1.3l-1.3 -1.3z" fill="#0E520E"/><path d="M263.5 212.1l1.6 1.6l-1.6 1.6l-1.6 -1.6z" fill="#3A843A"/><path d="M235.4 239.6l1.4 1.4l-1.4 1.4l-1.4 -1.4z" fill="#0B480B"/><path d="M251.7 238.1l1.7 1.7l-1.7 1.7l-1.7 -1.7z" fill="#0E520E"/><path d="M189.9 215.8l1.5 1.5l-1.5 1.5l-1.5 -1.5z" fill="#3A843A"/><path d="M247.8 227.1l1.6 1.6l-1.6 1.6l-1.6 -1.6z" fill="#0B480B"/><path d="M239.9 235.5l1.7 1.7l-1.7 1.7l-1.7 -1.7z" fill="#3A843A"/><path d="M265.1 231.1l1.2 1.2l-1.2 1.2l-1.2 -1.2z" fill="#1E8A1E"/><path d="M222.5 213.5l1.1 1.1l-1.1 1.1l-1.1 -1.1z" fill="#347E34"/><path d="M255.6 228.0l1.6 1.6l-1.6 1.6l-1.6 -1.6z" fill="#1E8A1E"/><path d="M231.5 227.6l1.9 1.9l-1.9 1.9l-1.9 -1.9z" fill="#0E520E"/><path d="M245.0 222.5l1.5 1.5l-1.5 1.5l-1.5 -1.5z" fill="#0E520E"/><path d="M254.3 209.7l1.1 1.1l-1.1 1.1l-1.1 -1.1z" fill="#3A843A"/><path d="M211.4 239.7l1.4 1.4l-1.4 1.4l-1.4 -1.4z" fill="#1A5E1A"/><path d="M220.4 221.5l1.3 1.3l-1.3 1.3l-1.3 -1.3z" fill="#3A843A"/><path d="M214.2 213.6l2.0 2.0l-2.0 2.0l-2.0 -2.0z" fill="#3F8A3F"/><path d="M194.4 235.8l1.6 1.6l-1.6 1.6l-1.6 -1.6z" fill="#0B480B"/><path d="M198.0 211.1l1.9 1.9l-1.9 1.9l-1.9 -1.9z" fill="#2A702A"/><path d="M226.6 214.8l1.1 1.1l-1.1 1.1l-1.1 -1.1z" fill="#0E520E"/><path d="M198.3 234.7l1.0 1.0l-1.0 1.0l-1.0 -1.0z" fill="#347E34"/><path d="M258.2 218.1l1.1 1.1l-1.1 1.1l-1.1 -1.1z" fill="#347E34"/><path d="M240.3 235.5l1.6 1.6l-1.6 1.6l-1.6 -1.6z" fill="#1E8A1E"/><path d="M192.3 218.5l1.1 1.1l-1.1 1.1l-1.1 -1.1z" fill="#0B480B"/><path d="M213.6 224.7l1.0 1.0l-1.0 1.0l-1.0 -1.0z" fill="#1E8A1E"/><path d="M218.4 216.3l1.9 1.9l-1.9 1.9l-1.9 -1.9z" fill="#1E8A1E"/><use href="#g" x="152.4" y="236.2"/><use href="#g" x="151.3" y="235.1"/><use href="#g" x="194.2" y="210.0"/><use href="#g" x="193.1" y="208.9"/><use href="#g" x="167.2" y="256.5"/><use href="#g" x="166.1" y="255.4"/><use href="#g" x="165.0" y="254.3"/><use href="#g" x="163.9" y="253.2"/><use href="#g" x="238.9" y="210.1"/><use href="#g" x="237.8" y="209.0"/><use href="#g" x="236.7" y="207.9"/><use href="#g" x="235.6" y="206.8"/><use href="#g" x="176.0" y="233.5"/><use href="#g" x="174.9" y="232.4"/><use href="#g" x="173.8" y="231.3"/><use href="#g" x="172.7" y="230.2"/><use href="#g" x="171.6" y="229.1"/><use href="#g" x="170.5" y="228.0"/><use href="#g" x="156.0" y="211.1"/><use href="#g" x="154.9" y="210.0"/><use href="#g" x="204.6" y="256.3"/><use href="#g" x="203.5" y="255.2"/><use href="#g" x="202.4" y="254.1"/><use href="#g" x="224.9" y="204.1"/><use href="#g" x="223.8" y="203.0"/><use href="#g" x="222.7" y="201.9"/><use href="#g" x="221.6" y="200.8"/><use href="#g" x="220.5" y="199.7"/><use href="#g" x="219.4" y="198.6"/><use href="#g" x="130.3" y="186.0"/><use href="#g" x="129.2" y="184.9"/><use href="#g" x="137.4" y="192.3"/><use href="#g" x="136.3" y="191.2"/><use href="#g" x="278.5" y="214.8"/><use href="#g" x="277.4" y="213.7"/><use href="#g" x="276.3" y="212.6"/><use href="#g" x="154.3" y="204.2"/><use href="#g" x="153.2" y="203.1"/><use href="#g" x="144.1" y="256.5"/><use href="#g" x="143.0" y="255.4"/><use href="#g" x="141.9" y="254.3"/><use href="#g" x="162.0" y="237.0"/><use href="#g" x="160.9" y="235.9"/><use href="#g" x="159.8" y="234.8"/><use href="#g" x="185.4" y="215.0"/><use href="#g" x="184.3" y="213.9"/><use href="#g" x="183.2" y="212.8"/><use href="#g" x="182.1" y="211.7"/><use href="#g" x="181.0" y="210.6"/><use href="#g" x="202.8" y="259.7"/><use href="#g" x="201.7" y="258.6"/><use href="#g" x="200.6" y="257.5"/><use href="#g" x="210.2" y="201.1"/><use href="#g" x="209.1" y="200.0"/><use href="#g" x="208.0" y="198.9"/><use href="#g" x="206.9" y="197.8"/><use href="#g" x="205.8" y="196.7"/><use href="#g" x="204.7" y="195.6"/><use href="#g" x="130.1" y="242.1"/><use href="#g" x="129.0" y="241.0"/><use href="#g" x="127.9" y="239.9"/><use href="#g" x="153.9" y="268.1"/><use href="#g" x="152.8" y="267.0"/><use href="#g" x="151.7" y="265.9"/><use href="#g" x="179.8" y="273.0"/><use href="#g" x="178.7" y="271.9"/><use href="#g" x="177.6" y="270.8"/><use href="#g" x="176.5" y="269.7"/><use href="#g" x="175.4" y="268.6"/><use href="#g" x="174.3" y="267.5"/><use href="#g" x="148.6" y="277.3"/><use href="#g" x="147.5" y="276.2"/><use href="#g" x="239.5" y="195.6"/><use href="#g" x="238.4" y="194.5"/><use href="#g" x="233.9" y="246.2"/><use href="#g" x="232.8" y="245.1"/><use href="#g" x="231.7" y="244.0"/><use href="#g" x="228.4" y="192.2"/><use href="#g" x="227.3" y="191.1"/><use href="#g" x="226.2" y="190.0"/><use href="#g" x="225.1" y="188.9"/><use href="#g" x="158.9" y="207.7"/><use href="#g" x="157.8" y="206.6"/><use href="#g" x="156.7" y="205.5"/><use href="#g" x="155.6" y="204.4"/><use href="#g" x="154.5" y="203.3"/><use href="#g" x="153.4" y="202.2"/><use href="#g" x="133.8" y="196.1"/><use href="#g" x="132.7" y="195.0"/><use href="#g" x="131.6" y="193.9"/><use href="#g" x="182.5" y="267.3"/><use href="#g" x="181.4" y="266.2"/><use href="#g" x="180.3" y="265.1"/><use href="#g" x="179.2" y="264.0"/><use href="#g" x="178.1" y="262.9"/><use href="#g" x="211.4" y="253.5"/><use href="#g" x="210.3" y="252.4"/><use href="#g" x="209.2" y="251.3"/><use href="#g" x="208.1" y="250.2"/><use href="#g" x="207.0" y="249.1"/><use href="#g" x="205.9" y="248.0"/><use href="#g" x="134.1" y="268.7"/><use href="#g" x="133.0" y="267.6"/><use href="#g" x="131.9" y="266.5"/><use href="#g" x="130.8" y="265.4"/><use href="#g" x="239.9" y="251.0"/><use href="#g" x="238.8" y="249.9"/><use href="#g" x="237.7" y="248.8"/><use href="#g" x="236.6" y="247.7"/><use href="#g" x="235.5" y="246.6"/><use href="#g" x="234.4" y="245.5"/><use href="#g" x="211.8" y="207.7"/><use href="#g" x="210.7" y="206.6"/><use href="#g" x="209.6" y="205.5"/><use href="#g" x="179.3" y="244.9"/><use href="#g" x="178.2" y="243.8"/><use href="#g" x="177.1" y="242.7"/><use href="#g" x="176.0" y="241.6"/><use href="#g" x="174.9" y="240.5"/><use href="#g" x="173.8" y="239.4"/><use href="#g" x="188.5" y="191.3"/><use href="#g" x="187.4" y="190.2"/><use href="#g" x="207.7" y="210.2"/><use href="#g" x="206.6" y="209.1"/><use href="#g" x="205.5" y="208.0"/><use href="#g" x="204.4" y="206.9"/><use href="#g" x="203.3" y="205.8"/><use href="#g" x="202.2" y="204.7"/><use href="#g" x="189.0" y="209.2"/><use href="#g" x="187.9" y="208.1"/><use href="#g" x="186.8" y="207.0"/><use href="#g" x="185.7" y="205.9"/><use href="#g" x="129.4" y="188.8"/><use href="#g" x="128.3" y="187.7"/><use href="#g" x="127.2" y="186.6"/><use href="#g" x="179.1" y="265.4"/><use href="#g" x="178.0" y="264.3"/><use href="#g" x="176.9" y="263.2"/><use href="#g" x="175.8" y="262.1"/><use href="#g" x="174.7" y="261.0"/><use href="#g" x="173.6" y="259.9"/><use href="#g" x="173.9" y="184.2"/><use href="#g" x="172.8" y="183.1"/><use href="#g" x="171.7" y="182.0"/><use href="#g" x="170.6" y="180.9"/><use href="#g" x="169.5" y="179.8"/><use href="#g" x="168.4" y="178.7"/><use href="#g" x="263.6" y="211.6"/><use href="#g" x="262.5" y="210.5"/><use href="#g" x="209.4" y="193.6"/><use href="#g" x="208.3" y="192.5"/><use href="#g" x="207.2" y="191.4"/><use href="#g" x="206.1" y="190.3"/><use href="#g" x="205.0" y="189.2"/><use href="#g" x="203.9" y="188.1"/><use href="#g" x="140.9" y="212.5"/><use href="#g" x="139.8" y="211.4"/><use href="#g" x="185.7" y="166.5"/><use href="#g" x="158.9" y="262.8"/><use href="#g" x="157.8" y="261.7"/><use href="#g" x="156.7" y="260.6"/><use href="#g" x="155.6" y="259.5"/><use href="#g" x="149.7" y="249.9"/><use href="#g" x="148.6" y="248.8"/><use href="#g" x="147.5" y="247.7"/><use href="#g" x="146.4" y="246.6"/><use href="#g" x="145.3" y="245.5"/><use href="#g" x="144.2" y="244.4"/><use href="#g" x="280.2" y="203.2"/><use href="#g" x="279.1" y="202.1"/><use href="#g" x="278.0" y="201.0"/><use href="#g" x="276.9" y="199.9"/><use href="#g" x="275.8" y="198.8"/><use href="#g" x="163.7" y="266.8"/><use href="#g" x="162.6" y="265.7"/><use href="#g" x="157.3" y="192.1"/><use href="#g" x="156.2" y="191.0"/><use href="#g" x="155.1" y="189.9"/><use href="#g" x="154.0" y="188.8"/><use href="#g" x="152.9" y="187.7"/><use href="#g" x="169.1" y="196.1"/><use href="#g" x="168.0" y="195.0"/><use href="#g" x="166.9" y="193.9"/><use href="#g" x="165.8" y="192.8"/><use href="#g" x="164.7" y="191.7"/><use href="#g" x="129.9" y="274.2"/><use href="#g" x="128.8" y="273.1"/><use href="#g" x="127.7" y="272.0"/><use href="#g" x="126.6" y="270.9"/><use href="#g" x="238.0" y="204.7"/><use href="#g" x="236.9" y="203.6"/><use href="#g" x="235.8" y="202.5"/><use href="#g" x="234.7" y="201.4"/><use href="#g" x="233.6" y="200.3"/><use href="#g" x="141.7" y="237.7"/><use href="#g" x="140.6" y="236.6"/><use href="#g" x="147.6" y="173.2"/><use href="#g" x="146.5" y="172.1"/><use href="#g" x="145.4" y="171.0"/><use href="#g" x="178.0" y="240.0"/><use href="#g" x="176.9" y="238.9"/><use href="#g" x="175.8" y="237.8"/><use href="#g" x="139.9" y="251.3"/><use href="#g" x="138.8" y="250.2"/><use href="#g" x="137.7" y="249.1"/><use href="#g" x="136.6" y="248.0"/><use href="#g" x="135.5" y="246.9"/><use href="#g" x="134.4" y="245.8"/><use href="#g" x="276.5" y="210.1"/><use href="#g" x="275.4" y="209.0"/><use href="#g" x="274.3" y="207.9"/><use href="#g" x="273.2" y="206.8"/><use href="#g" x="272.1" y="205.7"/><use href="#g" x="271.0" y="204.6"/><use href="#g" x="170.8" y="270.3"/><use href="#g" x="169.7" y="269.2"/><use href="#g" x="168.6" y="268.1"/><use href="#g" x="167.5" y="267.0"/><use href="#g" x="166.4" y="265.9"/><use href="#g" x="165.3" y="264.8"/><use href="#g" x="142.2" y="197.6"/><use href="#g" x="141.1" y="196.5"/><use href="#g" x="140.0" y="195.4"/><use href="#g" x="136.3" y="275.6"/><use href="#g" x="135.2" y="274.5"/><use href="#g" x="134.1" y="273.4"/><use href="#g" x="133.0" y="272.3"/><use href="#g" x="131.9" y="271.2"/><use href="#g" x="250.2" y="207.2"/><use href="#g" x="249.1" y="206.1"/><use href="#g" x="274.3" y="209.5"/><use href="#g" x="273.2" y="208.4"/><use href="#g" x="272.1" y="207.3"/><use href="#g" x="271.0" y="206.2"/><use href="#g" x="149.8" y="177.6"/><use href="#g" x="148.7" y="176.5"/><use href="#g" x="153.9" y="260.4"/><use href="#g" x="152.8" y="259.3"/><use href="#g" x="151.7" y="258.2"/><use href="#g" x="150.6" y="257.1"/><use href="#g" x="149.5" y="256.0"/><use href="#g" x="148.4" y="254.9"/><use href="#g" x="168.7" y="240.4"/><use href="#g" x="167.6" y="239.3"/><use href="#g" x="166.5" y="238.2"/><use href="#g" x="165.4" y="237.1"/><use href="#g" x="164.3" y="236.0"/><use href="#g" x="163.2" y="234.9"/><use href="#g" x="177.0" y="177.7"/><use href="#g" x="175.9" y="176.6"/><use href="#g" x="147.0" y="249.7"/><use href="#g" x="145.9" y="248.6"/><use href="#g" x="144.8" y="247.5"/><use href="#g" x="143.7" y="246.4"/><use href="#g" x="142.6" y="245.3"/><use href="#g" x="258.6" y="203.4"/><use href="#g" x="257.5" y="202.3"/><use href="#g" x="141.9" y="268.3"/><use href="#g" x="140.8" y="267.2"/><use href="#g" x="139.7" y="266.1"/><use href="#g" x="138.6" y="265.0"/><use href="#g" x="137.5" y="263.9"/><use href="#g" x="269.6" y="211.3"/><use href="#g" x="268.5" y="210.2"/><use href="#g" x="267.4" y="209.1"/><use href="#g" x="266.3" y="208.0"/><use href="#g" x="122.2" y="199.1"/><use href="#g" x="142.5" y="235.8"/><use href="#g" x="161.0" y="249.3"/><use href="#g" x="159.9" y="248.2"/><use href="#g" x="158.8" y="247.1"/><use href="#g" x="157.7" y="246.0"/><use href="#g" x="156.6" y="244.9"/><use href="#g" x="155.5" y="243.8"/><use href="#g" x="198.5" y="266.4"/><use href="#g" x="197.4" y="265.3"/><use href="#g" x="196.3" y="264.2"/><use href="#g" x="176.9" y="229.5"/><use href="#g" x="175.8" y="228.4"/><use href="#g" x="174.7" y="227.3"/><use href="#g" x="173.6" y="226.2"/><use href="#g" x="153.9" y="255.9"/><use href="#g" x="152.8" y="254.8"/><use href="#g" x="126.9" y="274.3"/><use href="#g" x="188.9" y="196.3"/><use href="#g" x="187.8" y="195.2"/><use href="#g" x="186.7" y="194.1"/><use href="#g" x="185.6" y="193.0"/><use href="#g" x="184.5" y="191.9"/><use href="#g" x="130.1" y="209.6"/><use href="#g" x="129.0" y="208.5"/><use href="#g" x="201.8" y="255.4"/><use href="#g" x="200.7" y="254.3"/><use href="#g" x="199.6" y="253.2"/><use href="#g" x="198.5" y="252.1"/><use href="#g" x="170.5" y="253.9"/><use href="#g" x="169.4" y="252.8"/><use href="#g" x="168.3" y="251.7"/><use href="#g" x="167.2" y="250.6"/><use href="#g" x="166.1" y="249.5"/><use href="#g" x="188.3" y="218.3"/><use href="#g" x="187.2" y="217.2"/><use href="#g" x="186.1" y="216.1"/><use href="#g" x="185.0" y="215.0"/><use href="#g" x="183.9" y="213.9"/><use href="#g" x="144.3" y="255.2"/><use href="#g" x="143.2" y="254.1"/><use href="#g" x="142.1" y="253.0"/><use href="#g" x="141.0" y="251.9"/><use href="#g" x="139.9" y="250.8"/><use href="#g" x="134.4" y="250.9"/><use href="#g" x="133.3" y="249.8"/><use href="#g" x="132.2" y="248.7"/><use href="#g" x="131.1" y="247.6"/><use href="#g" x="209.1" y="253.6"/><use href="#g" x="208.0" y="252.5"/><use href="#g" x="206.9" y="251.4"/><use href="#g" x="205.8" y="250.3"/><use href="#g" x="204.7" y="249.2"/><use href="#g" x="165.4" y="238.8"/><use href="#g" x="164.3" y="237.7"/><use href="#g" x="163.2" y="236.6"/><use href="#g" x="175.2" y="212.3"/><use href="#g" x="174.1" y="211.2"/><use href="#g" x="200.0" y="189.5"/><use href="#g" x="198.9" y="188.4"/><use href="#g" x="197.8" y="187.3"/><use href="#g" x="196.7" y="186.2"/><use href="#g" x="195.6" y="185.1"/><use href="#g" x="162.9" y="263.7"/><use href="#g" x="161.8" y="262.6"/><use href="#g" x="160.7" y="261.5"/><use href="#g" x="159.6" y="260.4"/><use href="#g" x="158.5" y="259.3"/><use href="#g" x="189.4" y="200.6"/><use href="#g" x="188.3" y="199.5"/><use href="#g" x="187.2" y="198.4"/><use href="#g" x="276.3" y="197.9"/><use href="#g" x="275.2" y="196.8"/><use href="#g" x="274.1" y="195.7"/><use href="#g" x="247.7" y="202.0"/><use href="#g" x="246.6" y="200.9"/><use href="#g" x="245.5" y="199.8"/><use href="#g" x="244.4" y="198.7"/><use href="#g" x="243.3" y="197.6"/><use href="#g" x="190.3" y="189.4"/><use href="#g" x="189.2" y="188.3"/><use href="#g" x="188.1" y="187.2"/><use href="#g" x="187.0" y="186.1"/><use href="#g" x="202.5" y="179.6"/><use href="#g" x="201.4" y="178.5"/><use href="#g" x="200.3" y="177.4"/><use href="#g" x="199.2" y="176.3"/><use href="#g" x="198.1" y="175.2"/><use href="#g" x="179.0" y="203.4"/><use href="#g" x="177.9" y="202.3"/><use href="#g" x="176.8" y="201.2"/><use href="#g" x="175.7" y="200.1"/><use href="#g" x="174.6" y="199.0"/><use href="#g" x="173.5" y="197.9"/><use href="#g" x="171.6" y="242.8"/><use href="#g" x="170.5" y="241.7"/><use href="#g" x="169.4" y="240.6"/><use href="#g" x="191.9" y="243.3"/><use href="#g" x="190.8" y="242.2"/><use href="#g" x="186.9" y="263.6"/><use href="#g" x="185.8" y="262.5"/><use href="#g" x="184.7" y="261.4"/><use href="#g" x="190.0" y="259.8"/><use href="#g" x="188.9" y="258.7"/><use href="#g" x="187.8" y="257.6"/><use href="#g" x="167.3" y="257.2"/><use href="#g" x="166.2" y="256.1"/><use href="#g" x="165.1" y="255.0"/><use href="#g" x="164.0" y="253.9"/><use href="#g" x="162.9" y="252.8"/><use href="#g" x="206.5" y="249.5"/><use href="#g" x="205.4" y="248.4"/><use href="#g" x="204.3" y="247.3"/><use href="#g" x="160.9" y="181.7"/><use href="#g" x="159.8" y="180.6"/><use href="#g" x="158.7" y="179.5"/><use href="#g" x="157.6" y="178.4"/><use href="#g" x="156.5" y="177.3"/><use href="#g" x="148.5" y="201.1"/><use href="#g" x="147.4" y="200.0"/><use href="#g" x="134.8" y="242.2"/><use href="#g" x="133.7" y="241.1"/><use href="#g" x="128.0" y="262.6"/><use href="#g" x="126.9" y="261.5"/><use href="#g" x="125.8" y="260.4"/><use href="#g" x="124.7" y="259.3"/><use href="#g" x="144.1" y="235.5"/><use href="#g" x="183.5" y="247.2"/><use href="#g" x="182.4" y="246.1"/><use href="#g" x="181.3" y="245.0"/><use href="#g" x="180.2" y="243.9"/><use href="#g" x="179.1" y="242.8"/><use href="#g" x="168.7" y="203.0"/><use href="#g" x="167.6" y="201.9"/><use href="#g" x="166.5" y="200.8"/><use href="#g" x="190.1" y="188.2"/><use href="#g" x="189.0" y="187.1"/><use href="#g" x="187.9" y="186.0"/><use href="#g" x="186.8" y="184.9"/><use href="#g" x="185.7" y="183.8"/><use href="#g" x="184.6" y="182.7"/><use href="#g" x="142.1" y="278.5"/><use href="#g" x="141.0" y="277.4"/><use href="#g" x="147.4" y="246.7"/><use href="#g" x="146.3" y="245.6"/><use href="#g" x="145.2" y="244.5"/><use href="#g" x="150.9" y="196.9"/><use href="#g" x="149.8" y="195.8"/><use href="#g" x="152.9" y="189.3"/><use href="#g" x="151.8" y="188.2"/><use href="#g" x="150.7" y="187.1"/><use href="#g" x="149.6" y="186.0"/><use href="#g" x="178.9" y="208.6"/><use href="#g" x="177.8" y="207.5"/><use href="#g" x="191.5" y="198.3"/><use href="#g" x="190.4" y="197.2"/><use href="#g" x="189.3" y="196.1"/><use href="#g" x="188.2" y="195.0"/><use href="#g" x="149.3" y="266.1"/><use href="#g" x="148.2" y="265.0"/><use href="#g" x="147.1" y="263.9"/><use href="#g" x="258.8" y="211.6"/><use href="#g" x="257.7" y="210.5"/><use href="#g" x="256.6" y="209.4"/><use href="#g" x="147.9" y="238.7"/><use href="#g" x="146.8" y="237.6"/><use href="#g" x="145.7" y="236.5"/><use href="#g" x="144.6" y="235.4"/><use href="#g" x="137.5" y="207.6"/><use href="#g" x="136.4" y="206.5"/><use href="#g" x="135.3" y="205.4"/><use href="#g" x="182.5" y="207.9"/><use href="#g" x="181.4" y="206.8"/><use href="#g" x="180.3" y="205.7"/><use href="#g" x="179.2" y="204.6"/><use href="#g" x="178.1" y="203.5"/><use href="#g" x="245.2" y="245.8"/><use href="#g" x="244.1" y="244.7"/><use href="#g" x="243.0" y="243.6"/><use href="#g" x="241.9" y="242.5"/><use href="#g" x="166.0" y="179.0"/><use href="#g" x="164.9" y="177.9"/><use href="#g" x="163.8" y="176.8"/><use href="#g" x="162.7" y="175.7"/><use href="#g" x="161.6" y="174.6"/><use href="#g" x="279.1" y="198.7"/><use href="#g" x="278.0" y="197.6"/><use href="#g" x="276.9" y="196.5"/><use href="#g" x="275.8" y="195.4"/><use href="#g" x="153.1" y="248.1"/><use href="#g" x="152.0" y="247.0"/><use href="#g" x="150.9" y="245.9"/><use href="#g" x="149.8" y="244.8"/><use href="#g" x="148.7" y="243.7"/><use href="#g" x="201.2" y="197.6"/><use href="#g" x="200.1" y="196.5"/><use href="#g" x="252.6" y="209.3"/><use href="#g" x="251.5" y="208.2"/><use href="#g" x="250.4" y="207.1"/><use href="#g" x="249.3" y="206.0"/><use href="#g" x="186.8" y="271.0"/><use href="#g" x="185.7" y="269.9"/><use href="#g" x="184.6" y="268.8"/><use href="#g" x="183.5" y="267.7"/><use href="#g" x="141.6" y="182.0"/><use href="#g" x="140.5" y="180.9"/><use href="#g" x="139.4" y="179.8"/><use href="#g" x="138.3" y="178.7"/><use href="#g" x="137.2" y="177.6"/><use href="#g" x="178.0" y="234.2"/><use href="#g" x="176.9" y="233.1"/><use href="#g" x="233.9" y="200.1"/><use href="#g" x="232.8" y="199.0"/><use href="#g" x="231.7" y="197.9"/><use href="#g" x="230.6" y="196.8"/><use href="#g" x="229.5" y="195.7"/><use href="#g" x="228.4" y="194.6"/><use href="#g" x="158.2" y="194.2"/><use href="#g" x="157.1" y="193.1"/><use href="#g" x="156.0" y="192.0"/><use href="#g" x="154.9" y="190.9"/><use href="#g" x="153.8" y="189.8"/><use href="#g" x="152.7" y="188.7"/><use href="#g" x="215.6" y="244.9"/><use href="#g" x="214.5" y="243.8"/><use href="#g" x="138.2" y="246.5"/><use href="#g" x="137.1" y="245.4"/><use href="#g" x="136.0" y="244.3"/><use href="#g" x="134.9" y="243.2"/><use href="#g" x="239.2" y="243.4"/><use href="#g" x="187.2" y="262.4"/><use href="#g" x="186.1" y="261.3"/><use href="#g" x="185.0" y="260.2"/><use href="#g" x="183.9" y="259.1"/><use href="#g" x="182.8" y="258.0"/><use href="#g" x="181.7" y="256.9"/><use href="#g" x="182.0" y="194.7"/><use href="#g" x="180.9" y="193.6"/><use href="#g" x="179.8" y="192.5"/><use href="#g" x="159.5" y="168.8"/><use href="#g" x="158.4" y="167.7"/><use href="#g" x="173.3" y="251.0"/><use href="#g" x="172.2" y="249.9"/><use href="#g" x="171.1" y="248.8"/><use href="#g" x="170.0" y="247.7"/><use href="#g" x="168.9" y="246.6"/><use href="#g" x="167.8" y="245.5"/><use href="#g" x="183.6" y="274.6"/><use href="#g" x="182.5" y="273.5"/><use href="#g" x="181.4" y="272.4"/><use href="#g" x="180.3" y="271.3"/><use href="#g" x="179.2" y="270.2"/><use href="#g" x="162.4" y="257.1"/><use href="#g" x="161.3" y="256.0"/><use href="#g" x="160.2" y="254.9"/><use href="#g" x="159.1" y="253.8"/><use href="#g" x="161.6" y="202.3"/><use href="#g" x="160.5" y="201.2"/><use href="#g" x="159.4" y="200.1"/><use href="#g" x="252.6" y="198.5"/><use href="#g" x="251.5" y="197.4"/><use href="#g" x="250.4" y="196.3"/><use href="#g" x="249.3" y="195.2"/><use href="#g" x="248.2" y="194.1"/><use href="#g" x="247.1" y="193.0"/><use href="#g" x="159.1" y="255.4"/><use href="#g" x="158.0" y="254.3"/><use href="#g" x="156.9" y="253.2"/><use href="#g" x="155.8" y="252.1"/><use href="#g" x="154.7" y="251.0"/><use href="#g" x="200.8" y="189.3"/><use href="#g" x="199.7" y="188.2"/><use href="#g" x="198.6" y="187.1"/><use href="#g" x="134.5" y="266.2"/><use href="#g" x="133.4" y="265.1"/><use href="#g" x="132.3" y="264.0"/><use href="#g" x="131.2" y="262.9"/><use href="#g" x="130.1" y="261.8"/><use href="#g" x="202.7" y="257.1"/><use href="#g" x="201.6" y="256.0"/><use href="#g" x="200.5" y="254.9"/><use href="#g" x="155.5" y="256.2"/><use href="#g" x="154.4" y="255.1"/><use href="#g" x="153.3" y="254.0"/><use href="#g" x="152.2" y="252.9"/><use href="#g" x="127.7" y="267.4"/><use href="#g" x="126.6" y="266.3"/><use href="#g" x="125.5" y="265.2"/><use href="#g" x="124.4" y="264.1"/><use href="#g" x="217.9" y="189.3"/><use href="#g" x="216.8" y="188.2"/><use href="#g" x="215.7" y="187.1"/><use href="#g" x="123.0" y="248.5"/><use href="#g" x="176.7" y="242.2"/><use href="#g" x="175.6" y="241.1"/><use href="#g" x="174.5" y="240.0"/><use href="#g" x="173.4" y="238.9"/><use href="#g" x="172.3" y="237.8"/><use href="#g" x="171.2" y="236.7"/><use href="#g" x="222.8" y="193.3"/><use href="#g" x="221.7" y="192.2"/><use href="#g" x="220.6" y="191.1"/><use href="#g" x="204.8" y="244.5"/><use href="#g" x="203.7" y="243.4"/><use href="#g" x="202.6" y="242.3"/><use href="#g" x="258.8" y="208.7"/><use href="#g" x="257.7" y="207.6"/><use href="#g" x="256.6" y="206.5"/><use href="#g" x="255.5" y="205.4"/><use href="#g" x="200.1" y="266.2"/><use href="#g" x="199.0" y="265.1"/><use href="#g" x="197.9" y="264.0"/><use href="#g" x="181.6" y="165.9"/><use href="#g" x="134.9" y="251.1"/><use href="#g" x="133.8" y="250.0"/><use href="#g" x="132.7" y="248.9"/><use href="#g" x="131.6" y="247.8"/><use href="#g" x="130.5" y="246.7"/><use href="#g" x="155.9" y="199.5"/><use href="#g" x="154.8" y="198.4"/><use href="#g" x="153.7" y="197.3"/><use href="#g" x="152.6" y="196.2"/><use href="#g" x="151.5" y="195.1"/><use href="#g" x="150.4" y="194.0"/><use href="#g" x="192.7" y="176.4"/><use href="#g" x="191.6" y="175.3"/><use href="#g" x="190.5" y="174.2"/><use href="#g" x="189.4" y="173.1"/><use href="#g" x="125.0" y="192.0"/><use href="#g" x="123.9" y="190.9"/><use href="#g" x="139.4" y="263.6"/><use href="#g" x="138.3" y="262.5"/><use href="#g" x="137.2" y="261.4"/><use href="#g" x="172.9" y="255.3"/><use href="#g" x="171.8" y="254.2"/><use href="#g" x="170.7" y="253.1"/><use href="#g" x="169.6" y="252.0"/><use href="#g" x="143.5" y="256.8"/><use href="#g" x="142.4" y="255.7"/><use href="#g" x="161.7" y="241.2"/><use href="#g" x="160.6" y="240.1"/><use href="#g" x="159.5" y="239.0"/><use href="#g" x="204.2" y="267.8"/><use href="#g" x="203.1" y="266.7"/><use href="#g" x="202.0" y="265.6"/><use href="#g" x="200.9" y="264.5"/><use href="#g" x="199.8" y="263.4"/><use href="#g" x="146.8" y="209.5"/><use href="#g" x="145.7" y="208.4"/><use href="#g" x="144.6" y="207.3"/><use href="#g" x="143.5" y="206.2"/><use href="#g" x="142.4" y="205.1"/><use href="#g" x="159.3" y="237.2"/><use href="#g" x="158.2" y="236.1"/><use href="#g" x="225.3" y="197.6"/><use href="#g" x="224.2" y="196.5"/><use href="#g" x="223.1" y="195.4"/><use href="#g" x="215.8" y="247.9"/><use href="#g" x="214.7" y="246.8"/><use href="#g" x="213.6" y="245.7"/><use href="#g" x="225.8" y="198.5"/><use href="#g" x="224.7" y="197.4"/><use href="#g" x="233.3" y="211.2"/><use href="#g" x="232.2" y="210.1"/><use href="#g" x="231.1" y="209.0"/><use href="#g" x="230.0" y="207.9"/><use href="#g" x="228.9" y="206.8"/><use href="#g" x="161.1" y="273.8"/><use href="#g" x="160.0" y="272.7"/><use href="#g" x="158.9" y="271.6"/><use href="#g" x="157.8" y="270.5"/><use href="#g" x="156.7" y="269.4"/><use href="#g" x="155.6" y="268.3"/><use href="#g" x="181.8" y="203.2"/><use href="#g" x="180.7" y="202.1"/><use href="#g" x="172.1" y="169.4"/><use href="#g" x="171.0" y="168.3"/><use href="#g" x="169.9" y="167.2"/><use href="#g" x="168.8" y="166.1"/><use href="#g" x="196.5" y="202.9"/><use href="#g" x="195.4" y="201.8"/><use href="#g" x="194.3" y="200.7"/><use href="#g" x="193.2" y="199.6"/><use href="#g" x="188.6" y="251.2"/><use href="#g" x="187.5" y="250.1"/><use href="#g" x="186.4" y="249.0"/><use href="#g" x="185.3" y="247.9"/><use href="#g" x="187.4" y="184.4"/><use href="#g" x="186.3" y="183.3"/><use href="#g" x="185.2" y="182.2"/><use href="#g" x="175.8" y="183.9"/><use href="#g" x="174.7" y="182.8"/><use href="#g" x="173.6" y="181.7"/><use href="#g" x="172.5" y="180.6"/><use href="#g" x="212.2" y="189.0"/><use href="#g" x="211.1" y="187.9"/><use href="#g" x="161.3" y="204.8"/><use href="#g" x="160.2" y="203.7"/><use href="#g" x="159.1" y="202.6"/><use href="#g" x="158.0" y="201.5"/><use href="#g" x="129.9" y="271.5"/><use href="#g" x="128.8" y="270.4"/><use href="#g" x="127.7" y="269.3"/><use href="#g" x="126.6" y="268.2"/><use href="#g" x="125.5" y="267.1"/><use href="#g" x="124.4" y="266.0"/><use href="#g" x="159.6" y="195.6"/><use href="#g" x="158.5" y="194.5"/><use href="#g" x="182.3" y="189.0"/><use href="#g" x="181.2" y="187.9"/><use href="#g" x="180.1" y="186.8"/><use href="#g" x="179.0" y="185.7"/><use href="#g" x="177.9" y="184.6"/><use href="#g" x="180.4" y="215.5"/><use href="#g" x="179.3" y="214.4"/><use href="#g" x="132.2" y="241.2"/><use href="#g" x="131.1" y="240.1"/><use href="#g" x="169.4" y="273.2"/><use href="#g" x="168.3" y="272.1"/><use href="#g" x="167.2" y="271.0"/><use href="#g" x="166.1" y="269.9"/><use href="#g" x="165.0" y="268.8"/><use href="#g" x="141.8" y="178.3"/><use href="#g" x="140.7" y="177.2"/><use href="#g" x="139.6" y="176.1"/><use href="#g" x="138.5" y="175.0"/><use href="#g" x="134.5" y="188.8"/><use href="#g" x="133.4" y="187.7"/><use href="#g" x="132.3" y="186.6"/><use href="#g" x="136.8" y="261.3"/><use href="#g" x="135.7" y="260.2"/><use href="#g" x="134.6" y="259.1"/><use href="#g" x="133.5" y="258.0"/><use href="#g" x="207.6" y="253.5"/><use href="#g" x="206.5" y="252.4"/><use href="#g" x="205.4" y="251.3"/><use href="#g" x="204.3" y="250.2"/><use href="#g" x="270.5" y="195.4"/><use href="#g" x="144.3" y="261.0"/><use href="#g" x="143.2" y="259.9"/><use href="#g" x="142.1" y="258.8"/><use href="#g" x="141.0" y="257.7"/><use href="#g" x="139.9" y="256.6"/><use href="#g" x="185.3" y="273.7"/><use href="#g" x="184.2" y="272.6"/><use href="#g" x="183.1" y="271.5"/><use href="#g" x="182.0" y="270.4"/><use href="#g" x="180.9" y="269.3"/><use href="#g" x="172.3" y="191.1"/><use href="#g" x="171.2" y="190.0"/><use href="#g" x="170.1" y="188.9"/><use href="#g" x="169.0" y="187.8"/><use href="#g" x="174.7" y="262.0"/><use href="#g" x="173.6" y="260.9"/><use href="#g" x="205.4" y="260.5"/><use href="#g" x="204.3" y="259.4"/><use href="#g" x="192.3" y="182.3"/><use href="#g" x="191.2" y="181.2"/><use href="#g" x="144.9" y="270.0"/><use href="#g" x="143.8" y="268.9"/><use href="#g" x="215.9" y="196.1"/><use href="#g" x="214.8" y="195.0"/><use href="#g" x="243.9" y="197.3"/><use href="#g" x="242.8" y="196.2"/><use href="#g" x="241.7" y="195.1"/><use href="#g" x="123.8" y="202.8"/><use href="#g" x="122.7" y="201.7"/><use href="#g" x="132.1" y="244.7"/><use href="#g" x="131.0" y="243.6"/><use href="#g" x="129.9" y="242.5"/><use href="#g" x="174.4" y="217.2"/><use href="#g" x="173.3" y="216.1"/><use href="#g" x="172.2" y="215.0"/><use href="#g" x="171.1" y="213.9"/><use href="#g" x="139.9" y="203.8"/><use href="#g" x="138.8" y="202.7"/><use href="#g" x="137.7" y="201.6"/><use href="#g" x="136.6" y="200.5"/><use href="#g" x="171.6" y="268.8"/><use href="#g" x="170.5" y="267.7"/><use href="#g" x="139.4" y="264.1"/><use href="#g" x="138.3" y="263.0"/><use href="#g" x="137.2" y="261.9"/><use href="#g" x="136.1" y="260.8"/><use href="#g" x="135.0" y="259.7"/><use href="#g" x="215.7" y="211.1"/><use href="#g" x="214.6" y="210.0"/><use href="#g" x="213.5" y="208.9"/><use href="#g" x="212.4" y="207.8"/><use href="#g" x="211.3" y="206.7"/><use href="#g" x="210.2" y="205.6"/><use href="#g" x="201.6" y="184.0"/><use href="#g" x="200.5" y="182.9"/><use href="#g" x="199.4" y="181.8"/><use href="#g" x="239.8" y="195.5"/><use href="#g" x="238.7" y="194.4"/><use href="#g" x="237.6" y="193.3"/><use href="#g" x="236.5" y="192.2"/><use href="#g" x="155.9" y="251.5"/><use href="#g" x="154.8" y="250.4"/><use href="#g" x="160.8" y="257.2"/><use href="#g" x="159.7" y="256.1"/><use href="#g" x="158.6" y="255.0"/><use href="#g" x="157.5" y="253.9"/><use href="#g" x="228.6" y="249.9"/><use href="#g" x="227.5" y="248.8"/><use href="#g" x="226.4" y="247.7"/><use href="#g" x="225.3" y="246.6"/><use href="#g" x="224.2" y="245.5"/><use href="#g" x="223.1" y="244.4"/><use href="#g" x="222.0" y="248.3"/><use href="#g" x="220.9" y="247.2"/><use href="#g" x="219.8" y="246.1"/><use href="#g" x="200.2" y="196.1"/><use href="#g" x="199.1" y="195.0"/><use href="#g" x="198.0" y="193.9"/><use href="#g" x="136.7" y="264.0"/><use href="#g" x="135.6" y="262.9"/><use href="#g" x="134.5" y="261.8"/><use href="#g" x="133.4" y="260.7"/><use href="#g" x="132.3" y="259.6"/><use href="#g" x="131.2" y="258.5"/><use href="#g" x="277.5" y="214.4"/><use href="#g" x="276.4" y="213.3"/><use href="#g" x="251.1" y="243.6"/><use href="#g" x="250.0" y="242.5"/><use href="#g" x="248.9" y="241.4"/><use href="#g" x="179.5" y="211.8"/><use href="#g" x="178.4" y="210.7"/><use href="#g" x="156.6" y="263.3"/><use href="#g" x="155.5" y="262.2"/><use href="#g" x="194.6" y="264.0"/><use href="#g" x="193.5" y="262.9"/><use href="#g" x="246.7" y="242.2"/><use href="#g" x="207.0" y="197.8"/><use href="#g" x="205.9" y="196.7"/><use href="#g" x="204.8" y="195.6"/><use href="#g" x="203.7" y="194.5"/><use href="#g" x="204.2" y="211.8"/><use href="#g" x="203.1" y="210.7"/><use href="#g" x="202.0" y="209.6"/><use href="#g" x="200.9" y="208.5"/><use href="#g" x="165.5" y="253.9"/><use href="#g" x="164.4" y="252.8"/><use href="#g" x="161.2" y="241.8"/><use href="#g" x="160.1" y="240.7"/><use href="#g" x="159.0" y="239.6"/><use href="#g" x="157.9" y="238.5"/><use href="#g" x="156.8" y="237.4"/><use href="#g" x="155.7" y="236.3"/><use href="#g" x="169.7" y="190.8"/><use href="#g" x="168.6" y="189.7"/><use href="#g" x="167.5" y="188.6"/><use href="#g" x="166.4" y="187.5"/><use href="#g" x="165.3" y="186.4"/><use href="#g" x="176.3" y="220.6"/><use href="#g" x="175.2" y="219.5"/><use href="#g" x="174.1" y="218.4"/><use href="#g" x="173.0" y="217.3"/><use href="#g" x="141.4" y="266.9"/><use href="#g" x="140.3" y="265.8"/><use href="#g" x="139.2" y="264.7"/><use href="#g" x="138.1" y="263.6"/><use href="#g" x="137.0" y="262.5"/><use href="#g" x="135.9" y="261.4"/><use href="#g" x="217.6" y="243.6"/><use href="#g" x="144.3" y="235.3"/><use href="#g" x="205.7" y="204.7"/><use href="#g" x="204.6" y="203.6"/><use href="#g" x="203.5" y="202.5"/><use href="#g" x="202.4" y="201.4"/><use href="#g" x="201.3" y="200.3"/><use href="#g" x="172.3" y="174.1"/><use href="#g" x="171.2" y="173.0"/><use href="#g" x="227.3" y="193.4"/><use href="#g" x="226.2" y="192.3"/><use href="#g" x="225.1" y="191.2"/><use href="#g" x="224.0" y="190.1"/><use href="#g" x="222.9" y="189.0"/><use href="#g" x="221.8" y="187.9"/><use href="#g" x="230.9" y="191.8"/><use href="#g" x="229.8" y="190.7"/><use href="#g" x="228.7" y="189.6"/><use href="#g" x="227.6" y="188.5"/><use href="#g" x="217.7" y="210.6"/><use href="#g" x="216.6" y="209.5"/><use href="#g" x="168.5" y="214.2"/><use href="#g" x="167.4" y="213.1"/><use href="#g" x="178.4" y="219.9"/><use href="#g" x="177.3" y="218.8"/><use href="#g" x="176.2" y="217.7"/><use href="#g" x="175.1" y="216.6"/><use href="#g" x="174.0" y="215.5"/><use href="#g" x="263.2" y="204.9"/><use href="#g" x="262.1" y="203.8"/><use href="#g" x="261.0" y="202.7"/><use href="#g" x="173.9" y="204.0"/><use href="#g" x="172.8" y="202.9"/><use href="#g" x="171.7" y="201.8"/><use href="#g" x="170.6" y="200.7"/><use href="#g" x="169.5" y="199.6"/><use href="#g" x="190.0" y="170.9"/><use href="#g" x="188.9" y="169.8"/><use href="#g" x="187.8" y="168.7"/><use href="#g" x="186.7" y="167.6"/><use href="#g" x="185.6" y="166.5"/><use href="#g" x="145.2" y="252.9"/><use href="#g" x="144.1" y="251.8"/><use href="#g" x="198.6" y="262.5"/><use href="#g" x="197.5" y="261.4"/><use href="#g" x="196.4" y="260.3"/><use href="#g" x="195.3" y="259.2"/><use href="#g" x="194.2" y="258.1"/><use href="#g" x="193.1" y="257.0"/><use href="#g" x="176.8" y="259.9"/><use href="#g" x="175.7" y="258.8"/><use href="#g" x="174.6" y="257.7"/><use href="#g" x="173.5" y="256.6"/><use href="#g" x="172.4" y="255.5"/><use href="#g" x="171.3" y="254.4"/><use href="#g" x="166.9" y="210.7"/><use href="#g" x="165.8" y="209.6"/><use href="#g" x="185.7" y="241.6"/><use href="#g" x="184.6" y="240.5"/><use href="#g" x="148.9" y="249.0"/><use href="#g" x="147.8" y="247.9"/><use href="#g" x="151.1" y="175.6"/><use href="#g" x="150.0" y="174.5"/><use href="#g" x="148.9" y="173.4"/><use href="#g" x="147.8" y="172.3"/><use href="#g" x="146.7" y="171.2"/><use href="#g" x="189.8" y="244.8"/><use href="#g" x="188.7" y="243.7"/><use href="#g" x="144.5" y="272.7"/><use href="#g" x="143.4" y="271.6"/><use href="#g" x="136.4" y="191.8"/><use href="#g" x="135.3" y="190.7"/><use href="#g" x="134.2" y="189.6"/><use href="#g" x="133.1" y="188.5"/><use href="#g" x="132.0" y="187.4"/><use href="#g" x="130.9" y="186.3"/><use href="#g" x="197.6" y="210.8"/><use href="#g" x="196.5" y="209.7"/><use href="#g" x="195.4" y="208.6"/><use href="#g" x="194.3" y="207.5"/><use href="#g" x="193.2" y="206.4"/><use href="#g" x="135.7" y="179.3"/><use href="#g" x="134.6" y="178.2"/><use href="#g" x="133.5" y="177.1"/><use href="#g" x="132.4" y="176.0"/><use href="#g" x="199.9" y="181.2"/><use href="#g" x="198.8" y="180.1"/><use href="#g" x="197.7" y="179.0"/><use href="#g" x="196.6" y="177.9"/><use href="#g" x="195.5" y="176.8"/><use href="#g" x="278.2" y="208.7"/><use href="#g" x="277.1" y="207.6"/><use href="#g" x="276.0" y="206.5"/><use href="#g" x="274.9" y="205.4"/><use href="#g" x="169.5" y="181.7"/><use href="#g" x="168.4" y="180.6"/><use href="#g" x="167.3" y="179.5"/><use href="#g" x="163.6" y="192.8"/><use href="#g" x="162.5" y="191.7"/><use href="#g" x="161.4" y="190.6"/><use href="#g" x="160.3" y="189.5"/><use href="#g" x="161.4" y="171.7"/><use href="#g" x="160.3" y="170.6"/><use href="#g" x="159.2" y="169.5"/><use href="#g" x="158.1" y="168.4"/><use href="#g" x="157.0" y="167.3"/><use href="#g" x="167.5" y="171.4"/><use href="#g" x="166.4" y="170.3"/><use href="#g" x="165.3" y="169.2"/><use href="#g" x="164.2" y="168.1"/><use href="#g" x="163.1" y="167.0"/><use href="#g" x="140.0" y="247.2"/><use href="#g" x="138.9" y="246.1"/><use href="#g" x="202.9" y="209.8"/><use href="#g" x="201.8" y="208.7"/><use href="#g" x="200.7" y="207.6"/><use href="#g" x="199.6" y="206.5"/><use href="#g" x="171.4" y="208.0"/><use href="#g" x="170.3" y="206.9"/><use href="#g" x="169.2" y="205.8"/><use href="#g" x="168.1" y="204.7"/><use href="#g" x="167.0" y="203.6"/><use href="#g" x="165.9" y="202.5"/><use href="#g" x="170.0" y="172.0"/><use href="#g" x="168.9" y="170.9"/><use href="#g" x="167.8" y="169.8"/><use href="#g" x="166.7" y="168.7"/><use href="#g" x="142.5" y="238.3"/><use href="#g" x="141.4" y="237.2"/><use href="#g" x="140.3" y="236.1"/><use href="#g" x="132.1" y="208.7"/><use href="#g" x="131.0" y="207.6"/><use href="#g" x="129.9" y="206.5"/><use href="#g" x="128.8" y="205.4"/><use href="#g" x="127.7" y="204.3"/><use href="#g" x="145.8" y="243.2"/><use href="#g" x="144.7" y="242.1"/><use href="#g" x="143.6" y="241.0"/><use href="#g" x="142.5" y="239.9"/><use href="#g" x="233.9" y="194.6"/><use href="#g" x="232.8" y="193.5"/><use href="#g" x="231.7" y="192.4"/><use href="#g" x="136.2" y="277.1"/><use href="#g" x="135.1" y="276.0"/><use href="#g" x="134.0" y="274.9"/><use href="#g" x="168.6" y="267.3"/><use href="#g" x="167.5" y="266.2"/><use href="#g" x="166.4" y="265.1"/><use href="#g" x="201.1" y="193.0"/><use href="#g" x="200.0" y="191.9"/><use href="#g" x="198.9" y="190.8"/><use href="#g" x="206.6" y="185.9"/><use href="#g" x="205.5" y="184.8"/><use href="#g" x="204.4" y="183.7"/><use href="#g" x="203.3" y="182.6"/><use href="#g" x="202.2" y="181.5"/><use href="#g" x="210.0" y="261.1"/><use href="#g" x="208.9" y="260.0"/><use href="#g" x="207.8" y="258.9"/><use href="#g" x="144.0" y="272.7"/><use href="#g" x="142.9" y="271.6"/><use href="#g" x="141.8" y="270.5"/><use href="#g" x="140.7" y="269.4"/><use href="#g" x="139.6" y="268.3"/><use href="#g" x="138.5" y="267.2"/><use href="#g" x="194.1" y="269.5"/><use href="#g" x="193.0" y="268.4"/><use href="#g" x="191.9" y="267.3"/><use href="#g" x="190.8" y="266.2"/><use href="#g" x="189.7" y="265.1"/><use href="#g" x="135.7" y="246.7"/><use href="#g" x="134.6" y="245.6"/><use href="#g" x="133.5" y="244.5"/><use href="#g" x="132.4" y="243.4"/><use href="#g" x="131.3" y="242.3"/><use href="#g" x="143.7" y="277.2"/><use href="#g" x="142.6" y="276.1"/><use href="#g" x="141.5" y="275.0"/><use href="#g" x="194.7" y="250.9"/><use href="#g" x="193.6" y="249.8"/><use href="#g" x="168.5" y="170.7"/><use href="#g" x="167.4" y="169.6"/><use href="#g" x="217.6" y="202.2"/><use href="#g" x="216.5" y="201.1"/><use href="#g" x="172.7" y="205.4"/><use href="#g" x="171.6" y="204.3"/><use href="#g" x="170.5" y="203.2"/><use href="#g" x="169.4" y="202.1"/><use href="#g" x="168.3" y="201.0"/><use href="#g" x="167.2" y="199.9"/><use href="#g" x="232.2" y="205.1"/><use href="#g" x="231.1" y="204.0"/><use href="#g" x="230.0" y="202.9"/><use href="#g" x="228.9" y="201.8"/><use href="#g" x="172.5" y="270.0"/><use href="#g" x="171.4" y="268.9"/><use href="#g" x="170.3" y="267.8"/><use href="#g" x="192.4" y="198.8"/><use href="#g" x="191.3" y="197.7"/><use href="#g" x="190.2" y="196.6"/><use href="#g" x="189.1" y="195.5"/><use href="#g" x="188.0" y="194.4"/><use href="#g" x="177.2" y="193.4"/><use href="#g" x="176.1" y="192.3"/><use href="#g" x="175.0" y="191.2"/><use href="#g" x="173.9" y="190.1"/><use href="#g" x="172.8" y="189.0"/><use href="#g" x="171.7" y="187.9"/><use href="#g" x="183.8" y="217.0"/><use href="#g" x="182.7" y="215.9"/><use href="#g" x="181.6" y="214.8"/><use href="#g" x="147.3" y="189.3"/><use href="#g" x="146.2" y="188.2"/><use href="#g" x="132.9" y="178.2"/><use href="#g" x="131.8" y="177.1"/><use href="#g" x="186.5" y="237.6"/><use href="#g" x="185.4" y="236.5"/><use href="#g" x="184.3" y="235.4"/><use href="#g" x="183.2" y="234.3"/><use href="#g" x="182.1" y="233.2"/><use href="#g" x="130.7" y="238.2"/><use href="#g" x="254.6" y="202.6"/><use href="#g" x="253.5" y="201.5"/><use href="#g" x="252.4" y="200.4"/><use href="#g" x="251.3" y="199.3"/><use href="#g" x="194.6" y="192.8"/><use href="#g" x="193.5" y="191.7"/><use href="#g" x="156.5" y="267.7"/><use href="#g" x="155.4" y="266.6"/><use href="#g" x="154.3" y="265.5"/><use href="#g" x="153.2" y="264.4"/><use href="#g" x="152.1" y="263.3"/><use href="#g" x="151.0" y="262.2"/><use href="#g" x="164.8" y="207.5"/><use href="#g" x="163.7" y="206.4"/><use href="#g" x="162.6" y="205.3"/><use href="#g" x="278.8" y="203.1"/><use href="#g" x="277.7" y="202.0"/><use href="#g" x="276.6" y="200.9"/><use href="#g" x="243.8" y="207.1"/><use href="#g" x="242.7" y="206.0"/><use href="#g" x="172.0" y="210.3"/><use href="#g" x="170.9" y="209.2"/><use href="#g" x="169.8" y="208.1"/><use href="#g" x="168.7" y="207.0"/><use href="#g" x="167.6" y="205.9"/><use href="#g" x="166.5" y="204.8"/><use href="#g" x="247.1" y="247.1"/><use href="#g" x="246.0" y="246.0"/><use href="#g" x="244.9" y="244.9"/><use href="#g" x="243.8" y="243.8"/><use href="#g" x="174.8" y="240.1"/><use href="#g" x="173.7" y="239.0"/><use href="#g" x="172.6" y="237.9"/><use href="#g" x="171.5" y="236.8"/><use href="#g" x="170.4" y="235.7"/><use href="#g" x="169.3" y="234.6"/><use href="#g" x="149.2" y="184.6"/><use href="#g" x="148.1" y="183.5"/><use href="#g" x="147.0" y="182.4"/><use href="#g" x="145.9" y="181.3"/><use href="#g" x="144.8" y="180.2"/><use href="#g" x="189.9" y="201.7"/><use href="#g" x="188.8" y="200.6"/><use href="#g" x="187.7" y="199.5"/><use href="#g" x="186.6" y="198.4"/><use href="#g" x="123.7" y="250.0"/><use href="#g" x="122.6" y="248.9"/><use href="#g" x="143.8" y="189.4"/><use href="#g" x="142.7" y="188.3"/><use href="#g" x="156.1" y="207.7"/><use href="#g" x="155.0" y="206.6"/><use href="#g" x="226.6" y="204.1"/><use href="#g" x="225.5" y="203.0"/><use href="#g" x="224.4" y="201.9"/><use href="#g" x="223.3" y="200.8"/><use href="#g" x="222.2" y="199.7"/><use href="#g" x="209.1" y="259.5"/><use href="#g" x="208.0" y="258.4"/><use href="#g" x="206.9" y="257.3"/><use href="#g" x="193.1" y="254.1"/><use href="#g" x="192.0" y="253.0"/><use href="#g" x="157.0" y="185.0"/><use href="#g" x="155.9" y="183.9"/><use href="#g" x="154.8" y="182.8"/><use href="#g" x="153.7" y="181.7"/><use href="#g" x="195.8" y="171.2"/><use href="#g" x="194.7" y="170.1"/><use href="#g" x="193.6" y="169.0"/><use href="#g" x="192.5" y="167.9"/><use href="#g" x="149.0" y="258.2"/><use href="#g" x="147.9" y="257.1"/><use href="#g" x="146.8" y="256.0"/><use href="#g" x="145.7" y="254.9"/><use href="#g" x="183.3" y="214.4"/><use href="#g" x="182.2" y="213.3"/><use href="#g" x="181.1" y="212.2"/><use href="#g" x="189.8" y="252.7"/><use href="#g" x="188.7" y="251.6"/><use href="#g" x="130.6" y="204.2"/><use href="#g" x="129.5" y="203.1"/><use href="#g" x="128.4" y="202.0"/><use href="#g" x="127.3" y="200.9"/><use href="#g" x="223.7" y="195.3"/><use href="#g" x="222.6" y="194.2"/><use href="#g" x="221.5" y="193.1"/><use href="#g" x="220.4" y="192.0"/><use href="#g" x="133.6" y="262.3"/><use href="#g" x="132.5" y="261.2"/><use href="#g" x="131.4" y="260.1"/><use href="#g" x="130.3" y="259.0"/><use href="#g" x="129.2" y="257.9"/><use href="#g" x="128.1" y="256.8"/><use href="#g" x="149.0" y="274.4"/><use href="#g" x="147.9" y="273.3"/><use href="#g" x="147.9" y="255.5"/><use href="#g" x="146.8" y="254.4"/><use href="#g" x="145.7" y="253.3"/><use href="#g" x="144.6" y="252.2"/><use href="#g" x="143.5" y="251.1"/><use href="#g" x="251.6" y="203.1"/><use href="#g" x="250.5" y="202.0"/><use href="#g" x="249.4" y="200.9"/><use href="#g" x="248.3" y="199.8"/><use href="#g" x="247.2" y="198.7"/><use href="#g" x="229.6" y="205.9"/><use href="#g" x="228.5" y="204.8"/><use href="#g" x="133.8" y="193.3"/><use href="#g" x="132.7" y="192.2"/><use href="#g" x="131.6" y="191.1"/><use href="#g" x="189.8" y="197.1"/><use href="#g" x="188.7" y="196.0"/><use href="#g" x="135.0" y="198.9"/><use href="#g" x="133.9" y="197.8"/><use href="#g" x="132.8" y="196.7"/><use href="#g" x="131.7" y="195.6"/><use href="#g" x="130.6" y="194.5"/><use href="#g" x="133.9" y="214.8"/><use href="#g" x="132.8" y="213.7"/><use href="#g" x="131.7" y="212.6"/><use href="#g" x="130.6" y="211.5"/><use href="#g" x="129.5" y="210.4"/><use href="#g" x="154.3" y="198.9"/><use href="#g" x="153.2" y="197.8"/><use href="#g" x="152.1" y="196.7"/><use href="#g" x="142.9" y="270.5"/><use href="#g" x="141.8" y="269.4"/><use href="#g" x="148.8" y="263.8"/><use href="#g" x="147.7" y="262.7"/><use href="#g" x="190.8" y="240.8"/><use href="#g" x="189.7" y="239.7"/><use href="#g" x="188.6" y="238.6"/><use href="#g" x="161.9" y="185.3"/><use href="#g" x="160.8" y="184.2"/><use href="#g" x="179.5" y="179.6"/><use href="#g" x="178.4" y="178.5"/><use href="#g" x="177.3" y="177.4"/><use href="#g" x="176.2" y="176.3"/><use href="#g" x="188.1" y="171.5"/><use href="#g" x="187.0" y="170.4"/><use href="#g" x="185.9" y="169.3"/><use href="#g" x="184.8" y="168.2"/><use href="#g" x="185.6" y="176.8"/><use href="#g" x="184.5" y="175.7"/><use href="#g" x="183.4" y="174.6"/><use href="#g" x="172.0" y="195.6"/><use href="#g" x="170.9" y="194.5"/><use href="#g" x="169.8" y="193.4"/><use href="#g" x="168.7" y="192.3"/><use href="#g" x="167.6" y="191.2"/><use href="#g" x="202.4" y="204.5"/><use href="#g" x="201.3" y="203.4"/><use href="#g" x="200.2" y="202.3"/><use href="#g" x="199.1" y="201.2"/><use href="#g" x="198.0" y="200.1"/><use href="#g" x="196.9" y="199.0"/><use href="#g" x="196.3" y="201.4"/><use href="#g" x="195.2" y="200.3"/><use href="#g" x="194.1" y="199.2"/><use href="#g" x="193.0" y="198.1"/><use href="#g" x="191.9" y="197.0"/><use href="#g" x="139.8" y="244.9"/><use href="#g" x="138.7" y="243.8"/><use href="#g" x="166.1" y="260.5"/><use href="#g" x="165.0" y="259.4"/><use href="#g" x="163.9" y="258.3"/><use href="#g" x="162.8" y="257.2"/><use href="#g" x="135.3" y="184.3"/><use href="#g" x="134.2" y="183.2"/><use href="#g" x="133.1" y="182.1"/><use href="#g" x="132.0" y="181.0"/><use href="#g" x="157.4" y="169.0"/><use href="#g" x="156.3" y="167.9"/><use href="#g" x="219.2" y="198.0"/><use href="#g" x="218.1" y="196.9"/><use href="#g" x="217.0" y="195.8"/><use href="#g" x="215.9" y="194.7"/><use href="#g" x="128.6" y="198.0"/><use href="#g" x="127.5" y="196.9"/><use href="#g" x="126.4" y="195.8"/><use href="#g" x="125.3" y="194.7"/><use href="#g" x="124.2" y="193.6"/><use href="#g" x="123.1" y="192.5"/><use href="#g" x="180.5" y="216.4"/><use href="#g" x="179.4" y="215.3"/><use href="#g" x="178.3" y="214.2"/><use href="#g" x="177.2" y="213.1"/><use href="#g" x="176.1" y="212.0"/><use href="#g" x="175.0" y="210.9"/><use href="#g" x="274.0" y="202.3"/><use href="#g" x="272.9" y="201.2"/><use href="#g" x="271.8" y="200.1"/><use href="#g" x="270.7" y="199.0"/><use href="#g" x="178.9" y="253.0"/><use href="#g" x="177.8" y="251.9"/><use href="#g" x="176.7" y="250.8"/><use href="#g" x="175.6" y="249.7"/><use href="#g" x="174.5" y="248.6"/><use href="#g" x="173.4" y="247.5"/><use href="#g" x="211.4" y="205.4"/><use href="#g" x="210.3" y="204.3"/><use href="#g" x="209.2" y="203.2"/><use href="#g" x="208.1" y="202.1"/><use href="#g" x="148.4" y="175.7"/><use href="#g" x="147.3" y="174.6"/><use href="#g" x="146.2" y="173.5"/><use href="#g" x="145.1" y="172.4"/><use href="#g" x="144.0" y="171.3"/><use href="#g" x="142.9" y="170.2"/><use href="#g" x="147.0" y="277.3"/><use href="#g" x="145.9" y="276.2"/><use href="#g" x="144.8" y="275.1"/><use href="#g" x="201.4" y="249.3"/><use href="#g" x="200.3" y="248.2"/><use href="#g" x="199.2" y="247.1"/><use href="#g" x="198.1" y="246.0"/><use href="#g" x="142.8" y="170.2"/><use href="#g" x="160.5" y="204.7"/><use href="#g" x="159.4" y="203.6"/><use href="#g" x="158.3" y="202.5"/><use href="#g" x="157.2" y="201.4"/><use href="#g" x="165.5" y="177.4"/><use href="#g" x="164.4" y="176.3"/><use href="#g" x="201.7" y="203.0"/><use href="#g" x="200.6" y="201.9"/><use href="#g" x="199.5" y="200.8"/><use href="#g" x="198.4" y="199.7"/><use href="#g" x="197.3" y="198.6"/><use href="#g" x="196.2" y="197.5"/><use href="#g" x="170.7" y="266.1"/><use href="#g" x="169.6" y="265.0"/><use href="#g" x="168.5" y="263.9"/><use href="#g" x="167.4" y="262.8"/><use href="#g" x="166.3" y="261.7"/><use href="#g" x="165.2" y="260.6"/><use href="#g" x="150.3" y="270.1"/><use href="#g" x="149.2" y="269.0"/><use href="#g" x="148.1" y="267.9"/><use href="#g" x="207.7" y="189.6"/><use href="#g" x="206.6" y="188.5"/><use href="#g" x="205.5" y="187.4"/><use href="#g" x="183.4" y="231.3"/><use href="#g" x="182.3" y="230.2"/><use href="#g" x="181.2" y="229.1"/><use href="#g" x="180.1" y="228.0"/><use href="#g" x="238.9" y="254.2"/><use href="#g" x="237.8" y="253.1"/><use href="#g" x="204.8" y="201.6"/><use href="#g" x="203.7" y="200.5"/><use href="#g" x="202.6" y="199.4"/><use href="#g" x="218.4" y="192.8"/><use href="#g" x="217.3" y="191.7"/><use href="#g" x="136.5" y="275.4"/><use href="#g" x="135.4" y="274.3"/><use href="#g" x="134.3" y="273.2"/><use href="#g" x="241.4" y="208.0"/><use href="#g" x="240.3" y="206.9"/><use href="#g" x="239.2" y="205.8"/><use href="#g" x="238.1" y="204.7"/><use href="#g" x="135.7" y="202.0"/><use href="#g" x="134.6" y="200.9"/><use href="#g" x="133.5" y="199.8"/><use href="#g" x="155.5" y="183.7"/><use href="#g" x="154.4" y="182.6"/><use href="#g" x="153.3" y="181.5"/><use href="#g" x="152.2" y="180.4"/><use href="#g" x="151.1" y="179.3"/><use href="#g" x="193.7" y="258.7"/><use href="#g" x="192.6" y="257.6"/><use href="#g" x="160.2" y="181.7"/><use href="#g" x="159.1" y="180.6"/><use href="#g" x="158.0" y="179.5"/><use href="#g" x="156.9" y="178.4"/><use href="#g" x="272.1" y="198.8"/><use href="#g" x="271.0" y="197.7"/><use href="#g" x="269.9" y="196.6"/><use href="#g" x="250.6" y="243.8"/><use href="#g" x="249.5" y="242.7"/><use href="#g" x="248.4" y="241.6"/><use href="#g" x="233.3" y="249.0"/><use href="#g" x="232.2" y="247.9"/><use href="#g" x="131.9" y="251.5"/><use href="#g" x="130.8" y="250.4"/><use href="#g" x="129.7" y="249.3"/><use href="#g" x="128.6" y="248.2"/><use href="#g" x="154.8" y="255.5"/><use href="#g" x="153.7" y="254.4"/><use href="#g" x="152.6" y="253.3"/><use href="#g" x="151.5" y="252.2"/><use href="#g" x="150.4" y="251.1"/><use href="#g" x="149.3" y="250.0"/><use href="#g" x="166.6" y="177.3"/><use href="#g" x="165.5" y="176.2"/><use href="#g" x="164.4" y="175.1"/><use href="#g" x="239.6" y="243.3"/><use href="#g" x="228.0" y="244.7"/><use href="#g" x="207.2" y="208.6"/><use href="#g" x="206.1" y="207.5"/><use href="#g" x="205.0" y="206.4"/><use href="#g" x="203.9" y="205.3"/><use href="#g" x="136.4" y="262.2"/><use href="#g" x="135.3" y="261.1"/><use href="#g" x="134.2" y="260.0"/><use href="#g" x="133.1" y="258.9"/><use href="#g" x="132.0" y="257.8"/><use href="#g" x="161.5" y="211.6"/><use href="#g" x="160.4" y="210.5"/><use href="#g" x="159.3" y="209.4"/><use href="#g" x="158.2" y="208.3"/><use href="#g" x="157.1" y="207.2"/><use href="#g" x="238.8" y="192.7"/><use href="#g" x="237.7" y="191.6"/><use href="#g" x="236.6" y="190.5"/><use href="#g" x="180.5" y="182.9"/><use href="#g" x="179.4" y="181.8"/><use href="#g" x="178.3" y="180.7"/><use href="#g" x="170.6" y="207.3"/><use href="#g" x="169.5" y="206.2"/><use href="#g" x="168.4" y="205.1"/><use href="#g" x="167.3" y="204.0"/><use href="#g" x="166.2" y="202.9"/><use href="#g" x="165.1" y="201.8"/><use href="#g" x="192.5" y="169.0"/><use href="#g" x="191.4" y="167.9"/><use href="#g" x="190.3" y="166.8"/><use href="#g" x="162.0" y="176.9"/><use href="#g" x="160.9" y="175.8"/><use href="#g" x="244.2" y="204.9"/><use href="#g" x="243.1" y="203.8"/><use href="#g" x="242.0" y="202.7"/><use href="#g" x="168.8" y="184.8"/><use href="#g" x="167.7" y="183.7"/><use href="#g" x="152.7" y="236.6"/><use href="#g" x="151.6" y="235.5"/><use href="#g" x="153.6" y="179.8"/><use href="#g" x="152.5" y="178.7"/><use href="#g" x="185.9" y="256.9"/><use href="#g" x="184.8" y="255.8"/><use href="#g" x="183.7" y="254.7"/><use href="#g" x="182.6" y="253.6"/><use href="#g" x="174.9" y="188.9"/><use href="#g" x="173.8" y="187.8"/><use href="#g" x="272.6" y="205.4"/><use href="#g" x="271.5" y="204.3"/><use href="#g" x="127.5" y="239.7"/><use href="#g" x="166.8" y="244.6"/><use href="#g" x="165.7" y="243.5"/><use href="#g" x="164.6" y="242.4"/><use href="#g" x="163.5" y="241.3"/><use href="#g" x="162.4" y="240.2"/><use href="#g" x="161.3" y="239.1"/><use href="#g" x="157.4" y="242.0"/><use href="#g" x="156.3" y="240.9"/><use href="#g" x="188.0" y="216.3"/><use href="#g" x="186.9" y="215.2"/><use href="#g" x="137.9" y="254.5"/><use href="#g" x="136.8" y="253.4"/><use href="#g" x="135.7" y="252.3"/><use href="#g" x="134.6" y="251.2"/><use href="#g" x="133.5" y="250.1"/><use href="#g" x="166.9" y="233.7"/><use href="#g" x="165.8" y="232.6"/><use href="#g" x="176.4" y="172.0"/><use href="#g" x="175.3" y="170.9"/><use href="#g" x="147.8" y="237.9"/><use href="#g" x="146.7" y="236.8"/><use href="#g" x="145.6" y="235.7"/><use href="#g" x="211.2" y="198.0"/><use href="#g" x="210.1" y="196.9"/><use href="#g" x="209.0" y="195.8"/><use href="#g" x="207.9" y="194.7"/><use href="#g" x="206.8" y="193.6"/><use href="#g" x="205.7" y="192.5"/><use href="#g" x="165.9" y="268.7"/><use href="#g" x="164.8" y="267.6"/><use href="#g" x="163.7" y="266.5"/><use href="#g" x="162.6" y="265.4"/><use href="#g" x="161.5" y="264.3"/><use href="#g" x="161.5" y="256.3"/><use href="#g" x="160.4" y="255.2"/><use href="#g" x="159.3" y="254.1"/><use href="#g" x="158.2" y="253.0"/><use href="#g" x="157.1" y="251.9"/><use href="#g" x="140.7" y="275.2"/><use href="#g" x="139.6" y="274.1"/><use href="#g" x="138.5" y="273.0"/><use href="#g" x="178.8" y="222.9"/><use href="#g" x="177.7" y="221.8"/><use href="#g" x="176.6" y="220.7"/><use href="#g" x="137.2" y="208.9"/><use href="#g" x="136.1" y="207.8"/><use href="#g" x="135.0" y="206.7"/><use href="#g" x="133.9" y="205.6"/><use href="#g" x="237.4" y="203.2"/><use href="#g" x="236.3" y="202.1"/><use href="#g" x="235.2" y="201.0"/><use href="#g" x="234.1" y="199.9"/><use href="#g" x="264.2" y="208.5"/><use href="#g" x="263.1" y="207.4"/><use href="#g" x="262.0" y="206.3"/><use href="#g" x="260.9" y="205.2"/><use href="#g" x="209.7" y="259.2"/><use href="#g" x="208.6" y="258.1"/><use href="#g" x="241.5" y="246.6"/><use href="#g" x="240.4" y="245.5"/><use href="#g" x="239.3" y="244.4"/><use href="#g" x="238.2" y="243.3"/><use href="#g" x="241.7" y="249.7"/><use href="#g" x="240.6" y="248.6"/><use href="#g" x="239.5" y="247.5"/><use href="#g" x="238.4" y="246.4"/><use href="#g" x="237.3" y="245.3"/><use href="#g" x="189.5" y="175.6"/><use href="#g" x="188.4" y="174.5"/><use href="#g" x="187.3" y="173.4"/><use href="#g" x="186.2" y="172.3"/><use href="#g" x="175.8" y="178.0"/><use href="#g" x="174.7" y="176.9"/><use href="#g" x="155.8" y="250.7"/><use href="#g" x="154.7" y="249.6"/><use href="#g" x="153.6" y="248.5"/><use href="#g" x="238.5" y="209.1"/><use href="#g" x="237.4" y="208.0"/><use href="#g" x="236.3" y="206.9"/><use href="#g" x="235.2" y="205.8"/><use href="#g" x="149.5" y="241.7"/><use href="#g" x="148.4" y="240.6"/><use href="#g" x="147.3" y="239.5"/><use href="#g" x="146.2" y="238.4"/><use href="#g" x="128.3" y="250.0"/><use href="#g" x="127.2" y="248.9"/><use href="#g" x="134.4" y="184.3"/><use href="#g" x="133.3" y="183.2"/><use href="#g" x="132.2" y="182.1"/><use href="#g" x="169.7" y="245.0"/><use href="#g" x="168.6" y="243.9"/><use href="#g" x="179.7" y="259.6"/><use href="#g" x="178.6" y="258.5"/><use href="#g" x="177.5" y="257.4"/><use href="#g" x="176.4" y="256.3"/><use href="#g" x="175.3" y="255.2"/><use href="#g" x="199.2" y="170.7"/><use href="#g" x="198.1" y="169.6"/><use href="#g" x="197.0" y="168.5"/><use href="#g" x="195.9" y="167.4"/><use href="#g" x="147.4" y="259.9"/><use href="#g" x="146.3" y="258.8"/><use href="#g" x="145.2" y="257.7"/><use href="#g" x="144.1" y="256.6"/><use href="#g" x="168.2" y="182.7"/><use href="#g" x="167.1" y="181.6"/><use href="#g" x="166.0" y="180.5"/><use href="#g" x="164.9" y="179.4"/><use href="#g" x="163.8" y="178.3"/><use href="#g" x="167.4" y="248.4"/><use href="#g" x="166.3" y="247.3"/><use href="#g" x="165.2" y="246.2"/><use href="#g" x="164.1" y="245.1"/><use href="#g" x="163.0" y="244.0"/><use href="#g" x="153.5" y="272.5"/><use href="#g" x="152.4" y="271.4"/><use href="#g" x="151.3" y="270.3"/><use href="#g" x="150.2" y="269.2"/><use href="#g" x="179.3" y="168.5"/><use href="#g" x="178.2" y="167.4"/><use href="#g" x="177.1" y="166.3"/><use href="#g" x="149.0" y="197.0"/><use href="#g" x="147.9" y="195.9"/><use href="#g" x="146.8" y="194.8"/><use href="#g" x="145.7" y="193.7"/><use href="#g" x="179.8" y="233.6"/><use href="#g" x="178.7" y="232.5"/><use href="#g" x="130.2" y="253.1"/><use href="#g" x="129.1" y="252.0"/><use href="#g" x="128.0" y="250.9"/><use href="#g" x="126.9" y="249.8"/><use href="#g" x="155.4" y="273.1"/><use href="#g" x="154.3" y="272.0"/><use href="#g" x="153.2" y="270.9"/><use href="#g" x="152.1" y="269.8"/><use href="#g" x="151.0" y="268.7"/><use href="#g" x="149.9" y="267.6"/><use href="#gL" x="147.0" y="167.3"/><use href="#gL" x="157.4" y="165.6"/><use href="#gL" x="130.2" y="176.0"/><use href="#gL" x="137.7" y="177.1"/><use href="#gL" x="147.5" y="178.3"/><use href="#gL" x="152.7" y="172.0"/><use href="#gL" x="127.3" y="182.3"/><use href="#gL" x="121.6" y="188.7"/><use href="#gL" x="133.1" y="183.5"/><use href="#gL" x="158.5" y="183.5"/><use href="#gL" x="164.3" y="184.7"/><use href="#gL" x="170.1" y="180.6"/><use href="#gL" x="174.7" y="176.0"/><use href="#gL" x="125.0" y="195.0"/><use href="#gL" x="143.5" y="188.1"/><use href="#gL" x="151.6" y="187.0"/><use href="#gL" x="170.1" y="194.5"/><use href="#gL" x="213.7" y="170.3"/><use href="#gL" x="225.5" y="175.8"/><use href="#gL" x="198.7" y="167.7"/><use href="#gL" x="178.5" y="164.8"/><use href="#gL" x="184.8" y="166.0"/><use href="#gL" x="192.3" y="178.1"/><use href="#gL" x="199.8" y="184.5"/><use href="#gL" x="210.8" y="185.6"/><use href="#gL" x="177.3" y="175.8"/><use href="#gL" x="186.6" y="182.7"/><use href="#gL" x="218.9" y="188.5"/><use href="#gL" x="224.7" y="188.5"/><use href="#gL" x="230.4" y="188.5"/><use href="#gL" x="243.2" y="188.5"/><use href="#gL" x="245.8" y="191.2"/><use href="#gL" x="274.1" y="191.2"/><use href="#gL" x="291.8" y="190.6"/><use href="#gL" x="294.9" y="196.4"/><use href="#gL" x="290.8" y="201.6"/><use href="#gL" x="249.2" y="198.1"/><use href="#gL" x="268.9" y="198.1"/><use href="#gL" x="262.5" y="202.2"/><use href="#gL" x="279.9" y="201.0"/><use href="#gL" x="252.1" y="203.3"/><use href="#gL" x="267.7" y="208.0"/><use href="#gL" x="294.3" y="220.8"/><use href="#gL" x="298.3" y="226.6"/><use href="#gL" x="293.1" y="234.1"/><use href="#gL" x="292.0" y="239.9"/><use href="#gL" x="272.3" y="248.5"/><use href="#gL" x="279.9" y="211.6"/><use href="#gL" x="274.7" y="219.1"/><use href="#gL" x="267.7" y="209.2"/><use href="#gL" x="208.5" y="268.3"/><use href="#gL" x="202.1" y="268.3"/><use href="#gL" x="221.2" y="253.9"/><use href="#gL" x="236.2" y="252.7"/><use href="#gL" x="242.0" y="256.2"/><use href="#gL" x="125.6" y="228.7"/><use href="#gL" x="136.6" y="235.0"/><use href="#gL" x="142.9" y="232.7"/><use href="#gL" x="151.0" y="225.2"/><use href="#gL" x="160.2" y="226.9"/><use href="#gL" x="130.8" y="238.5"/><use href="#gL" x="121.6" y="245.4"/><use href="#gL" x="125.0" y="274.7"/><use href="#gL" x="133.7" y="277.6"/><use href="#gL" x="140.6" y="280.5"/><use href="#gL" x="152.2" y="279.9"/><use href="#gL" x="136.6" y="267.2"/><use href="#gL" x="122.7" y="264.3"/><use href="#gL" x="170.1" y="273.0"/><use href="#gL" x="207.9" y="268.3"/><use href="#gL" x="201.0" y="269.4"/><use href="#gL" x="191.2" y="275.2"/><use href="#gL" x="170.4" y="273.5"/><use href="#gL" x="221.2" y="255.6"/><use href="#gL" x="209.7" y="256.7"/><use href="#gL" x="236.6" y="252.3"/><use href="#gL" x="242.3" y="255.2"/><use href="#gL" x="271.8" y="250.6"/><use href="#gL" x="226.2" y="250.0"/><use href="#p" x="196.6" y="295.0"/><use href="#p" x="150.7" y="293.2"/><use href="#p" x="157.1" y="290.9"/><use href="#p" x="180.2" y="289.4"/><use href="#p" x="192.3" y="285.6"/><use href="#p" x="167.0" y="284.8"/><use href="#p" x="176.2" y="283.6"/><use href="#p" x="191.5" y="164.1"/><use href="#p" x="125.7" y="164.0"/><use href="#p" x="170.9" y="163.6"/><use href="#p" x="203.0" y="156.2"/><use href="#p" x="208.0" y="151.5"/>
<path d="M55.4 67.8V378.4H642.7" fill="none" stroke="#000" stroke-width="2.4"/>
<path d="M50.3 378.62H55.4M50.3 339.94H55.4M50.3 301.26H55.4M50.3 262.58H55.4M50.3 223.90H55.4M50.3 185.22H55.4M50.3 146.54H55.4M50.3 107.86H55.4M50.3 69.18H55.4M55.40 378.4V383.4M182.90 378.4V383.4M310.40 378.4V383.4M437.90 378.4V383.4M565.40 378.4V383.4" stroke="#000" stroke-width="2.5" fill="none"/>
</svg>
</body></html>
